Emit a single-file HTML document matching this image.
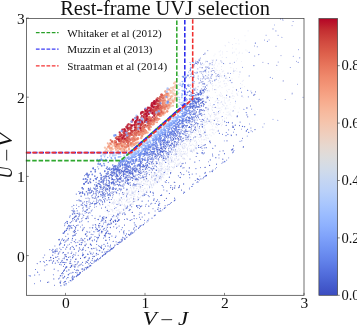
<!DOCTYPE html>
<html><head><meta charset="utf-8"><title>Rest-frame UVJ selection</title>
<style>
html,body{margin:0;padding:0;background:#fff;}
svg{display:block;}
text{font-family:"Liberation Serif","DejaVu Serif",serif;fill:#111;}
.tk{font-size:15.5px;}
.ck{font-size:14.6px;}
.lg{font-size:11.1px;}
.ti{font-size:20.5px;}
.xl{font-size:19.3px;font-style:italic;}
.mn{font-style:normal;}
</style></head><body>
<svg width="357" height="325" viewBox="0 0 357 325">
<rect width="357" height="325" fill="#fff"/>
<defs><linearGradient id="cw" x1="0" y1="0" x2="0" y2="1"><stop offset="0.0000" stop-color="#b40426"/><stop offset="0.0417" stop-color="#c32e31"/><stop offset="0.0833" stop-color="#d1493f"/><stop offset="0.1250" stop-color="#dd5f4b"/><stop offset="0.1667" stop-color="#e7745b"/><stop offset="0.2083" stop-color="#ef886b"/><stop offset="0.2500" stop-color="#f4987a"/><stop offset="0.2917" stop-color="#f7a98b"/><stop offset="0.3333" stop-color="#f7b89c"/><stop offset="0.3750" stop-color="#f5c4ac"/><stop offset="0.4167" stop-color="#efcebd"/><stop offset="0.4583" stop-color="#e7d7ce"/><stop offset="0.5000" stop-color="#dddcdc"/><stop offset="0.5417" stop-color="#d2dbe8"/><stop offset="0.5833" stop-color="#c5d6f2"/><stop offset="0.6250" stop-color="#b9d0f9"/><stop offset="0.6667" stop-color="#aac7fd"/><stop offset="0.7083" stop-color="#9bbcff"/><stop offset="0.7500" stop-color="#8db0fe"/><stop offset="0.7917" stop-color="#7ea1fa"/><stop offset="0.8333" stop-color="#6f92f3"/><stop offset="0.8750" stop-color="#6282ea"/><stop offset="0.9167" stop-color="#5470de"/><stop offset="0.9583" stop-color="#465ecf"/><stop offset="1.0000" stop-color="#3b4cc0"/></linearGradient></defs><rect x="318.9" y="18.5" width="18.7" height="276.8" fill="url(#cw)" stroke="#444" stroke-width="0.7"/><line x1="337.6" y1="295.3" x2="339.8" y2="295.3" stroke="#333" stroke-width="0.6"/><text x="341.4" y="300.0" class="ck">0.0</text><line x1="337.6" y1="237.9" x2="339.8" y2="237.9" stroke="#333" stroke-width="0.6"/><text x="341.4" y="242.6" class="ck">0.2</text><line x1="337.6" y1="180.5" x2="339.8" y2="180.5" stroke="#333" stroke-width="0.6"/><text x="341.4" y="185.2" class="ck">0.4</text><line x1="337.6" y1="123.1" x2="339.8" y2="123.1" stroke="#333" stroke-width="0.6"/><text x="341.4" y="127.8" class="ck">0.6</text><line x1="337.6" y1="65.7" x2="339.8" y2="65.7" stroke="#333" stroke-width="0.6"/><text x="341.4" y="70.4" class="ck">0.8</text><g fill="none" stroke-linecap="round"><path d="M78.2 255.4h0M64.5 276.9h0M54.6 285.3h0M64.9 242.3h0M57.3 251.2h0M81.8 269.1h0M64.8 231.5h0M185.4 163.0h0M165.1 205.7h0M63.1 258.6h0M53.7 260.8h0M92.9 234.6h0M116.1 241.8h0M107.1 200.2h0M59.3 244.9h0M62.9 278.0h0M85.6 263.2h0M64.3 257.2h0M44.7 255.1h0M85.3 211.2h0M43.2 257.7h0M72.9 220.8h0M94.5 204.8h0M89.9 227.8h0M84.6 175.7h0M76.1 221.3h0M58.2 262.3h0M77.9 230.4h0M153.0 208.7h0M82.2 242.7h0M76.7 245.7h0M140.7 186.9h0M174.2 182.3h0M60.8 281.1h0M127.3 219.3h0M54.9 246.0h0M59.8 251.8h0M64.7 225.7h0M70.4 267.2h0M65.3 268.4h0M171.8 160.9h0M77.2 263.8h0M82.5 187.5h0M92.0 248.9h0M228.7 129.9h0M198.5 145.5h0M80.0 272.4h0M72.9 265.1h0M72.8 255.7h0M70.7 247.6h0M182.0 163.8h0M62.8 253.1h0M228.0 73.2h0M86.4 236.2h0M127.2 194.1h0M205.5 144.7h0M106.1 217.9h0M119.0 219.6h0M80.1 249.4h0M71.5 221.7h0M149.3 174.6h0M145.4 206.2h0M250.6 106.0h0M73.3 212.9h0M184.0 167.7h0M120.0 200.1h0M55.9 257.2h0M134.1 215.5h0M126.6 177.1h0M255.5 91.9h0M201.1 136.0h0M148.2 195.5h0M125.1 214.1h0M64.0 233.1h0M45.0 265.8h0" stroke="#3b4cc0" stroke-width="1.0" stroke-opacity="0.9"/><path d="M68.8 225.4h0M87.2 216.9h0M64.6 254.7h0M123.2 194.5h0M234.5 129.3h0M131.7 206.8h0M111.3 199.5h0M133.9 201.6h0M82.8 240.7h0M74.4 230.4h0M196.2 156.5h0M75.5 259.2h0M81.3 264.0h0M113.5 221.3h0M93.0 225.1h0M103.3 193.3h0M81.9 218.6h0M113.7 226.8h0M58.1 270.7h0M73.2 218.3h0M140.6 219.2h0M75.4 228.9h0M74.6 219.3h0M242.5 138.2h0M134.1 218.6h0M79.4 247.9h0M62.1 275.8h0M37.2 263.6h0M138.5 228.2h0M113.7 222.1h0M151.8 177.0h0M67.9 239.9h0M209.9 171.7h0M92.6 258.6h0M87.3 262.5h0M63.5 266.2h0M214.3 120.4h0M69.6 228.3h0M95.0 218.4h0M246.3 131.3h0M53.2 261.2h0M96.9 249.9h0M60.5 282.9h0M101.0 246.8h0M134.3 227.7h0M164.7 208.2h0M102.9 218.4h0M73.1 235.4h0M107.3 227.5h0M174.8 182.2h0M239.5 125.6h0M210.0 141.1h0M160.6 195.5h0M101.6 248.5h0M90.5 192.9h0M202.3 127.1h0M83.2 210.0h0M72.6 257.6h0M92.2 240.3h0M74.8 216.7h0M146.4 192.1h0M74.3 217.5h0M204.5 145.0h0M79.0 265.6h0M106.0 189.1h0M86.8 267.7h0M82.4 230.6h0M88.2 218.1h0M91.2 234.2h0M108.5 197.5h0M82.7 239.2h0M226.6 95.3h0M181.2 165.7h0M99.9 225.5h0M166.0 182.5h0M96.1 203.3h0M150.7 204.0h0M75.3 234.9h0M111.8 173.3h0M232.9 127.4h0M91.4 248.6h0M121.3 239.2h0" stroke="#3b4cc0" stroke-width="1.1" stroke-opacity="0.9"/><path d="M85.0 257.5h0M83.0 229.6h0M232.4 149.7h0M181.5 190.1h0M53.5 258.4h0M72.7 276.2h0M66.4 256.7h0M132.3 212.4h0M74.3 241.6h0M104.4 235.3h0M89.7 238.9h0M98.1 254.3h0M101.8 232.7h0M170.7 172.6h0M55.4 251.2h0M148.8 206.2h0M122.7 192.7h0M111.2 223.7h0M84.4 257.7h0M174.6 188.0h0M65.9 241.1h0M90.7 244.4h0M61.8 273.6h0M246.9 108.0h0M110.4 220.7h0M93.1 256.5h0M130.3 205.1h0M107.3 210.5h0M88.3 247.6h0M236.4 134.8h0M78.1 270.5h0M146.5 178.7h0M205.1 167.4h0M253.8 95.2h0M66.7 247.2h0M105.8 222.1h0M82.1 192.7h0M59.2 239.8h0M143.5 224.6h0M98.2 219.6h0M109.9 233.9h0M85.6 234.6h0M99.0 227.0h0M81.3 204.9h0M76.1 259.1h0M236.5 89.9h0M189.4 167.9h0M77.2 213.4h0M93.8 188.1h0M140.9 206.4h0M71.2 253.3h0M180.5 172.6h0M85.1 245.1h0M82.5 191.8h0M162.5 151.9h0M243.3 147.1h0M106.2 233.1h0M255.0 129.6h0M75.8 264.7h0" stroke="#3b4cc0" stroke-width="1.3" stroke-opacity="0.9"/><path d="M105.9 240.5h0M58.7 278.8h0M103.5 249.6h0M89.5 190.1h0M124.5 225.1h0M74.6 232.6h0M179.3 186.9h0M111.3 219.5h0M88.0 260.6h0M64.5 231.9h0M196.9 153.0h0M227.0 140.8h0M232.9 148.8h0M176.0 154.1h0M119.9 213.1h0M172.5 189.5h0M247.7 116.8h0M47.5 282.3h0M128.7 234.4h0M105.6 220.7h0M118.6 220.1h0M80.5 258.4h0M153.7 200.2h0M71.0 273.0h0M232.9 126.2h0M75.2 255.0h0M85.1 245.7h0M76.7 225.6h0M66.8 266.9h0M44.4 270.0h0M169.4 193.5h0M105.5 253.6h0M237.2 116.7h0M70.2 261.7h0M199.9 134.4h0M81.0 240.1h0M142.2 166.7h0M49.3 260.7h0M71.4 265.4h0M142.2 217.0h0M161.5 148.0h0M68.1 252.9h0M114.9 245.2h0M140.3 206.8h0M136.6 206.2h0M75.3 231.4h0M57.3 260.7h0M64.3 270.1h0M64.0 282.7h0M99.6 223.5h0M197.4 179.1h0M110.1 246.9h0M237.3 115.9h0M223.1 150.8h0M75.8 216.2h0M133.7 198.9h0M110.4 220.3h0M75.1 266.8h0M209.6 165.4h0M58.2 254.1h0M172.7 187.9h0M178.7 187.6h0M103.8 218.9h0M98.5 225.3h0M94.5 256.3h0M86.2 261.6h0M222.8 159.2h0M67.9 234.0h0M157.8 209.4h0M107.8 231.1h0M166.4 198.3h0M72.1 210.5h0M233.5 145.8h0" stroke="#3b4cc0" stroke-width="1.2" stroke-opacity="0.9"/><path d="M113.3 189.3h0M88.4 213.1h0M106.3 189.8h0M153.3 152.8h0M67.1 228.6h0M86.4 212.2h0M97.9 202.6h0M145.4 176.7h0M127.0 189.4h0M180.3 144.0h0M138.7 174.4h0M159.0 150.0h0M150.6 159.3h0M130.5 185.0h0M195.8 115.8h0M112.8 195.7h0M113.3 194.2h0M127.7 179.6h0M113.4 187.7h0M180.9 139.0h0M105.4 190.5h0M94.6 198.2h0M166.3 153.8h0M185.1 132.9h0M88.1 198.1h0M190.1 127.6h0M117.2 181.4h0M105.1 194.1h0M106.1 191.6h0M117.0 184.4h0M108.4 185.3h0M199.8 119.3h0M187.7 131.4h0M188.8 136.8h0M122.4 180.8h0M152.0 169.1h0M92.9 197.7h0M120.6 179.0h0M102.1 187.8h0M201.6 115.6h0M152.2 161.3h0M104.2 176.9h0M96.2 186.3h0M133.2 173.1h0M195.3 127.0h0M188.1 139.2h0M102.7 197.7h0M133.5 176.0h0M113.6 181.3h0M86.0 198.2h0M147.8 158.5h0M101.2 178.4h0M164.3 150.9h0M98.4 201.0h0M156.7 163.6h0M129.5 172.9h0M104.1 254.5h0M184.6 192.3h0M113.6 247.7h0M82.4 271.2h0M171.4 202.5h0M113.5 247.4h0M133.0 232.5h0M95.3 260.8h0M200.9 178.9h0M139.8 226.1h0M117.6 244.5h0M112.5 248.5h0M120.4 242.3h0M94.2 261.8h0M73.8 277.3h0M78.3 274.8h0M98.5 259.7h0M64.0 284.8h0M91.5 263.5h0" stroke="#3b4cc0" stroke-width="1.1" stroke-opacity="0.8"/><path d="M109.6 188.4h0M79.5 215.1h0M108.3 185.6h0M79.2 213.0h0M89.1 208.2h0M107.4 188.9h0M113.1 182.1h0M139.0 170.4h0M109.3 187.0h0M106.6 179.8h0M158.7 159.0h0M96.1 194.9h0M104.1 187.3h0M182.1 125.7h0M99.2 183.2h0M113.8 180.1h0M127.5 175.6h0M88.1 192.8h0M107.0 176.4h0M129.6 177.0h0M165.5 148.7h0M105.9 185.7h0M154.7 156.9h0M143.3 177.4h0M142.7 176.0h0M195.1 129.1h0M111.8 182.4h0M117.8 179.0h0M97.4 190.5h0M104.2 178.6h0M97.0 186.0h0M163.9 147.8h0M172.2 143.5h0M132.5 174.8h0M93.6 193.0h0M119.2 188.9h0M107.2 185.3h0M189.5 126.5h0M174.3 147.1h0M137.9 179.4h0M191.1 129.8h0M120.1 182.2h0M159.5 157.2h0M178.8 140.6h0M201.5 109.9h0M162.8 149.1h0M175.8 138.7h0M193.1 125.9h0M121.6 175.4h0M122.0 181.6h0M169.2 151.3h0M89.5 192.9h0M102.8 192.2h0M151.5 155.0h0M118.0 179.7h0M116.1 188.8h0M178.3 142.1h0M107.6 188.7h0M111.5 183.6h0M117.7 176.5h0M102.8 183.0h0M176.3 144.1h0M186.0 125.5h0M152.8 161.8h0M195.2 127.2h0M113.8 183.2h0M193.1 120.1h0M106.8 180.6h0M178.4 138.4h0M192.0 96.2h0M77.1 275.3h0M129.6 235.1h0M99.8 258.6h0M102.3 256.2h0M206.3 175.4h0M105.1 254.1h0M76.3 276.6h0M191.8 186.5h0M84.1 270.3h0M223.0 162.2h0M79.5 274.0h0M87.9 267.7h0" stroke="#3b4cc0" stroke-width="1.2" stroke-opacity="0.8"/><path d="M125.4 182.2h0M98.3 197.0h0M103.6 196.0h0M151.3 172.4h0M105.4 196.2h0M89.7 198.8h0M113.1 191.8h0M121.7 189.9h0M116.2 192.7h0M102.7 204.6h0M116.1 188.3h0M174.0 146.2h0M166.4 158.9h0M138.4 177.0h0M146.4 175.2h0M203.7 54.5h0M124.9 239.0h0M114.5 246.8h0M140.6 226.4h0M68.8 282.2h0M138.8 227.8h0M87.2 267.0h0M228.7 157.9h0M154.2 215.9h0" stroke="#3b4cc0" stroke-width="0.9" stroke-opacity="0.8"/><path d="M99.1 180.9h0M202.1 102.7h0M162.5 140.9h0" stroke="#3b4cc0" stroke-width="1.6" stroke-opacity="0.8"/><path d="M116.7 177.9h0M67.4 223.1h0M113.8 172.1h0M106.8 184.2h0M91.7 191.0h0M186.2 131.3h0M159.5 149.4h0M103.0 181.0h0M118.8 172.8h0M179.0 136.4h0M100.7 182.2h0M195.7 123.7h0M160.8 154.9h0M163.4 142.7h0M98.1 183.5h0M203.4 106.0h0M124.6 170.3h0M106.5 182.1h0M129.7 172.5h0M146.3 167.5h0M109.2 185.5h0M192.0 118.0h0M111.6 177.9h0M199.9 114.3h0M158.0 153.5h0M207.4 97.0h0M188.2 120.4h0M130.1 172.1h0M194.9 114.2h0M105.3 183.9h0M125.6 169.6h0M101.9 182.2h0M154.2 151.7h0M181.2 136.9h0M172.0 143.0h0M119.0 170.9h0" stroke="#3b4cc0" stroke-width="1.3" stroke-opacity="0.8"/><path d="M100.8 200.0h0M88.0 216.1h0M127.3 178.9h0M121.2 177.6h0M86.7 191.7h0M141.3 173.2h0M174.7 145.2h0M160.1 156.3h0M103.9 186.1h0M183.2 140.7h0M100.4 187.5h0M90.3 203.9h0M183.6 138.2h0M118.4 185.8h0M96.7 199.1h0M82.9 202.3h0M95.3 196.7h0M128.5 177.2h0M103.7 184.0h0M160.0 153.6h0M112.1 189.1h0M96.8 200.3h0M87.8 194.8h0M105.1 198.5h0M97.4 186.7h0M112.0 192.0h0M175.1 146.2h0M177.6 137.5h0M135.0 178.2h0M186.0 139.5h0M195.4 130.5h0M130.5 177.0h0M122.3 185.1h0M152.9 164.0h0M152.6 170.2h0M199.6 60.7h0M204.9 54.0h0M175.1 199.9h0M87.6 267.5h0M205.6 176.2h0M119.4 242.8h0M102.3 256.3h0M71.1 280.9h0M129.2 235.1h0M89.0 266.7h0M80.6 272.5h0M86.5 268.9h0M203.0 178.7h0M121.2 241.4h0M87.9 267.0h0M197.6 181.8h0M124.9 238.9h0M174.5 200.4h0" stroke="#3b4cc0" stroke-width="1.0" stroke-opacity="0.8"/><path d="M88.3 183.1h0" stroke="#3b4cc0" stroke-width="1.8" stroke-opacity="0.8"/><path d="M94.6 188.9h0M102.2 189.4h0M93.5 180.5h0M112.6 179.3h0M108.3 176.6h0M101.0 187.7h0M203.4 103.7h0M103.8 179.1h0M196.8 99.3h0M121.8 171.3h0M199.4 105.0h0M123.1 171.8h0M106.2 176.5h0M140.0 165.5h0M185.8 129.9h0M110.6 174.5h0M119.3 178.8h0M161.3 148.2h0M196.1 107.1h0M194.0 93.4h0" stroke="#3b4cc0" stroke-width="1.4" stroke-opacity="0.8"/><path d="M89.9 181.3h0M79.7 193.6h0M97.3 177.4h0M96.9 185.4h0M88.6 188.4h0M86.7 181.5h0M189.0 117.8h0M207.2 98.0h0M196.4 112.1h0M201.1 99.2h0M202.6 101.4h0M193.8 103.8h0M193.1 105.8h0M200.8 100.3h0M114.2 173.2h0M205.9 107.8h0M121.6 170.5h0" stroke="#3b4cc0" stroke-width="1.5" stroke-opacity="0.8"/><path d="M90.5 182.5h0M201.5 93.5h0M198.8 101.2h0" stroke="#3b4cc0" stroke-width="1.7" stroke-opacity="0.8"/><path d="M100.2 204.9h0M104.5 200.1h0M87.0 207.1h0M89.7 204.6h0M102.6 201.9h0M205.0 53.1h0" stroke="#3b4cc0" stroke-width="0.8" stroke-opacity="0.8"/><path d="M204.7 121.1h0M204.9 125.2h0M121.9 202.2h0M155.0 172.6h0M168.6 164.4h0M139.7 187.4h0M123.8 208.6h0M178.0 163.2h0M201.6 134.6h0M158.1 170.6h0M153.3 184.2h0M110.5 222.7h0M171.4 158.4h0M174.2 155.3h0M219.1 113.1h0M174.5 167.0h0M149.3 172.5h0M134.3 186.5h0M155.5 173.6h0M229.3 99.7h0M187.5 149.6h0M150.2 179.1h0M196.2 136.9h0M175.5 152.0h0M174.9 158.4h0M175.7 152.0h0M183.8 151.4h0M134.8 200.8h0M178.0 151.2h0M134.6 186.1h0M101.8 218.0h0M108.1 216.1h0M179.1 164.6h0M157.1 167.7h0M185.6 147.4h0M224.7 118.3h0M164.0 175.3h0M171.8 170.8h0M138.1 198.2h0M124.5 204.4h0M180.3 162.0h0M171.5 156.4h0M203.0 133.5h0M174.9 162.5h0M172.4 151.6h0M204.3 121.0h0M134.3 191.3h0M137.8 182.1h0M167.8 165.4h0M201.7 139.8h0M170.7 157.0h0M91.7 227.5h0M113.4 204.3h0M168.0 160.0h0M138.4 178.5h0M114.5 200.4h0M143.2 180.4h0M204.7 131.9h0M161.8 168.9h0M191.1 151.5h0M180.2 162.4h0M129.0 202.4h0M228.0 115.2h0M200.2 137.5h0M168.0 171.5h0M132.1 193.4h0M117.9 206.1h0M158.7 172.1h0M140.4 177.0h0M126.8 188.9h0M167.0 169.8h0M153.5 172.8h0M222.9 104.5h0M134.9 196.1h0M210.0 130.0h0M203.8 133.7h0M112.7 221.2h0M203.8 128.9h0M114.2 202.4h0M127.8 197.5h0M190.5 141.8h0M198.9 131.7h0M181.8 151.4h0M200.2 125.4h0M159.1 175.6h0M99.3 227.7h0M179.1 163.5h0M138.9 191.6h0M132.0 191.4h0M154.2 176.5h0M127.5 199.0h0M207.8 82.1h0M205.5 102.9h0M221.7 102.2h0M216.1 107.5h0M214.3 116.4h0M205.5 62.5h0M210.8 97.8h0M245.9 50.0h0M239.0 53.4h0M220.3 112.1h0M219.0 73.0h0M209.8 65.3h0M208.8 90.1h0M212.5 89.9h0M214.0 114.3h0M209.0 78.6h0M210.7 82.3h0M220.6 73.9h0M244.6 86.6h0M224.2 83.8h0M201.9 99.5h0M219.2 94.9h0M238.9 77.0h0M215.3 63.2h0M230.4 102.5h0M202.6 90.3h0M239.0 43.9h0M206.6 96.1h0M202.8 82.0h0M227.8 80.3h0M217.9 105.2h0M235.2 70.5h0M208.5 109.7h0M207.7 107.6h0" stroke="#3b4cc0" stroke-width="0.6" stroke-opacity="0.2"/><path d="M168.2 163.2h0M213.0 132.8h0M237.4 94.4h0M189.2 140.8h0M102.9 221.6h0M223.4 112.6h0M170.5 158.9h0M181.4 156.5h0M186.3 140.0h0M126.4 207.6h0M169.9 162.3h0M107.8 205.1h0M99.2 231.1h0M208.1 138.4h0M131.5 192.8h0M126.8 208.5h0M130.1 194.9h0M144.1 180.2h0M193.6 150.3h0M191.1 150.1h0M122.7 199.6h0M161.3 177.8h0M150.4 184.2h0M181.5 145.7h0M178.1 159.5h0M105.0 216.5h0M181.5 156.5h0M167.9 157.0h0M118.2 211.0h0M96.1 230.1h0M230.7 114.9h0M158.2 180.3h0M106.7 217.6h0M156.1 181.7h0M143.8 183.5h0M113.0 202.8h0M108.8 214.7h0M180.7 144.5h0M118.1 213.6h0M148.5 180.7h0M187.7 149.2h0M122.2 213.4h0M197.7 129.9h0M192.3 144.2h0M183.8 159.2h0M150.9 184.1h0M126.5 200.5h0M153.3 184.2h0M108.5 205.6h0M210.2 122.8h0M125.2 206.6h0M192.7 151.1h0M190.6 141.4h0M187.4 147.9h0M196.7 142.1h0M187.5 140.9h0M195.9 147.6h0M114.6 216.8h0M185.1 143.7h0M147.0 192.4h0M183.8 154.2h0M157.3 182.1h0M113.0 210.3h0M162.1 167.0h0M200.8 131.0h0M151.7 184.4h0M184.0 158.6h0M161.1 174.0h0M158.7 164.6h0M129.2 198.6h0M171.6 149.8h0M158.8 177.1h0M143.5 190.0h0M150.2 183.1h0M135.4 199.0h0M189.1 141.0h0M182.2 147.8h0M134.2 194.5h0M145.0 188.7h0M165.6 168.7h0M94.8 232.7h0M137.6 197.1h0M196.2 149.7h0M175.3 148.9h0M196.1 143.5h0M112.5 211.2h0M215.2 118.1h0M160.3 170.9h0M195.1 146.3h0M221.5 125.7h0M126.8 199.9h0M190.1 139.7h0M99.2 217.6h0M156.4 181.0h0M160.9 168.6h0M168.0 152.5h0M215.7 127.0h0M190.8 145.2h0M139.1 186.5h0M141.7 181.8h0M160.7 177.8h0M205.5 84.1h0M212.6 110.2h0M208.8 105.7h0M224.5 73.7h0M221.4 69.5h0M213.2 59.7h0M214.6 114.1h0M220.0 95.3h0M221.8 101.7h0M225.1 45.4h0M201.5 123.3h0M209.1 114.4h0M206.1 110.5h0M221.9 75.6h0M205.9 122.3h0M210.7 105.2h0M206.4 68.3h0M213.0 85.3h0M239.3 74.7h0M218.7 113.8h0M234.5 38.5h0M210.2 82.8h0M207.1 96.1h0M232.6 44.5h0M219.8 85.8h0M209.0 120.4h0M227.3 91.8h0M224.8 83.6h0M222.2 71.9h0M213.0 107.6h0M212.5 88.4h0M211.1 71.7h0" stroke="#3b4cc0" stroke-width="0.7" stroke-opacity="0.2"/><path d="M161.0 174.1h0M143.8 178.5h0M126.0 208.7h0M148.5 180.4h0M162.8 176.2h0M185.6 151.8h0M124.6 193.0h0M167.1 169.2h0M109.4 206.1h0M130.5 187.4h0M161.0 170.3h0M176.6 154.0h0M200.2 124.0h0M185.9 154.1h0M235.4 103.1h0M113.7 201.3h0M197.9 134.8h0M134.9 192.4h0M153.7 176.4h0M129.1 201.6h0M126.6 206.9h0M128.2 192.9h0M152.5 168.7h0M171.4 166.7h0M238.5 91.5h0M166.1 160.7h0M108.0 226.1h0M127.0 200.9h0M204.7 125.8h0M190.8 134.3h0M142.4 176.2h0M131.8 195.2h0M161.8 169.7h0M99.2 224.0h0M136.4 188.8h0M176.0 151.0h0M119.0 198.9h0M140.6 184.2h0M182.4 154.6h0M119.0 209.8h0M217.7 121.3h0M166.8 174.1h0M116.3 210.7h0M213.5 123.9h0M132.2 204.3h0M205.1 131.1h0M138.8 197.9h0M183.4 143.5h0M91.6 230.6h0M111.4 209.6h0M182.7 145.0h0M162.9 159.0h0M193.8 137.3h0M196.6 142.2h0M201.4 144.6h0M147.0 184.3h0M142.4 177.5h0M173.2 161.5h0M187.5 150.3h0M226.3 83.7h0M222.4 104.1h0M215.1 114.4h0M232.0 93.3h0M209.1 91.0h0M227.0 51.5h0M202.7 75.7h0M216.1 114.0h0M232.7 52.4h0M215.2 101.8h0M228.5 42.3h0M240.4 83.5h0M243.2 80.4h0" stroke="#3b4cc0" stroke-width="0.8" stroke-opacity="0.2"/><path d="M156.0 174.4h0M152.0 173.9h0M217.4 118.9h0M200.3 134.8h0M143.7 178.9h0M175.4 152.2h0M178.8 160.1h0M109.2 210.2h0M188.3 135.2h0M111.4 216.3h0M216.2 118.5h0M140.1 188.6h0M187.0 155.2h0M174.6 166.6h0M161.3 176.0h0M208.5 119.9h0M161.6 178.2h0M106.7 225.7h0M124.9 207.6h0M226.5 118.4h0M191.3 134.9h0M145.5 181.6h0M130.9 194.9h0M131.7 197.3h0M210.9 115.7h0M133.1 193.7h0M159.4 182.0h0M153.4 167.9h0M149.8 174.7h0M196.5 134.0h0M160.1 178.0h0M179.2 151.9h0M132.8 203.0h0M167.9 169.1h0M129.7 190.9h0M201.8 142.4h0M165.6 156.8h0M183.0 158.0h0M112.1 203.2h0M185.0 154.2h0M228.0 101.0h0M197.7 144.2h0M162.5 159.6h0M164.7 155.6h0M211.8 73.7h0M223.4 81.5h0M241.5 61.5h0M220.1 86.1h0M204.5 102.6h0M215.4 71.6h0M227.1 85.3h0M209.5 78.8h0M211.9 60.0h0M209.5 116.0h0M202.8 65.3h0M229.6 89.5h0M219.9 108.2h0M225.2 102.9h0M201.8 125.5h0" stroke="#3b4cc0" stroke-width="0.5" stroke-opacity="0.2"/><path d="M293.1 21.5h0M278.1 35.4h0M208.5 161.8h0M276.0 46.3h0M205.0 132.5h0M278.2 62.1h0M219.0 158.0h0M214.9 89.6h0M202.4 67.7h0M198.3 63.0h0M203.0 84.3h0M212.2 62.7h0M203.5 78.0h0M211.7 75.9h0M212.9 70.5h0M211.5 71.2h0M206.1 66.9h0M207.0 78.4h0" stroke="#3b4cc0" stroke-width="1.0" stroke-opacity="0.7"/><path d="M241.4 129.2h0M199.8 176.2h0M281.0 55.6h0M296.4 61.4h0M262.9 62.4h0M292.2 93.2h0M285.2 99.5h0M254.5 46.0h0M229.4 77.5h0M220.9 60.9h0M195.8 88.2h0M195.8 90.0h0M201.6 88.9h0M206.6 88.6h0M200.4 62.9h0" stroke="#3b4cc0" stroke-width="0.9" stroke-opacity="0.7"/><path d="M276.8 65.3h0M268.2 63.6h0M202.0 148.5h0M283.2 80.9h0M230.0 63.2h0M201.8 146.8h0M217.6 75.0h0M201.9 67.8h0M202.9 81.5h0" stroke="#3b4cc0" stroke-width="1.1" stroke-opacity="0.7"/><path d="M258.8 54.6h0M215.2 107.4h0M195.3 180.5h0M229.7 96.9h0" stroke="#3b4cc0" stroke-width="1.2" stroke-opacity="0.7"/><path d="M203.6 90.0h0M193.1 85.7h0M204.9 78.8h0M197.5 64.2h0M194.1 65.7h0M198.1 86.7h0M213.8 70.5h0" stroke="#3b4cc0" stroke-width="0.7" stroke-opacity="0.7"/><path d="M203.3 83.5h0M201.3 73.2h0M204.6 84.0h0M212.3 81.2h0M215.2 79.9h0M205.5 79.2h0M218.0 76.2h0" stroke="#3b4cc0" stroke-width="0.8" stroke-opacity="0.7"/><path d="M83.0 249.3h0M90.9 253.2h0M66.4 230.4h0M76.0 221.0h0M135.1 224.9h0M90.1 206.3h0M85.8 218.6h0M183.6 184.0h0M97.9 231.2h0M110.4 227.5h0M102.2 252.2h0M105.7 233.5h0M148.9 213.0h0M167.9 156.9h0M65.2 281.5h0M184.0 192.2h0M150.5 192.0h0M52.5 263.0h0M70.1 256.8h0M118.4 220.7h0M233.4 127.2h0M37.6 272.2h0M107.5 243.2h0M204.9 132.1h0M95.7 203.8h0M89.9 238.4h0M255.4 43.1h0M162.2 185.6h0M99.7 250.7h0M85.9 174.5h0M212.3 171.5h0M50.8 257.3h0M105.1 236.8h0M83.7 215.3h0M72.8 218.6h0M109.8 224.4h0M71.0 227.8h0M174.6 198.2h0M75.6 227.5h0M84.2 269.2h0M70.8 263.4h0M158.9 205.3h0M95.7 197.9h0M102.7 220.2h0M106.4 217.4h0M231.2 135.1h0M111.6 248.4h0M118.0 214.7h0M74.3 249.1h0M74.6 235.2h0M226.2 125.3h0M61.0 249.6h0M65.8 254.7h0M190.8 139.7h0M106.5 232.3h0M126.5 171.8h0M58.7 253.1h0M133.1 185.1h0M89.7 232.1h0M210.3 159.9h0M161.5 195.2h0M195.2 136.9h0M92.5 203.2h0M80.1 264.8h0M78.1 218.2h0M103.8 216.9h0M70.2 249.0h0M180.2 177.3h0M159.8 178.1h0M104.0 244.3h0M66.7 271.1h0M87.6 254.2h0M212.8 148.3h0M247.5 129.3h0M119.0 220.0h0M64.6 276.3h0M163.5 158.5h0M96.6 228.8h0M46.9 264.7h0M136.3 226.5h0M101.7 220.2h0M85.4 234.2h0M104.2 228.4h0M115.6 220.4h0M86.6 205.6h0M89.3 257.8h0M133.6 229.1h0M83.5 254.7h0M68.5 257.3h0M105.2 189.1h0M228.4 122.5h0M82.5 269.0h0M63.5 240.5h0M97.7 238.8h0M215.2 145.8h0M71.6 266.5h0M224.5 75.8h0M77.0 272.8h0M52.9 249.5h0M101.2 247.1h0M233.3 151.9h0M169.4 177.2h0M59.9 244.2h0M61.7 261.8h0M70.3 222.7h0M67.3 221.7h0M198.8 147.4h0M56.2 251.2h0M193.9 117.0h0M51.0 260.2h0M70.8 259.8h0M84.8 238.6h0M52.8 252.0h0M117.0 204.3h0M59.7 264.3h0M72.9 272.5h0M226.0 135.6h0M95.3 203.6h0M85.0 211.4h0M97.0 237.4h0M62.1 260.4h0M86.6 218.5h0M111.3 218.8h0M165.7 162.4h0M158.9 204.3h0M93.9 248.4h0M118.6 168.8h0M73.2 211.6h0M66.4 266.8h0M115.0 220.3h0M73.8 205.3h0M202.3 152.8h0M64.9 231.2h0M40.3 261.7h0M99.4 235.7h0M218.9 154.8h0M88.9 263.8h0M68.3 274.7h0M67.1 259.8h0M194.8 162.1h0M155.2 203.3h0M89.1 258.7h0M98.4 237.5h0M204.9 173.2h0M82.5 255.5h0M94.5 239.9h0M68.4 238.5h0M118.6 242.6h0M198.4 179.3h0M60.8 243.4h0M215.8 157.7h0M231.5 149.9h0M108.3 233.5h0M170.6 187.6h0M153.0 192.3h0M117.4 221.4h0M73.3 225.3h0M90.7 265.7h0M63.1 233.2h0M96.5 253.5h0M137.8 207.6h0M77.9 262.1h0M206.2 147.7h0M87.6 239.9h0M124.1 212.9h0M73.4 247.3h0M30.2 276.0h0M242.5 126.4h0M235.3 125.2h0M227.9 134.3h0M78.0 225.1h0M79.8 222.0h0M81.3 242.6h0M99.2 230.4h0M63.5 277.8h0M130.2 220.4h0" stroke="#465ecf" stroke-width="1.3" stroke-opacity="0.9"/><path d="M101.0 177.4h0M60.4 262.6h0M74.6 276.8h0M66.9 259.7h0M83.2 228.1h0M188.8 172.2h0M164.3 172.4h0M63.3 262.3h0M251.7 92.8h0M105.4 246.1h0M134.3 222.8h0M77.0 200.5h0M135.9 184.5h0M74.7 211.8h0M63.6 233.1h0M53.8 278.9h0M76.7 220.0h0M105.5 207.2h0M140.7 162.3h0M112.8 216.7h0M157.5 199.8h0M91.1 237.2h0M156.3 170.2h0M139.1 205.4h0M40.5 280.9h0M122.5 214.1h0M92.7 227.8h0M87.7 232.0h0M119.8 172.8h0M100.1 216.1h0M63.5 271.3h0M107.1 231.1h0M55.9 257.3h0M109.8 202.4h0M71.0 225.7h0M246.2 112.6h0M65.9 262.6h0M62.5 272.5h0M158.6 205.2h0M134.1 184.7h0M121.3 197.8h0M102.5 217.4h0M218.9 124.4h0M54.2 269.2h0M102.6 226.5h0M115.5 221.4h0M113.3 247.7h0M52.7 255.2h0M72.5 238.4h0M76.7 219.8h0M149.1 196.6h0M60.9 285.7h0M157.5 182.0h0M127.6 206.2h0M146.6 173.9h0M203.6 120.2h0M159.7 203.5h0M120.3 205.2h0M175.0 185.8h0M55.3 263.2h0M153.3 193.6h0M130.5 233.1h0M179.5 185.6h0M216.5 164.2h0M138.3 199.7h0M144.3 194.2h0M232.4 122.9h0M178.4 175.8h0M54.7 251.1h0M58.9 258.9h0M88.2 260.1h0M65.7 222.5h0M75.7 216.7h0M98.2 219.3h0M64.5 264.4h0M116.7 192.9h0M202.4 126.6h0M108.0 245.9h0M107.6 224.9h0M182.7 133.6h0M88.3 189.1h0M158.9 211.2h0M78.9 191.5h0M53.4 252.1h0M82.3 225.0h0M35.5 269.5h0M181.6 174.0h0M50.6 257.7h0M77.2 210.8h0M244.6 126.7h0M109.0 189.8h0M142.1 201.2h0M95.7 227.2h0M60.5 275.7h0M81.2 238.3h0M98.6 196.4h0M79.0 199.9h0M90.4 244.0h0M60.1 282.8h0M108.2 171.9h0M76.3 194.1h0M69.6 217.1h0M212.9 170.1h0M73.3 231.8h0M74.9 261.7h0M48.7 282.0h0M248.7 132.4h0M131.1 233.1h0M64.5 269.8h0M112.1 193.3h0M203.2 153.8h0M82.7 253.0h0M78.9 214.1h0M206.4 175.7h0M65.5 256.1h0M254.8 94.3h0M102.3 226.0h0M224.5 153.7h0M105.4 234.9h0M120.8 185.5h0M142.9 195.7h0M80.8 200.6h0M170.9 185.6h0M144.4 195.5h0M189.4 174.7h0M67.7 228.6h0M122.8 237.3h0M92.1 260.3h0M253.9 65.6h0M105.9 240.2h0M136.7 205.8h0M95.3 224.6h0M123.7 232.7h0M183.8 174.6h0M81.2 244.7h0M119.1 226.0h0M73.8 254.3h0M154.1 198.9h0M219.4 133.3h0M210.3 142.7h0M166.5 180.5h0M72.4 214.1h0M131.9 219.6h0M72.1 277.8h0M72.2 277.1h0M63.0 273.7h0M126.4 208.1h0" stroke="#465ecf" stroke-width="1.2" stroke-opacity="0.9"/><path d="M70.3 267.4h0M104.1 248.6h0M127.4 207.7h0M44.4 262.2h0M67.0 221.4h0M74.2 266.3h0M120.0 179.6h0M72.7 257.7h0M142.7 185.5h0M85.3 178.7h0M230.2 80.4h0M111.9 236.1h0M69.6 263.2h0M123.7 209.9h0M101.7 194.9h0M113.7 215.4h0M130.2 209.6h0M82.8 265.3h0M74.9 213.8h0M65.8 267.2h0M243.9 109.2h0M64.4 245.5h0M222.5 134.2h0M139.5 208.5h0M217.5 98.7h0M224.7 121.2h0M156.4 201.4h0M87.5 209.3h0M79.4 244.4h0M65.7 236.2h0M196.5 122.8h0M160.3 208.6h0M91.3 210.9h0M151.7 203.3h0M108.3 223.9h0M85.8 205.7h0M160.2 176.2h0M98.5 245.8h0M180.1 177.6h0M106.1 175.2h0M85.3 267.5h0M82.8 249.9h0M116.3 192.1h0M118.0 213.9h0M73.0 236.1h0M240.1 122.1h0M146.1 204.2h0M183.0 163.4h0M113.2 241.4h0M78.9 216.4h0M136.7 205.6h0M95.8 225.0h0M164.5 200.5h0M95.0 236.5h0M91.3 245.4h0M88.2 254.3h0M159.0 201.8h0M104.5 235.6h0M209.5 141.2h0M144.6 220.2h0M153.2 195.2h0M144.7 214.8h0M122.3 227.6h0M216.3 124.1h0M165.2 181.8h0M86.2 244.1h0M62.9 262.4h0M218.3 130.9h0M109.2 237.4h0M97.6 258.5h0M109.5 239.7h0M137.3 205.8h0M78.3 261.7h0M103.3 229.6h0M104.7 201.9h0M212.7 155.9h0M170.6 173.6h0M154.7 172.8h0M63.0 247.4h0M97.5 229.4h0M49.8 249.6h0M87.0 262.2h0M222.2 116.5h0M95.2 169.9h0M122.2 240.0h0M57.8 256.6h0M82.7 254.9h0M189.7 177.7h0M65.7 249.1h0M104.9 252.1h0M77.8 242.3h0M71.8 252.0h0M119.2 170.4h0M232.6 152.7h0M86.1 233.2h0M34.7 275.1h0M84.9 241.7h0M75.8 242.6h0M175.3 141.5h0M90.5 262.3h0M180.9 166.2h0M117.5 167.5h0M116.4 216.1h0M76.2 270.6h0M81.3 244.2h0M55.0 252.9h0M72.2 246.5h0M53.4 274.7h0M101.5 231.4h0M83.4 247.7h0M153.5 168.6h0M246.9 114.8h0M59.7 244.7h0M71.1 242.6h0M60.4 242.1h0M52.0 250.5h0M124.1 230.7h0M112.6 179.0h0M78.5 251.2h0M141.1 213.1h0M118.9 181.6h0M72.2 246.4h0M166.9 190.9h0M192.6 184.3h0M83.1 240.5h0M46.4 260.5h0M246.9 114.9h0M119.3 193.8h0M77.1 269.7h0M99.1 234.1h0M88.2 190.3h0M226.6 122.5h0M212.5 154.1h0M101.5 208.1h0M96.5 241.6h0M72.8 214.1h0M67.8 277.5h0M119.5 231.8h0M116.0 236.1h0M192.2 174.1h0M87.4 177.0h0M88.3 177.2h0M71.7 227.7h0M74.2 249.3h0M108.1 224.5h0M101.1 247.6h0M99.2 230.5h0M59.4 239.3h0M129.5 209.9h0M204.3 152.9h0M138.5 191.4h0M158.3 207.8h0M124.5 219.5h0M240.0 141.3h0M115.1 179.8h0M125.0 214.6h0M200.7 147.4h0M117.0 227.2h0M76.1 233.5h0M60.1 282.1h0M115.0 166.2h0M92.2 254.3h0M57.0 248.9h0M163.4 187.0h0" stroke="#465ecf" stroke-width="1.1" stroke-opacity="0.9"/><path d="M102.0 191.5h0M74.0 231.6h0M39.2 274.8h0M251.1 130.8h0M92.7 241.0h0M105.1 230.4h0M66.7 229.0h0M76.4 208.5h0M75.4 272.5h0M136.2 168.9h0M123.7 231.6h0M96.2 255.1h0M139.2 214.6h0M66.1 267.6h0M109.5 237.6h0M58.7 239.7h0M248.3 96.9h0M84.6 201.8h0M84.6 227.7h0M83.2 188.8h0M156.3 170.4h0M155.0 180.1h0M63.5 252.5h0M96.7 244.5h0M155.1 211.0h0M241.8 140.8h0M73.3 208.9h0M116.6 228.4h0M85.7 250.6h0M115.7 224.5h0M200.5 167.6h0M59.8 248.2h0M105.7 235.9h0M161.7 195.1h0M109.0 211.5h0M108.1 249.9h0M231.4 135.6h0M226.7 160.2h0M139.4 217.3h0M125.4 235.7h0M69.3 273.7h0M88.1 176.3h0M143.5 166.9h0M69.3 226.7h0M106.5 229.1h0M67.0 259.5h0M116.9 244.2h0M110.2 233.7h0M74.6 213.6h0M90.4 253.8h0M250.9 128.0h0M89.3 239.6h0M72.0 206.7h0M59.7 278.0h0M115.2 220.1h0M129.0 210.6h0M81.9 250.4h0M72.4 219.0h0M202.0 153.2h0M79.8 272.7h0M79.2 240.8h0M66.1 230.4h0M74.7 267.2h0M203.2 145.4h0M91.6 203.6h0M150.3 192.0h0M97.8 166.9h0M129.0 230.7h0M75.9 252.9h0M74.8 226.5h0M96.1 248.2h0M102.7 231.4h0M134.1 216.2h0M100.0 191.7h0M64.8 281.6h0M205.6 172.4h0M176.8 166.4h0M241.5 92.2h0M60.2 275.9h0M96.4 260.4h0M114.1 166.9h0M101.1 221.5h0M63.9 270.5h0M118.0 215.0h0M163.8 190.0h0M114.6 208.6h0M121.0 242.0h0M100.7 247.6h0M99.5 246.4h0M68.9 270.1h0M218.5 111.6h0M78.0 266.9h0M61.6 240.1h0M89.8 251.8h0M131.7 232.2h0M67.9 245.1h0M126.7 196.1h0M34.4 283.7h0M126.9 218.8h0M85.8 256.7h0M66.9 240.1h0M64.2 239.8h0M219.9 151.3h0M100.2 229.3h0M182.9 168.0h0M172.6 140.5h0M73.3 256.6h0M111.1 222.9h0M186.7 171.0h0M101.9 226.9h0M64.6 262.5h0M78.9 250.4h0M83.0 217.2h0M76.5 205.1h0M86.8 231.4h0M99.9 199.6h0M93.3 253.0h0M197.3 178.6h0M92.4 227.8h0M109.4 202.4h0M68.5 274.8h0M95.9 229.4h0M184.1 134.4h0M64.5 258.7h0M155.2 178.8h0M80.6 227.0h0M63.2 252.4h0M149.7 187.0h0M204.3 147.9h0M121.3 229.7h0M196.2 173.9h0M68.9 269.7h0M156.6 166.6h0M101.8 245.4h0M43.8 261.5h0M124.0 233.9h0M64.4 231.9h0M74.8 265.0h0M69.2 229.9h0M108.3 251.5h0M101.7 231.3h0M104.1 222.3h0M87.2 236.0h0M66.7 278.8h0M79.7 244.3h0M190.0 159.1h0M157.0 159.1h0M139.9 212.8h0M117.7 218.1h0M82.2 214.1h0M107.1 193.4h0M251.7 109.2h0M89.8 238.2h0M126.4 196.0h0M69.5 244.3h0M68.0 277.6h0" stroke="#465ecf" stroke-width="1.0" stroke-opacity="0.9"/><path d="M93.2 168.5h0M91.0 171.6h0M83.5 179.2h0M84.1 183.9h0M199.0 99.3h0M198.4 101.4h0M200.5 92.4h0M195.9 94.9h0M203.0 90.4h0M192.6 99.8h0M200.6 90.7h0M194.0 98.9h0" stroke="#465ecf" stroke-width="1.8" stroke-opacity="0.8"/><path d="M81.1 196.2h0M84.0 183.8h0M95.1 169.8h0M82.7 193.3h0M113.5 166.9h0M87.3 179.9h0M82.0 187.9h0M96.2 178.6h0M89.1 174.6h0M83.1 189.0h0M202.8 98.7h0M176.0 127.7h0M150.3 150.7h0M201.3 105.5h0M144.4 155.4h0M198.9 93.8h0M165.8 135.8h0M198.8 106.8h0M200.6 103.3h0M193.8 105.6h0M197.1 106.9h0M196.0 98.8h0M199.6 99.7h0M193.8 109.5h0M192.7 106.7h0M128.1 166.3h0M190.6 107.9h0M194.7 101.0h0M178.4 125.8h0M192.6 107.9h0M192.1 73.3h0M191.2 92.7h0" stroke="#465ecf" stroke-width="1.6" stroke-opacity="0.8"/><path d="M124.0 185.1h0M93.8 201.3h0M86.9 212.6h0M120.2 185.0h0M78.4 219.4h0M165.5 146.1h0M132.2 170.9h0M178.0 132.0h0M161.8 151.7h0M68.1 226.5h0M119.6 189.0h0M163.0 147.4h0M125.1 182.0h0M158.7 148.9h0M175.4 136.2h0M165.2 149.1h0M82.1 220.4h0M128.8 179.7h0M115.0 191.4h0M90.1 212.9h0M153.9 158.8h0M137.0 179.0h0M104.4 201.1h0M83.3 207.2h0M184.6 131.0h0M173.5 139.9h0M173.3 150.0h0M140.7 178.3h0M112.8 188.5h0M162.4 151.4h0M110.2 188.1h0M95.6 188.0h0M151.0 168.7h0M165.2 157.1h0M120.4 190.8h0M88.9 190.6h0M121.3 180.6h0M144.0 171.0h0M86.9 201.5h0M138.1 180.1h0M137.1 178.9h0M96.6 193.2h0M169.1 153.1h0M115.3 185.1h0M99.9 186.3h0M121.1 188.9h0M156.9 163.4h0M188.9 135.1h0M171.3 149.9h0M166.3 147.7h0M108.9 197.7h0M142.9 177.4h0M90.3 202.7h0M146.1 171.8h0M99.4 203.6h0M135.9 179.7h0M135.3 179.7h0M112.6 181.9h0M107.3 185.5h0M153.7 163.5h0M179.0 139.7h0M147.8 166.5h0M99.2 192.2h0M113.2 188.8h0M162.9 155.9h0M144.9 174.5h0M166.3 151.5h0M102.6 193.4h0M103.0 193.5h0M132.7 178.5h0M96.4 203.6h0M164.0 160.5h0M171.2 144.2h0M135.3 175.2h0M128.4 179.6h0M201.0 121.4h0M166.2 152.9h0M127.7 181.8h0M133.3 176.2h0M115.1 184.3h0M86.9 201.6h0M122.3 186.3h0M169.3 146.7h0M94.6 207.2h0M143.0 167.0h0M188.3 136.9h0M113.8 182.6h0M126.2 177.9h0M127.2 183.5h0M139.0 184.2h0M202.0 121.3h0M144.2 176.9h0M168.6 154.6h0M164.1 150.6h0M171.5 154.3h0M156.0 161.7h0M138.5 171.6h0M130.2 185.4h0M128.0 182.9h0M142.0 172.7h0M130.1 179.6h0M109.0 194.9h0M157.3 156.7h0M176.6 145.9h0M99.6 186.6h0M140.2 175.5h0M178.4 139.3h0M161.5 157.4h0M158.5 160.1h0M201.1 124.4h0M144.0 179.6h0M174.0 145.8h0M195.9 63.3h0M197.0 61.7h0M198.1 62.2h0M196.5 63.5h0M193.0 66.8h0M198.0 62.4h0M118.0 242.7h0M96.4 260.1h0M140.6 225.7h0M132.2 233.3h0M183.5 193.5h0M147.7 220.4h0M97.1 259.7h0M66.0 284.8h0M96.0 261.4h0M196.9 182.4h0M109.6 250.7h0M212.0 171.1h0M92.8 263.5h0M70.6 280.6h0M87.4 267.4h0M79.6 274.1h0M105.3 253.5h0M84.7 269.4h0M122.3 240.9h0M121.8 240.7h0M221.9 163.4h0M102.8 255.5h0M107.0 252.4h0M106.2 251.8h0M94.1 262.1h0M146.9 222.0h0M160.5 210.6h0M110.3 249.9h0M198.2 182.1h0M72.4 280.0h0M243.6 146.6h0M126.3 237.5h0M165.7 207.4h0M65.9 283.5h0M94.5 260.3h0M124.9 239.2h0M77.4 274.4h0M144.6 223.1h0M143.0 225.0h0" stroke="#465ecf" stroke-width="1.0" stroke-opacity="0.8"/><path d="M88.2 175.5h0M87.1 174.7h0M104.8 171.3h0M94.8 176.1h0M90.4 179.1h0M85.6 182.2h0M85.8 178.9h0M80.3 192.5h0M95.3 171.7h0M101.2 175.2h0M198.2 94.8h0M195.0 102.0h0M198.0 102.1h0M200.4 92.1h0M198.1 98.1h0M196.2 103.4h0M191.9 106.4h0M196.7 98.8h0M199.0 97.8h0M193.4 101.6h0M190.7 106.8h0" stroke="#465ecf" stroke-width="1.7" stroke-opacity="0.8"/><path d="M96.2 186.0h0M70.2 215.8h0M122.5 171.3h0M107.4 186.1h0M86.3 206.8h0M116.6 176.2h0M95.8 189.3h0M100.7 194.4h0M112.5 173.2h0M120.3 169.4h0M79.3 200.8h0M130.4 166.7h0M82.7 203.6h0M119.9 166.9h0M120.0 171.2h0M123.6 172.0h0M126.8 171.8h0M132.3 173.9h0M181.2 129.9h0M148.4 154.6h0M162.2 152.1h0M167.0 142.0h0M108.0 171.7h0M134.9 171.5h0M143.8 165.7h0M123.9 174.1h0M112.3 176.0h0M127.3 171.7h0M182.8 121.0h0M188.4 120.3h0M119.4 174.8h0M120.0 178.4h0M189.4 106.6h0M166.2 136.6h0M114.1 179.6h0M195.0 110.7h0M174.3 142.2h0M126.6 168.8h0M143.6 165.2h0M126.7 167.7h0M127.8 179.2h0M179.0 133.7h0M116.7 178.7h0M133.7 176.6h0M198.6 103.9h0M135.9 172.0h0M118.7 169.6h0M171.1 134.4h0M109.9 188.8h0M163.5 151.1h0M108.5 173.7h0M99.7 184.4h0M175.4 134.0h0M152.1 159.6h0M189.1 113.5h0M125.1 171.3h0M171.4 145.9h0M144.6 166.6h0M126.4 181.1h0M195.4 116.3h0M120.3 173.7h0M129.0 175.5h0M154.0 152.0h0M192.3 117.8h0M156.8 149.5h0M153.0 148.3h0M191.8 124.4h0M109.7 178.0h0M132.9 169.8h0M160.6 151.5h0M116.9 170.8h0M159.0 154.5h0M179.4 135.8h0M117.6 171.0h0M189.7 120.4h0M129.0 167.2h0M126.3 175.2h0M155.4 145.9h0M164.2 142.7h0M118.7 170.7h0M170.7 145.4h0M191.9 121.9h0M127.7 172.0h0M155.7 156.3h0M135.0 170.9h0M111.6 171.7h0M150.1 161.6h0M195.5 103.0h0M152.7 155.1h0M173.2 138.9h0M147.6 165.4h0M198.3 99.8h0M103.5 188.5h0M199.2 112.8h0M125.7 166.2h0M161.5 155.8h0M118.8 185.3h0M112.7 179.4h0M138.7 172.0h0M160.8 150.5h0M175.8 138.9h0M173.6 138.5h0M165.3 140.1h0M135.4 167.1h0M114.3 169.7h0M204.3 110.7h0M128.5 166.8h0M105.6 176.9h0M119.3 169.5h0M173.5 139.6h0M125.4 174.1h0M100.7 179.1h0M145.3 168.9h0M113.3 175.0h0M163.6 153.1h0M194.6 120.9h0M197.5 109.4h0M133.6 169.5h0M138.2 161.2h0M151.7 158.0h0M112.9 171.1h0M118.5 170.9h0M127.7 169.0h0M200.3 113.4h0M140.6 173.5h0M163.9 143.8h0M172.9 135.1h0M152.5 155.9h0M186.2 127.0h0M114.8 166.0h0M149.9 158.1h0M190.8 124.6h0M111.4 182.7h0M156.2 154.8h0M192.0 119.4h0M160.3 144.5h0M162.1 148.9h0M166.8 137.0h0M123.5 176.5h0M128.7 173.8h0" stroke="#465ecf" stroke-width="1.3" stroke-opacity="0.8"/><path d="M113.4 184.0h0M82.6 205.3h0M130.0 173.2h0M109.4 191.2h0M100.8 196.0h0M76.2 215.9h0M118.5 179.0h0M67.4 223.5h0M78.9 206.6h0M102.3 195.8h0M142.6 160.5h0M139.1 163.9h0M117.1 180.1h0M109.6 183.9h0M93.7 193.8h0M82.7 208.2h0M123.9 170.3h0M127.1 173.0h0M192.6 108.3h0M114.2 174.0h0M158.8 147.5h0M87.1 210.0h0M110.3 187.2h0M116.4 174.2h0M106.1 184.4h0M136.9 169.8h0M149.1 163.3h0M133.0 174.7h0M126.9 177.3h0M156.8 155.7h0M165.7 151.2h0M186.2 131.4h0M117.5 175.5h0M190.5 121.1h0M116.5 175.7h0M204.2 114.3h0M155.0 165.9h0M156.7 162.1h0M184.5 132.0h0M153.1 160.0h0M113.0 187.4h0M189.0 120.3h0M189.5 127.4h0M195.8 113.8h0M172.5 144.0h0M135.0 176.6h0M96.2 190.2h0M99.6 192.3h0M167.8 142.0h0M201.5 106.1h0M189.9 123.1h0M92.2 190.7h0M115.0 172.2h0M161.4 151.4h0M140.8 170.9h0M180.7 136.7h0M133.9 169.1h0M178.7 129.6h0M125.4 182.8h0M168.4 144.7h0M132.4 177.4h0M93.3 191.6h0M125.4 177.5h0M101.4 179.0h0M208.1 109.1h0M100.2 189.1h0M174.7 133.3h0M116.4 174.3h0M126.9 163.8h0M146.4 167.2h0M166.7 142.9h0M127.8 182.8h0M105.0 177.9h0M117.5 169.7h0M118.7 167.3h0M145.0 160.5h0M154.8 153.3h0M114.2 183.7h0M183.3 126.2h0M113.8 169.2h0M181.7 140.1h0M182.2 141.5h0M163.8 146.1h0M105.2 175.5h0M130.7 174.1h0M159.8 152.3h0M197.8 116.4h0M112.3 179.0h0M160.2 154.3h0M101.3 179.8h0M185.7 135.2h0M102.1 191.9h0M202.4 110.5h0M176.6 132.1h0M125.5 167.6h0M107.4 189.7h0M108.7 180.3h0M142.8 159.9h0M177.4 133.2h0M125.6 180.1h0M160.3 151.0h0M116.3 182.1h0M101.3 181.5h0M187.1 136.9h0M96.1 182.3h0M163.8 146.6h0M198.5 117.7h0M164.6 147.9h0M155.8 158.5h0M151.5 163.8h0M189.9 123.0h0M180.8 133.4h0M103.4 182.6h0M146.4 165.9h0M188.5 127.5h0M136.1 178.2h0M170.6 145.1h0M180.9 123.7h0M168.0 140.2h0M119.5 184.7h0M154.7 148.6h0M194.3 124.7h0M138.4 164.9h0M134.3 170.5h0M109.8 175.2h0M170.3 145.4h0M165.4 148.5h0M189.2 121.4h0M148.3 159.8h0M117.7 184.5h0M169.4 141.9h0M123.4 180.9h0M103.9 179.8h0M165.1 146.2h0M117.6 184.3h0M163.2 151.2h0M142.6 169.6h0M107.4 192.8h0M126.9 171.2h0M172.4 137.6h0M197.9 123.6h0M173.0 147.6h0M191.5 126.2h0M168.7 148.4h0M147.3 164.9h0M144.3 166.6h0M103.9 184.3h0M171.5 140.9h0M127.2 180.5h0M119.9 170.9h0M199.5 126.6h0M185.5 120.6h0M194.9 122.4h0M143.3 171.7h0M189.0 131.0h0M187.3 137.6h0M117.8 190.4h0M91.7 195.8h0M123.5 174.9h0M102.6 180.0h0M109.6 193.3h0M145.7 169.4h0M117.7 179.5h0M171.8 139.5h0M139.4 172.6h0M128.6 180.1h0M140.7 172.0h0M125.4 178.5h0M120.5 176.8h0M108.5 186.8h0M155.4 154.2h0M184.1 125.3h0M130.1 182.7h0M126.7 168.9h0M117.8 180.3h0M132.4 173.5h0M174.0 145.7h0M97.6 188.2h0M180.3 139.6h0M150.6 153.9h0M182.7 126.1h0M119.3 184.4h0M176.6 144.3h0M165.3 151.7h0M114.9 175.0h0M177.8 138.9h0M115.4 176.7h0M119.6 182.6h0M100.9 185.7h0M176.2 142.3h0M110.2 174.8h0M123.2 174.4h0M95.4 193.2h0M138.0 166.1h0M193.5 95.6h0M174.6 200.5h0M89.6 265.8h0M159.8 211.3h0M154.7 215.4h0M203.6 177.3h0M131.2 234.0h0M168.9 204.5h0M109.8 250.9h0M164.4 208.0h0M76.5 276.2h0M102.9 255.5h0M112.0 249.0h0M78.1 274.9h0M100.0 258.3h0M119.4 241.9h0M110.4 249.7h0M152.0 218.2h0M100.6 257.3h0" stroke="#465ecf" stroke-width="1.2" stroke-opacity="0.8"/><path d="M193.4 77.2h0" stroke="#465ecf" stroke-width="2.0" stroke-opacity="0.8"/><path d="M102.7 194.9h0M132.1 169.5h0M96.8 202.3h0M132.4 170.2h0M111.7 183.8h0M77.7 218.7h0M121.7 178.8h0M103.2 190.3h0M104.7 196.7h0M106.1 188.6h0M147.7 159.7h0M69.2 225.4h0M72.0 228.1h0M80.0 214.1h0M114.0 184.0h0M127.1 171.7h0M140.2 169.4h0M158.0 155.4h0M173.8 139.6h0M103.4 180.7h0M148.4 167.4h0M192.1 132.4h0M168.0 152.6h0M127.6 183.6h0M183.8 131.8h0M127.8 183.6h0M157.1 163.4h0M168.5 150.1h0M129.9 170.6h0M165.1 158.6h0M162.0 149.7h0M173.5 138.7h0M104.2 192.3h0M106.0 187.6h0M180.0 137.6h0M183.6 125.2h0M104.1 186.2h0M184.4 124.9h0M132.4 180.5h0M131.3 173.4h0M182.7 130.3h0M157.8 151.9h0M136.4 179.8h0M162.3 152.1h0M142.6 164.9h0M143.0 169.2h0M113.7 192.5h0M170.3 147.9h0M126.8 189.9h0M168.4 142.6h0M179.4 132.6h0M202.6 124.4h0M171.8 149.2h0M134.4 170.9h0M135.2 179.5h0M162.8 151.4h0M166.3 144.6h0M202.7 119.5h0M134.3 176.8h0M140.2 164.2h0M175.6 149.8h0M112.7 175.2h0M91.4 192.2h0M130.1 173.8h0M174.8 141.8h0M97.4 197.0h0M109.4 178.2h0M177.1 134.2h0M200.1 114.6h0M103.7 194.4h0M104.3 195.1h0M189.4 126.9h0M191.5 128.1h0M109.3 194.9h0M121.0 186.0h0M136.9 184.0h0M112.8 189.4h0M154.0 168.5h0M187.4 125.4h0M130.8 173.0h0M161.8 155.6h0M203.2 109.9h0M163.7 158.0h0M182.6 138.3h0M179.8 133.8h0M110.5 195.8h0M153.9 153.7h0M112.4 197.8h0M161.1 151.1h0M158.2 154.7h0M132.2 173.3h0M132.6 173.4h0M193.5 130.6h0M185.6 130.9h0M128.6 184.4h0M161.0 146.8h0M174.6 143.9h0M128.9 183.5h0M133.7 183.6h0M115.5 189.4h0M157.8 149.8h0M189.9 127.4h0M128.1 180.4h0M108.7 180.6h0M137.0 168.2h0M160.4 148.1h0M132.6 172.1h0M163.1 157.7h0M202.2 119.3h0M131.3 177.4h0M149.2 170.3h0M99.6 191.0h0M123.9 183.9h0M162.4 152.3h0M158.0 154.3h0M187.1 133.2h0M108.9 194.2h0M185.3 135.8h0M98.2 192.0h0M139.3 174.0h0M101.2 200.5h0M110.7 192.8h0M89.0 201.9h0M96.1 191.4h0M147.3 168.7h0M180.3 138.1h0M151.7 162.4h0M124.4 178.5h0M176.5 135.8h0M108.6 199.0h0M159.2 150.4h0M111.5 174.7h0M170.6 151.2h0M102.8 197.4h0M165.4 158.9h0M186.3 135.2h0M192.7 121.3h0M131.8 177.9h0M123.9 171.8h0M167.0 155.0h0M185.4 125.9h0M107.9 195.6h0M120.3 178.9h0M100.3 186.8h0M92.5 195.0h0M168.3 153.9h0M139.4 172.4h0M155.4 154.2h0M89.0 190.1h0M81.0 201.4h0M112.0 179.6h0M169.0 154.7h0M103.9 187.3h0M136.4 178.7h0M96.8 188.6h0M199.1 111.7h0M152.7 166.3h0M145.0 172.7h0M149.7 167.4h0M139.4 168.4h0M149.8 164.1h0M164.6 145.1h0M158.0 149.5h0M197.8 123.4h0M137.7 169.8h0M109.1 185.9h0M143.4 165.9h0M141.8 177.7h0M86.2 191.7h0M113.8 182.7h0M100.3 184.5h0M194.4 129.4h0M133.9 175.8h0M190.7 131.9h0M174.3 141.3h0M173.3 144.3h0M128.8 170.9h0M177.6 143.8h0M202.0 114.8h0M201.6 113.2h0M119.8 177.9h0M101.1 186.3h0M169.1 146.7h0M149.1 163.5h0M185.6 131.0h0M120.6 176.8h0M103.6 199.5h0M171.6 143.7h0M127.0 176.8h0M123.7 172.3h0M87.1 267.2h0M105.1 254.3h0M72.3 279.5h0M73.4 279.0h0M189.4 188.0h0M136.1 229.8h0M169.2 204.2h0M206.1 175.6h0M77.7 275.6h0M134.5 231.7h0M97.2 259.6h0M155.3 215.1h0M148.7 219.0h0M106.1 253.1h0M86.3 268.8h0M134.9 230.5h0M106.8 251.8h0M80.4 273.2h0M161.0 211.0h0M164.3 208.3h0M90.6 265.4h0M132.8 233.1h0M127.0 237.1h0M77.6 275.7h0M72.4 278.5h0M124.7 239.0h0M64.6 285.1h0M118.0 244.5h0M130.4 234.6h0M103.8 254.9h0M122.5 239.1h0M167.4 205.1h0M111.7 249.3h0M107.5 251.6h0M170.5 203.3h0" stroke="#465ecf" stroke-width="1.1" stroke-opacity="0.8"/><path d="M96.3 206.6h0M143.4 165.0h0M89.3 212.4h0M123.3 186.3h0M139.1 177.5h0M168.4 157.0h0M87.0 203.9h0M92.2 197.6h0M110.1 195.2h0M197.3 125.9h0M93.1 198.1h0M132.6 180.3h0M159.9 162.9h0M86.4 202.9h0M94.3 203.7h0M110.4 194.9h0M85.8 205.3h0M89.1 200.3h0M123.8 188.3h0M136.0 186.0h0M163.6 154.5h0M98.6 193.7h0M102.8 204.1h0M96.3 201.7h0M134.4 185.0h0M109.4 190.3h0M135.4 185.0h0M120.7 189.2h0M105.6 193.7h0M170.2 152.5h0M177.5 142.0h0M146.3 171.6h0M123.8 187.9h0M92.6 203.2h0M207.8 50.6h0M199.9 60.0h0M200.6 58.1h0M190.4 70.0h0M194.4 64.4h0M192.8 65.7h0M195.3 63.5h0M192.0 67.5h0M198.7 60.1h0M197.8 61.8h0M111.3 248.8h0M174.1 201.0h0M70.1 280.5h0M215.5 168.8h0M204.7 176.6h0M139.4 227.5h0M90.0 266.1h0M73.1 278.9h0M216.6 167.5h0M189.5 189.1h0M110.8 249.1h0M72.9 279.5h0" stroke="#465ecf" stroke-width="0.9" stroke-opacity="0.8"/><path d="M109.6 169.5h0M96.7 184.9h0M90.5 188.1h0M115.2 169.1h0M84.6 194.0h0M84.6 194.9h0M74.0 210.7h0M107.3 174.3h0M112.5 179.3h0M177.9 132.1h0M177.1 135.6h0M170.2 135.8h0M120.1 179.0h0M167.4 142.3h0M149.8 149.3h0M203.7 101.2h0M165.1 142.6h0M109.7 182.5h0M203.3 90.6h0M148.1 157.5h0M198.2 100.9h0M108.7 176.1h0M125.0 171.5h0M117.2 175.3h0M191.1 113.9h0M142.0 166.6h0M146.6 152.6h0M109.3 181.4h0M151.9 153.0h0M103.6 181.6h0M196.0 101.2h0M128.7 171.9h0M147.6 161.9h0M106.2 178.1h0M112.5 168.8h0M148.1 159.9h0M167.9 141.6h0M193.9 111.0h0M110.2 170.1h0M112.0 176.0h0M140.4 167.9h0M179.9 127.5h0M130.9 168.3h0M205.9 102.3h0M204.2 91.9h0M112.8 172.4h0M132.9 168.5h0M145.8 163.7h0M107.3 173.0h0M121.2 172.7h0M187.0 125.7h0M132.5 167.9h0M135.4 170.7h0M203.2 90.3h0M124.6 173.9h0M116.2 169.3h0M123.7 174.8h0M163.2 146.4h0M107.2 173.9h0M118.0 176.3h0M125.2 176.9h0M183.3 126.6h0M197.7 99.5h0M194.0 117.9h0M139.7 165.6h0M111.5 175.4h0M186.1 118.1h0M160.8 148.4h0M152.8 154.0h0M117.1 170.3h0M136.7 169.2h0M131.9 171.8h0M139.9 165.4h0M130.2 170.0h0M124.6 169.9h0M204.9 89.4h0M140.4 166.8h0M102.0 177.3h0M113.5 168.4h0M106.2 173.8h0M155.4 156.1h0M122.3 168.8h0M189.7 118.2h0M140.0 166.5h0M175.2 133.5h0M123.3 173.2h0M134.5 168.8h0M157.6 153.1h0M157.5 149.7h0M152.4 151.6h0M123.0 165.0h0M140.8 162.8h0M98.7 183.7h0M199.9 107.1h0" stroke="#465ecf" stroke-width="1.4" stroke-opacity="0.8"/><path d="M87.0 173.4h0M198.3 94.2h0" stroke="#465ecf" stroke-width="1.9" stroke-opacity="0.8"/><path d="M106.4 168.5h0M119.0 164.0h0M107.8 169.4h0M200.0 99.2h0M205.4 86.9h0M173.5 135.9h0M156.8 147.8h0M115.5 168.8h0M138.8 164.8h0M176.7 127.1h0M192.2 111.0h0M117.7 169.0h0M196.2 102.6h0M126.3 164.7h0M200.8 109.7h0M198.7 107.1h0M163.7 144.5h0M195.0 113.1h0M141.2 163.6h0M114.1 172.6h0M182.4 127.8h0M134.4 166.0h0M115.1 165.7h0M125.1 168.5h0M116.2 166.0h0M204.1 104.5h0M116.6 171.7h0M170.5 137.3h0M202.1 102.6h0M139.7 165.0h0M182.7 123.8h0M194.8 107.1h0M163.7 139.2h0M172.2 131.1h0M103.8 176.5h0M115.6 169.7h0M128.6 167.0h0M175.9 128.8h0M128.5 169.7h0M119.7 172.7h0M116.6 168.9h0M144.0 159.2h0M199.6 109.9h0M113.9 169.8h0M172.9 131.4h0M127.0 171.7h0M111.1 172.4h0M160.6 143.3h0M195.4 107.6h0M193.0 62.6h0M189.4 95.4h0" stroke="#465ecf" stroke-width="1.5" stroke-opacity="0.8"/><path d="M102.3 202.4h0M100.9 201.3h0M104.4 200.6h0M105.7 199.1h0M146.7 176.6h0M92.2 209.9h0M102.3 201.6h0" stroke="#465ecf" stroke-width="0.8" stroke-opacity="0.8"/><path d="M189.7 148.6h0M174.5 151.6h0M175.8 160.8h0M122.9 194.9h0M176.5 147.7h0M125.9 205.4h0M160.1 168.3h0M160.5 172.6h0M143.5 191.7h0M158.6 168.6h0M133.4 197.2h0M115.3 203.0h0M167.6 173.2h0M147.5 190.1h0M112.3 220.9h0M198.9 131.5h0M222.1 106.9h0M179.5 148.8h0M227.1 112.3h0M182.1 153.8h0M212.3 126.1h0M147.3 184.5h0M211.2 129.5h0M174.1 149.0h0M169.7 169.6h0M138.6 189.6h0M176.3 158.2h0M206.2 138.1h0M210.5 116.6h0M163.9 167.4h0M126.7 200.0h0M131.8 193.2h0M186.3 153.7h0M121.7 211.6h0M127.1 189.1h0M118.0 204.6h0M183.8 147.8h0M233.4 107.0h0M190.7 145.5h0M204.8 127.9h0M131.6 204.5h0M203.6 130.6h0M234.1 96.4h0M163.7 177.8h0M187.6 137.0h0M193.7 131.9h0M154.4 169.5h0M118.9 201.2h0M186.3 144.5h0M203.6 136.8h0M193.3 139.8h0M156.9 174.4h0M135.0 201.4h0M215.7 115.4h0M109.8 223.4h0M158.2 171.7h0M123.8 196.5h0M213.0 119.5h0M204.2 132.7h0M187.6 156.1h0M119.3 195.6h0M190.4 136.8h0M218.8 118.3h0M200.5 136.9h0M193.5 145.1h0M195.9 128.4h0M165.2 171.8h0M196.5 130.8h0M163.7 172.7h0M196.3 145.5h0M199.8 141.1h0M157.5 174.5h0M182.1 146.5h0M105.9 208.9h0M116.7 200.3h0M172.4 157.5h0M157.2 177.3h0M177.1 151.5h0M130.7 197.7h0M179.7 150.5h0M161.9 168.6h0M176.8 165.5h0M133.2 192.1h0M151.5 184.9h0M162.0 174.1h0M210.7 117.1h0M155.3 165.2h0M188.7 135.0h0M180.3 153.2h0M154.1 164.5h0M134.9 185.0h0M145.2 184.1h0M194.6 141.2h0M218.5 121.2h0M171.7 162.4h0M142.3 187.5h0M135.3 190.6h0M144.0 195.1h0M141.3 195.4h0M118.2 217.2h0M139.7 198.3h0M154.5 182.5h0M158.2 169.0h0M188.2 139.1h0M107.3 211.9h0M169.3 151.5h0M220.7 123.4h0M118.7 200.9h0M200.5 132.4h0M159.6 163.1h0M161.2 165.8h0M117.5 201.8h0M225.6 103.4h0M141.8 181.7h0M178.5 144.9h0M182.1 141.6h0M131.4 189.0h0M161.2 163.0h0M134.1 187.4h0M217.5 119.3h0M217.7 112.6h0M131.4 203.9h0M153.8 167.3h0M167.1 158.9h0M107.6 210.4h0M124.9 193.0h0M153.9 174.9h0M173.1 162.4h0M156.2 164.8h0M181.9 155.8h0M138.1 186.6h0M161.4 160.1h0M199.7 135.1h0M147.3 180.1h0M143.2 175.9h0M154.5 179.7h0M117.2 216.5h0M137.1 188.5h0M147.0 179.9h0M196.2 144.6h0M143.4 194.1h0M190.9 137.2h0M131.7 190.9h0M140.0 176.9h0M195.0 133.0h0M142.8 194.0h0M134.9 181.3h0M106.8 206.8h0M184.1 153.4h0M162.2 176.9h0M156.6 167.3h0M125.8 209.1h0M108.4 212.9h0M126.3 197.4h0M151.3 185.7h0M218.4 112.9h0M192.4 131.1h0M127.5 193.2h0M149.4 188.5h0M161.9 177.6h0M161.2 168.5h0M105.7 227.8h0M159.1 170.9h0M183.4 148.8h0M234.9 108.3h0M145.9 175.6h0M232.7 96.1h0M184.9 140.5h0M126.7 192.8h0M140.0 182.6h0M175.7 163.3h0M170.1 170.6h0M121.4 201.6h0M114.2 199.6h0M155.8 175.9h0M137.6 200.1h0M174.6 155.0h0M169.7 166.5h0M119.5 211.5h0M167.9 174.4h0M152.6 180.4h0M133.5 204.3h0M232.9 95.7h0M157.1 182.4h0M124.4 206.2h0M123.9 205.6h0M155.7 163.7h0M198.5 132.3h0M159.1 181.3h0M151.2 171.2h0M130.8 188.1h0M149.2 184.9h0M156.6 181.7h0M191.9 149.0h0M159.7 179.1h0M206.1 120.9h0M176.9 145.3h0M180.4 149.5h0M177.3 150.1h0M178.1 159.6h0M161.1 179.7h0M212.3 132.6h0M114.5 206.6h0M237.0 93.3h0M112.7 221.3h0M116.1 216.4h0M199.4 128.3h0M171.3 159.5h0M181.5 151.7h0M225.6 108.6h0M155.2 183.0h0M107.5 210.3h0M158.2 178.2h0M158.6 160.8h0M143.6 174.8h0M176.5 156.3h0M165.2 173.2h0M134.3 184.3h0M180.2 146.0h0M189.2 134.5h0M211.3 121.8h0M122.1 209.1h0M186.6 139.0h0M152.9 175.2h0M147.2 192.2h0M234.7 106.3h0M209.2 96.4h0M226.7 105.8h0M201.4 85.2h0M220.3 55.1h0M225.5 107.6h0M201.2 81.9h0M211.9 83.5h0M236.6 68.6h0M207.7 86.6h0M236.0 43.5h0M212.8 105.6h0M218.2 100.7h0M215.9 85.3h0M216.0 69.2h0M224.1 97.4h0M209.8 120.6h0M216.6 78.3h0M209.2 65.1h0M204.4 86.6h0M206.4 98.9h0M232.6 63.8h0M220.3 102.6h0M210.2 103.4h0M208.6 99.7h0M232.6 53.5h0M229.1 100.3h0M215.1 79.5h0M222.2 57.4h0M210.6 115.5h0M201.7 96.9h0M220.5 50.9h0M220.4 81.8h0M236.6 55.0h0M204.4 91.1h0M206.9 99.2h0M217.1 70.5h0M204.5 70.2h0M202.9 73.0h0M242.3 53.2h0M242.3 81.4h0M230.9 67.6h0M215.3 92.5h0M225.0 98.1h0M213.9 65.9h0M219.4 78.1h0M227.0 78.3h0M221.9 96.3h0M205.9 97.1h0M203.4 91.9h0M238.5 40.0h0M223.7 105.3h0M248.1 30.9h0M210.0 64.0h0M222.0 87.6h0M219.4 78.1h0M226.4 57.5h0M242.1 84.9h0M226.5 97.5h0M223.7 71.0h0M201.4 89.5h0M242.0 87.7h0M219.0 82.6h0M220.4 76.1h0M210.6 71.2h0M239.3 52.3h0M233.3 73.2h0M224.8 63.8h0M214.1 67.8h0M216.0 76.8h0M202.8 116.2h0M222.3 95.6h0" stroke="#465ecf" stroke-width="0.7" stroke-opacity="0.2"/><path d="M207.5 135.6h0M150.9 168.3h0M147.3 192.2h0M204.6 139.3h0M112.9 216.1h0M231.7 116.1h0M116.1 216.0h0M149.4 187.5h0M230.1 104.3h0M205.3 130.1h0M124.6 194.8h0M172.8 167.3h0M166.9 166.9h0M190.2 141.0h0M194.0 150.6h0M189.4 143.3h0M129.9 205.0h0M140.9 196.7h0M134.1 194.7h0M181.4 155.0h0M159.4 177.9h0M204.9 133.8h0M178.9 158.5h0M182.2 158.1h0M153.6 185.7h0M121.9 197.5h0M168.6 163.5h0M117.7 212.9h0M143.5 177.4h0M163.0 163.4h0M118.2 204.4h0M100.7 233.2h0M193.9 132.0h0M158.4 172.5h0M183.9 148.5h0M181.0 151.0h0M178.8 153.5h0M180.1 152.0h0M144.8 183.8h0M167.1 156.8h0M153.8 168.3h0M152.0 168.7h0M130.8 185.2h0M152.0 178.4h0M206.7 121.4h0M206.6 120.9h0M178.5 164.8h0M192.4 152.1h0M194.8 147.9h0M179.0 146.2h0M195.4 140.8h0M228.1 108.3h0M238.3 112.1h0M182.4 147.2h0M205.1 139.6h0M176.6 156.8h0M127.8 202.5h0M145.9 181.2h0M131.2 198.2h0M128.6 191.2h0M106.1 226.2h0M152.1 185.9h0M138.5 197.5h0M129.3 194.9h0M184.3 146.5h0M183.9 145.7h0M201.4 126.4h0M120.1 211.8h0M189.5 143.9h0M165.0 166.6h0M199.5 145.4h0M165.8 169.1h0M139.6 178.5h0M184.3 146.3h0M182.3 144.6h0M169.2 164.0h0M121.4 205.2h0M152.9 181.0h0M105.2 218.6h0M167.8 161.4h0M168.4 169.1h0M239.5 108.1h0M179.4 163.4h0M168.8 161.8h0M138.3 193.2h0M143.7 183.3h0M198.0 146.6h0M161.3 175.2h0M168.6 152.5h0M162.4 164.4h0M132.6 191.3h0M192.9 151.1h0M146.1 182.1h0M157.4 176.2h0M153.8 175.7h0M147.5 181.8h0M197.6 127.4h0M150.9 167.6h0M134.0 196.6h0M173.2 167.1h0M173.2 168.9h0M143.1 178.5h0M160.1 166.4h0M161.4 170.1h0M131.0 203.3h0M194.7 141.0h0M200.3 129.9h0M158.6 175.9h0M153.9 167.0h0M165.2 161.8h0M162.7 168.7h0M207.0 121.7h0M163.7 173.0h0M113.6 203.8h0M161.8 173.4h0M179.1 159.7h0M203.1 126.1h0M107.3 226.6h0M174.3 150.1h0M118.5 203.1h0M184.1 158.5h0M151.8 167.8h0M151.6 168.6h0M158.7 171.0h0M156.7 179.6h0M230.3 113.0h0M222.3 120.2h0M128.2 193.9h0M189.0 145.4h0M153.3 179.9h0M195.2 129.8h0M105.1 211.3h0M170.4 158.0h0M162.9 159.5h0M216.9 127.7h0M136.5 181.2h0M158.2 182.0h0M162.5 161.8h0M217.7 121.1h0M177.6 160.5h0M153.0 183.6h0M151.7 175.5h0M164.5 161.0h0M185.7 139.1h0M97.1 231.7h0M176.3 158.5h0M226.1 114.6h0M167.3 169.2h0M182.5 140.0h0M188.4 139.3h0M196.3 131.0h0M238.1 112.3h0M118.9 204.1h0M159.0 170.2h0M125.8 190.8h0M159.7 170.9h0M181.9 141.3h0M154.9 183.9h0M115.1 212.5h0M113.8 202.6h0M175.1 151.1h0M217.4 125.6h0M184.0 153.1h0M115.2 201.5h0M157.9 161.7h0M164.5 164.8h0M211.5 124.3h0M126.1 193.9h0M140.2 184.8h0M149.0 185.5h0M137.2 200.9h0M95.8 216.0h0M161.5 163.6h0M141.6 191.8h0M198.6 147.5h0M168.3 163.3h0M188.1 138.1h0M132.1 195.1h0M145.3 194.1h0M191.6 145.4h0M203.9 127.9h0M221.3 117.7h0M155.1 175.1h0M198.3 137.5h0M133.9 192.2h0M110.2 209.2h0M107.1 227.3h0M106.0 225.6h0M176.5 166.4h0M202.4 123.8h0M174.9 159.4h0M182.8 148.8h0M190.5 137.0h0M129.0 192.2h0M161.7 166.2h0M169.3 166.6h0M137.9 192.5h0M114.5 203.4h0M176.8 156.6h0M210.3 121.6h0M151.7 174.9h0M138.2 180.8h0M182.4 147.8h0M159.3 172.1h0M209.1 119.8h0M202.5 122.8h0M177.1 145.0h0M242.6 96.1h0M150.5 182.1h0M119.2 202.2h0M137.4 181.4h0M186.9 138.0h0M222.1 122.2h0M225.1 108.9h0M141.0 177.8h0M197.0 129.1h0M206.9 134.6h0M139.8 191.8h0M185.2 143.4h0M226.8 108.3h0M176.4 154.5h0M138.6 194.4h0M108.7 220.1h0M174.4 160.3h0M203.8 125.6h0M138.3 194.2h0M160.6 170.7h0M122.4 212.8h0M195.9 140.2h0M146.9 178.3h0M190.5 150.3h0M215.7 132.5h0M180.0 154.7h0M209.8 134.7h0M174.6 167.3h0M117.3 210.2h0M190.8 133.5h0M127.5 199.6h0M140.3 190.8h0M119.4 198.9h0M203.9 134.0h0M148.9 169.9h0M184.7 147.7h0M171.1 153.3h0M120.0 215.0h0M233.1 87.3h0M219.4 70.7h0M218.1 106.9h0M220.4 92.6h0M216.2 100.4h0M205.2 76.1h0M211.9 106.9h0M206.3 73.1h0M217.3 75.6h0M207.2 117.1h0M211.5 114.2h0M207.1 92.2h0M226.8 98.4h0M204.2 84.3h0M207.3 74.9h0M230.7 81.9h0M208.8 83.8h0M214.0 55.8h0M209.8 69.2h0M212.5 86.0h0M226.9 94.8h0M209.3 91.1h0M226.7 76.8h0M204.2 90.7h0M218.1 100.4h0M245.0 35.7h0M214.6 68.1h0M237.3 58.8h0M222.4 54.0h0M203.8 64.9h0M224.5 99.8h0M205.6 71.4h0M217.1 95.8h0M215.8 79.2h0M205.8 114.9h0M220.3 96.3h0M217.1 108.7h0M222.8 71.2h0M219.7 110.7h0M209.9 62.8h0M212.1 64.9h0M202.1 88.6h0M226.6 90.4h0M204.6 118.7h0M204.2 123.0h0M224.0 80.5h0M207.8 111.7h0M232.4 48.1h0M223.1 77.2h0M204.7 122.5h0M212.5 107.3h0M206.8 109.1h0M228.3 89.5h0M205.1 76.7h0M215.0 54.1h0M232.0 78.9h0M212.6 81.3h0M203.3 112.3h0M207.5 109.9h0M211.6 84.5h0" stroke="#465ecf" stroke-width="0.6" stroke-opacity="0.2"/><path d="M195.8 148.0h0M142.0 189.8h0M162.7 168.8h0M173.6 154.7h0M133.1 200.3h0M228.9 112.0h0M194.2 149.4h0M199.7 137.3h0M156.4 178.1h0M177.0 164.6h0M155.9 169.7h0M159.9 169.5h0M159.1 161.4h0M146.0 190.4h0M130.3 195.2h0M133.9 196.2h0M243.1 97.3h0M133.6 187.5h0M140.2 197.4h0M163.8 173.3h0M94.3 237.8h0M130.5 201.4h0M141.5 184.8h0M168.2 170.9h0M104.1 229.0h0M167.7 166.8h0M191.9 132.5h0M118.0 217.0h0M112.4 222.8h0M130.0 206.3h0M106.1 224.1h0M174.9 153.9h0M180.9 154.0h0M147.5 181.6h0M161.2 179.9h0M161.9 171.2h0M180.7 155.9h0M125.3 208.5h0M166.5 158.1h0M213.0 130.1h0M186.4 145.2h0M214.0 134.0h0M184.6 145.2h0M190.8 141.4h0M135.6 191.7h0M124.6 199.1h0M174.9 165.2h0M136.1 186.0h0M177.6 154.2h0M211.0 122.7h0M172.6 159.1h0M171.4 159.8h0M132.4 202.1h0M174.8 153.9h0M152.5 187.6h0M153.0 175.8h0M106.1 217.8h0M217.5 123.4h0M99.5 232.2h0M126.9 207.6h0M163.1 174.5h0M224.6 122.5h0M155.1 172.9h0M219.9 110.5h0M229.4 113.9h0M137.8 183.5h0M178.0 147.1h0M214.1 129.9h0M169.6 167.8h0M151.3 173.0h0M139.3 185.1h0M164.1 174.3h0M99.4 216.3h0M168.2 158.4h0M191.4 150.2h0M222.2 124.4h0M95.5 220.4h0M119.2 203.3h0M178.7 148.9h0M153.3 167.5h0M198.6 130.6h0M233.2 98.5h0M113.5 222.1h0M217.3 125.3h0M170.3 157.8h0M186.8 141.6h0M112.6 202.4h0M184.9 159.3h0M99.1 231.3h0M153.8 185.2h0M159.7 164.3h0M127.0 191.0h0M168.9 159.1h0M232.4 111.5h0M212.6 129.2h0M154.3 179.0h0M184.3 153.8h0M100.4 223.1h0M174.0 168.0h0M120.8 212.3h0M132.9 186.8h0M193.4 149.3h0M178.0 165.4h0M154.8 165.3h0M110.9 222.4h0M187.0 148.4h0M160.3 164.8h0M172.7 167.5h0M168.3 168.1h0M204.0 140.0h0M184.4 143.3h0M205.9 122.3h0M217.1 131.1h0M169.8 167.4h0M168.5 160.0h0M136.1 190.5h0M154.6 174.1h0M111.6 218.3h0M129.0 208.5h0M191.2 133.8h0M150.6 181.9h0M176.5 153.5h0M162.4 160.7h0M185.8 146.0h0M154.4 175.0h0M133.4 188.7h0M124.6 205.0h0M219.0 63.8h0M208.7 113.4h0M222.6 52.0h0M205.3 117.3h0M218.3 80.6h0M234.1 52.2h0M206.0 102.1h0M202.0 126.1h0M207.3 123.3h0M202.6 95.7h0M216.5 76.6h0M221.4 102.0h0M204.0 64.1h0M216.2 89.8h0M217.1 98.3h0M203.2 95.9h0M221.4 66.5h0M237.7 95.5h0M221.2 94.0h0M209.5 67.9h0M221.4 76.8h0M207.4 61.3h0M233.5 69.0h0M219.2 51.8h0M208.9 79.3h0M214.3 64.8h0M236.1 49.0h0" stroke="#465ecf" stroke-width="0.8" stroke-opacity="0.2"/><path d="M112.0 214.5h0M192.7 131.3h0M175.1 150.8h0M149.2 190.3h0M162.2 162.8h0M140.1 180.1h0M148.6 172.3h0M165.7 171.1h0M135.5 194.0h0M201.3 138.9h0M222.6 120.1h0M221.3 109.7h0M203.2 122.9h0M194.8 145.7h0M164.8 158.4h0M178.4 148.1h0M164.7 155.9h0M144.7 188.4h0M156.2 175.6h0M227.2 105.8h0M110.4 221.6h0M175.8 155.9h0M179.4 155.2h0M218.5 129.6h0M129.6 199.7h0M138.1 198.7h0M98.5 223.7h0M187.3 135.4h0M200.9 137.1h0M101.3 225.3h0M161.8 176.9h0M177.4 152.0h0M187.1 140.9h0M125.5 208.0h0M148.9 181.0h0M160.2 166.6h0M174.4 147.6h0M184.6 137.8h0M185.1 138.0h0M157.4 172.8h0M161.3 166.8h0M167.0 169.8h0M187.6 151.9h0M222.6 119.7h0M184.3 158.5h0M169.1 169.6h0M145.2 181.0h0M206.0 137.4h0M194.7 136.0h0M155.1 177.3h0M147.5 188.3h0M228.8 114.3h0M140.2 188.4h0M190.0 142.8h0M125.3 211.4h0M107.3 208.5h0M140.3 188.0h0M155.3 178.5h0M157.0 183.9h0M182.8 158.7h0M101.4 219.1h0M167.6 166.1h0M139.9 194.1h0M115.3 207.8h0M178.0 160.3h0M205.0 120.8h0M99.9 232.5h0M142.2 191.7h0M189.9 150.2h0M163.8 157.3h0M124.6 193.1h0M152.8 169.3h0M159.6 164.9h0M157.9 170.0h0M147.2 172.1h0M199.0 126.2h0M110.3 214.4h0M146.8 185.2h0M133.1 186.0h0M200.0 145.0h0M126.6 197.7h0M231.0 97.1h0M174.7 159.1h0M133.6 189.0h0M173.6 154.8h0M197.1 136.4h0M156.3 182.3h0M111.9 210.1h0M224.6 120.4h0M100.9 230.3h0M169.7 164.4h0M176.6 154.9h0M145.4 180.0h0M123.5 193.9h0M125.4 206.2h0M162.3 175.0h0M192.7 152.5h0M112.6 209.4h0M144.5 174.4h0M149.0 181.6h0M144.9 178.9h0M164.6 160.9h0M140.8 184.4h0M126.7 208.6h0M216.4 114.9h0M95.9 231.0h0M123.2 198.8h0M111.3 203.8h0M161.7 164.1h0M205.0 133.7h0M165.1 171.6h0M195.1 132.4h0M190.2 151.5h0M146.7 177.8h0M113.1 212.2h0M151.4 187.7h0M162.2 159.2h0M143.9 184.3h0M174.6 164.4h0M188.4 146.6h0M170.3 155.3h0M205.1 135.9h0M143.7 177.2h0M214.9 114.8h0M139.8 186.2h0M133.0 185.0h0M208.5 110.7h0M214.4 104.5h0M205.0 87.6h0M204.4 76.9h0M207.0 121.5h0M224.7 81.0h0M205.6 71.4h0M214.3 70.6h0M219.8 104.0h0M212.7 97.5h0M204.8 116.6h0M237.0 71.4h0M236.6 93.9h0M220.0 108.1h0M234.9 71.2h0M229.7 42.7h0M228.3 81.3h0M222.7 98.0h0M224.6 102.8h0M217.6 66.1h0M225.6 46.1h0M216.9 113.8h0M221.9 62.8h0M216.8 59.6h0" stroke="#465ecf" stroke-width="0.5" stroke-opacity="0.2"/><path d="M272.6 78.4h0M190.3 112.5h0M264.2 123.8h0M266.1 35.3h0M202.8 150.5h0M298.4 49.7h0M249.4 124.0h0M252.4 131.7h0M191.1 151.2h0M193.4 137.9h0M283.0 20.3h0M242.6 67.4h0M264.4 40.1h0M230.5 73.5h0M194.6 90.4h0M192.9 79.7h0M194.2 81.5h0M197.8 68.9h0M218.7 74.5h0M200.8 78.9h0M214.5 72.1h0M190.0 62.5h0M197.2 94.0h0M218.7 76.5h0M223.6 63.5h0M192.6 89.9h0M193.2 88.7h0M205.6 70.6h0M190.5 94.8h0M202.8 83.3h0M216.3 60.2h0M200.9 63.9h0M204.3 71.3h0M191.7 94.7h0M208.7 75.0h0M201.0 82.2h0M215.9 73.6h0M205.7 75.5h0M214.6 80.2h0M203.4 71.7h0M203.2 90.4h0M212.2 68.5h0M192.5 98.8h0" stroke="#465ecf" stroke-width="1.0" stroke-opacity="0.7"/><path d="M262.8 127.0h0M299.7 57.8h0M207.3 118.9h0M280.5 18.9h0M197.2 120.0h0M209.1 121.4h0M233.2 110.8h0M240.5 88.3h0M231.9 82.6h0" stroke="#465ecf" stroke-width="1.2" stroke-opacity="0.7"/><path d="M277.8 120.2h0M212.5 74.6h0M249.2 52.4h0M207.1 85.0h0M257.3 46.7h0M293.3 56.3h0M186.4 117.2h0M185.8 137.8h0M281.9 37.2h0M303.0 97.2h0M298.2 62.4h0M290.3 67.5h0M233.8 71.0h0M273.0 28.9h0M199.2 128.1h0M214.0 112.5h0M241.9 96.1h0M217.9 102.7h0M275.9 30.9h0M254.7 56.0h0M267.4 41.4h0M234.4 62.2h0M282.6 18.9h0M209.9 80.2h0M208.1 67.0h0M195.0 102.2h0M196.4 92.3h0M190.7 96.1h0M208.2 77.9h0M205.7 71.7h0M198.2 76.0h0M207.2 67.2h0M207.2 61.6h0M208.5 68.3h0M194.4 95.6h0M193.0 82.9h0M199.0 83.0h0M203.2 76.3h0" stroke="#465ecf" stroke-width="1.1" stroke-opacity="0.7"/><path d="M189.4 116.9h0M292.1 25.6h0M292.1 94.0h0M209.6 100.4h0M297.4 84.3h0M225.8 78.3h0M240.0 72.0h0M269.1 39.9h0M195.7 61.1h0M199.8 71.8h0M202.7 74.7h0M202.1 92.6h0M212.9 60.8h0M190.7 76.5h0M194.8 98.5h0M209.0 81.4h0M210.3 63.7h0M199.8 94.5h0M204.4 88.6h0M194.0 83.2h0M214.8 80.8h0M208.7 72.0h0M197.6 72.4h0M188.7 72.2h0M190.8 85.2h0M196.1 97.3h0M200.4 80.5h0M211.3 74.7h0M209.3 63.8h0M195.6 98.2h0M196.8 73.1h0M190.4 88.1h0M197.6 92.9h0M209.5 68.2h0M203.2 86.7h0M201.1 64.7h0" stroke="#465ecf" stroke-width="0.9" stroke-opacity="0.7"/><path d="M202.6 63.3h0M219.5 76.0h0M194.2 75.8h0M189.2 86.0h0M216.2 76.1h0M198.4 79.1h0M211.5 78.4h0M216.4 79.4h0M221.9 62.2h0M210.8 76.9h0M201.7 82.0h0M201.1 94.5h0M206.0 61.3h0M203.3 93.2h0M210.7 78.1h0M199.7 82.8h0M204.8 70.5h0M192.4 100.6h0M193.2 81.1h0M205.6 70.3h0M197.5 89.7h0M203.8 77.2h0M200.0 67.3h0M194.7 72.6h0M204.2 84.2h0M200.7 71.7h0M190.7 91.4h0" stroke="#465ecf" stroke-width="0.8" stroke-opacity="0.7"/><path d="M189.7 77.8h0M194.3 97.1h0M192.0 101.4h0M207.1 76.8h0M205.5 67.2h0M223.5 63.6h0M206.6 85.5h0M205.9 69.9h0" stroke="#465ecf" stroke-width="0.7" stroke-opacity="0.7"/><path d="M82.5 262.4h0M110.5 245.2h0M254.9 114.7h0M197.7 153.3h0M196.1 148.1h0M88.2 221.7h0M67.8 227.1h0M91.5 192.2h0M224.8 161.8h0M103.5 238.1h0M246.4 130.5h0M178.0 129.4h0M64.6 244.6h0M102.8 218.8h0M61.2 264.8h0M82.7 249.1h0M148.4 200.9h0M115.4 237.4h0M82.7 193.1h0M96.8 240.9h0M104.9 170.7h0M141.1 161.7h0" stroke="#5470de" stroke-width="1.2" stroke-opacity="0.9"/><path d="M226.3 132.5h0M224.7 161.4h0M92.1 215.6h0M145.9 194.6h0M116.0 223.7h0M202.1 152.5h0M55.5 249.7h0M86.6 209.9h0M65.6 281.5h0M99.2 250.3h0" stroke="#5470de" stroke-width="1.1" stroke-opacity="0.9"/><path d="M123.9 237.9h0M141.8 205.8h0M233.5 132.2h0M168.7 182.6h0M74.5 269.5h0M29.1 275.6h0M157.4 150.0h0M116.0 207.7h0M180.4 166.6h0M99.6 203.9h0M84.5 204.7h0M125.6 235.7h0M98.6 231.1h0M103.5 223.9h0M132.9 193.0h0M136.7 218.6h0M234.0 150.5h0M76.1 245.9h0" stroke="#5470de" stroke-width="1.0" stroke-opacity="0.9"/><path d="M98.6 168.8h0M84.1 183.8h0M72.1 240.1h0M156.3 175.7h0M195.9 168.6h0M161.2 140.4h0M126.5 233.9h0M75.6 239.8h0M82.6 255.5h0M62.5 238.9h0M247.7 90.3h0M188.9 122.4h0M93.9 231.7h0M214.0 104.6h0M64.8 223.8h0M70.2 226.3h0" stroke="#5470de" stroke-width="1.3" stroke-opacity="0.9"/><path d="M171.6 136.1h0M187.6 116.4h0M186.8 120.1h0M115.6 181.9h0M177.6 130.2h0M127.2 168.8h0M183.5 126.2h0M182.3 121.9h0M152.0 151.7h0M131.3 163.0h0M141.7 159.0h0M156.2 147.7h0M165.6 143.5h0M178.2 144.7h0M166.8 144.6h0M108.4 194.8h0M183.1 125.7h0M132.2 168.9h0M197.0 115.6h0M155.4 156.7h0M174.7 134.9h0M151.9 162.3h0M135.6 168.9h0M183.2 134.3h0M133.5 178.8h0M163.1 156.2h0M187.8 123.0h0M166.4 142.1h0M123.3 175.7h0M165.5 140.9h0M94.5 188.7h0M153.7 159.2h0M171.6 148.2h0M174.3 135.7h0M167.9 140.7h0M161.4 147.3h0M150.9 154.8h0M104.8 180.5h0M156.9 151.9h0M145.9 160.0h0M178.6 131.2h0M187.1 99.4h0M192.2 72.6h0M188.1 84.2h0M79.5 274.1h0M141.6 225.2h0M162.7 209.7h0M78.4 274.4h0M193.6 184.0h0M199.5 180.0h0" stroke="#5470de" stroke-width="1.1" stroke-opacity="0.8"/><path d="M98.2 163.9h0M187.6 92.3h0M192.3 100.1h0M200.6 94.6h0M191.1 98.9h0M185.6 109.5h0" stroke="#5470de" stroke-width="1.8" stroke-opacity="0.8"/><path d="M124.8 164.9h0M188.1 106.7h0M121.9 161.3h0M166.9 144.4h0M175.7 138.5h0M190.0 110.8h0M135.5 160.9h0M186.7 119.4h0M130.2 170.8h0M151.4 159.0h0M145.4 165.5h0M173.7 128.5h0M118.0 165.1h0M190.5 105.9h0M192.7 101.5h0M155.2 145.9h0M186.5 120.6h0M157.0 144.3h0M125.6 169.6h0M186.4 122.6h0M176.7 124.7h0M191.9 117.0h0M186.7 110.4h0M137.2 166.3h0M187.1 109.9h0M137.2 165.1h0M136.3 159.5h0M145.1 154.5h0M176.0 127.4h0M139.2 160.9h0M148.4 149.9h0M144.4 153.5h0M193.6 105.9h0M127.8 167.0h0M120.3 166.3h0M153.9 147.6h0M122.1 164.8h0M198.1 114.9h0M156.3 142.9h0M190.1 105.1h0M122.2 163.4h0M128.6 162.8h0M170.9 138.3h0M144.9 159.8h0M136.2 170.1h0M165.4 135.1h0M193.7 113.1h0M182.3 120.3h0M192.2 103.2h0M197.4 106.7h0M130.2 167.4h0M171.3 132.6h0M174.2 132.5h0M117.7 166.6h0M151.1 151.5h0M174.7 129.3h0M173.2 134.7h0M143.2 156.4h0M179.0 124.9h0M182.9 122.7h0M115.8 173.5h0M157.8 145.6h0M147.6 153.6h0M131.1 172.1h0M159.9 138.8h0M153.4 153.6h0M186.1 121.7h0M139.6 165.5h0M116.6 172.9h0M101.8 181.6h0M192.6 102.0h0M154.6 151.0h0M147.6 162.0h0M175.3 130.4h0M190.4 64.5h0" stroke="#5470de" stroke-width="1.4" stroke-opacity="0.8"/><path d="M90.4 189.8h0M115.5 167.3h0M95.4 178.8h0M96.3 179.4h0M111.5 169.1h0M139.2 159.6h0M145.1 158.1h0M182.9 120.2h0M126.6 166.5h0M168.8 135.4h0M189.9 107.2h0M134.6 163.7h0M162.9 140.0h0M182.6 126.8h0M114.9 169.0h0M188.7 110.5h0M154.0 149.0h0M156.0 148.4h0M153.2 149.6h0M179.9 123.8h0M125.3 163.0h0M162.6 135.0h0M164.0 140.4h0M188.3 102.5h0M190.4 107.5h0M193.0 114.5h0M189.6 118.4h0M186.3 108.0h0M192.5 119.2h0M194.2 114.3h0M188.7 109.0h0M140.6 161.1h0M160.3 141.6h0M140.2 164.0h0M186.3 107.0h0M156.1 146.7h0M170.1 133.6h0M133.9 166.9h0M117.0 168.2h0M190.6 101.0h0M170.9 132.9h0M147.7 153.9h0M113.7 170.7h0M156.6 143.0h0M159.9 142.3h0M127.7 165.9h0M171.7 131.9h0M133.8 162.1h0M111.4 169.5h0M149.6 154.6h0M153.0 147.1h0M199.8 111.2h0M178.5 122.5h0M169.4 134.5h0M129.1 171.1h0M165.5 134.6h0M182.2 126.8h0M122.8 164.7h0M143.7 154.3h0M188.8 120.6h0M154.9 144.4h0M124.6 164.7h0M172.9 134.0h0M161.2 144.4h0M188.6 118.1h0M125.6 164.5h0M122.8 167.3h0M167.6 135.0h0M194.5 105.3h0M151.9 151.8h0M153.7 151.5h0M120.0 166.1h0M146.2 153.0h0M193.9 106.1h0M145.7 153.2h0M124.4 167.2h0M164.7 134.4h0M120.6 162.5h0M187.4 104.2h0M189.5 98.9h0M192.8 95.4h0" stroke="#5470de" stroke-width="1.5" stroke-opacity="0.8"/><path d="M108.7 183.2h0M152.2 147.9h0M104.4 195.0h0M132.8 160.8h0M131.6 164.0h0M168.1 136.2h0M129.6 165.4h0M137.8 165.2h0M181.9 120.7h0M142.4 162.1h0M135.3 165.6h0M142.2 158.4h0M171.9 133.3h0M147.7 152.8h0M87.7 193.3h0M187.6 121.0h0M167.8 138.6h0M190.4 115.1h0M160.0 143.6h0M196.3 117.6h0M125.7 172.2h0M189.7 119.0h0M173.5 133.9h0M183.4 119.0h0M142.9 159.5h0M171.9 134.2h0M117.0 174.6h0M157.1 148.0h0M167.5 152.9h0M154.3 149.2h0M181.8 122.8h0M153.2 152.1h0M170.2 140.5h0M179.0 129.8h0M195.1 108.6h0M136.2 168.0h0M140.0 159.4h0M146.0 154.4h0M148.9 155.6h0M167.8 143.3h0M171.5 134.0h0M161.2 145.9h0M132.9 163.5h0M151.5 151.9h0M144.8 160.2h0M176.4 129.9h0M137.0 171.2h0M183.0 133.5h0M127.2 179.7h0M175.2 135.7h0M114.1 188.7h0M114.2 170.4h0M177.4 126.7h0M122.3 165.4h0M139.4 161.2h0M193.4 114.0h0M169.6 142.0h0M149.9 159.1h0M147.3 155.7h0M188.9 86.5h0M186.4 88.8h0M191.4 95.9h0M192.6 82.0h0M148.1 220.8h0" stroke="#5470de" stroke-width="1.2" stroke-opacity="0.8"/><path d="M165.8 146.1h0M87.7 194.8h0M181.1 142.2h0M107.7 194.7h0M168.0 154.6h0M121.0 189.5h0M85.1 213.2h0M172.1 152.2h0M97.0 192.0h0M199.3 59.1h0M190.3 71.0h0" stroke="#5470de" stroke-width="0.9" stroke-opacity="0.8"/><path d="M94.7 184.8h0M103.9 163.6h0M108.5 168.9h0M108.3 162.2h0M191.9 111.9h0M163.4 140.6h0M189.4 104.6h0M115.0 166.7h0M194.1 101.2h0M173.3 131.4h0M190.8 103.5h0M185.5 119.6h0M120.4 165.5h0M196.4 105.0h0M177.6 124.4h0M191.5 99.8h0M168.2 135.8h0M194.0 99.1h0M174.5 131.2h0M127.7 163.2h0M133.5 161.0h0M189.1 108.7h0M175.5 126.4h0M159.9 140.8h0M187.2 103.3h0M153.9 144.7h0M131.8 164.2h0M190.5 104.2h0M170.0 133.9h0M190.2 114.6h0M140.8 161.2h0M196.1 105.9h0M184.2 120.8h0M189.9 112.4h0M129.5 163.8h0M164.2 140.1h0M132.1 164.4h0M170.0 132.1h0M125.0 165.4h0M194.2 89.3h0M189.5 91.2h0" stroke="#5470de" stroke-width="1.6" stroke-opacity="0.8"/><path d="M112.8 165.1h0M100.3 173.3h0M107.2 167.1h0M109.6 168.0h0M93.2 168.2h0M92.3 174.4h0M139.7 157.4h0M187.5 103.2h0M190.9 103.8h0M185.4 114.8h0M145.1 151.9h0M194.1 100.7h0M187.8 106.7h0" stroke="#5470de" stroke-width="1.7" stroke-opacity="0.8"/><path d="M187.9 75.5h0" stroke="#5470de" stroke-width="2.1" stroke-opacity="0.8"/><path d="M100.0 164.3h0M101.7 165.7h0" stroke="#5470de" stroke-width="1.9" stroke-opacity="0.8"/><path d="M122.5 164.1h0M152.3 149.3h0M149.5 147.1h0M144.7 151.1h0M112.1 183.3h0M124.5 163.9h0M146.6 153.1h0M111.9 179.6h0M174.3 132.7h0M151.1 153.8h0M170.7 139.1h0M147.3 160.3h0M180.0 134.7h0M166.5 137.3h0M112.5 182.5h0M181.5 131.9h0M150.1 156.6h0M130.2 172.1h0M164.9 136.5h0M142.6 159.7h0M127.8 164.8h0M188.4 117.4h0M186.3 122.5h0M146.8 162.4h0M176.4 131.2h0M137.1 175.0h0M190.6 118.2h0M164.6 134.3h0M157.1 145.1h0M149.9 152.4h0M124.5 164.0h0M152.7 157.8h0M143.9 153.7h0M157.5 146.8h0M150.6 147.1h0M164.9 135.2h0M128.7 161.6h0M127.5 169.8h0M164.8 138.9h0M182.8 121.4h0M152.6 158.0h0M167.4 145.9h0M182.1 126.9h0M169.3 145.5h0M181.0 123.8h0M148.5 149.1h0M184.4 115.6h0M147.2 164.7h0M160.5 151.9h0M116.6 174.5h0M126.6 165.6h0M178.8 126.5h0M161.6 142.1h0M177.8 131.6h0M154.8 154.7h0M164.6 137.4h0M160.6 144.5h0M178.5 127.4h0M164.6 141.7h0M174.7 137.5h0M182.0 121.8h0M176.3 128.7h0M170.1 131.8h0M183.1 123.6h0M168.2 137.0h0M133.5 160.4h0M149.1 152.5h0M165.8 146.7h0M160.4 145.5h0M164.9 140.5h0M161.0 138.2h0M181.4 122.0h0M183.9 121.3h0M179.7 129.3h0M111.5 169.5h0M156.4 149.9h0M144.6 153.4h0M180.7 131.9h0M175.8 129.8h0M149.8 154.3h0M156.1 146.0h0M184.2 127.9h0M109.1 178.0h0M164.5 138.9h0M169.0 137.7h0M208.2 97.5h0M194.9 119.8h0M193.4 106.9h0M130.4 178.8h0M157.5 151.4h0M142.2 158.5h0M165.4 138.1h0M191.6 116.5h0M176.5 136.1h0M128.8 166.5h0" stroke="#5470de" stroke-width="1.3" stroke-opacity="0.8"/><path d="M162.8 143.9h0M160.6 152.5h0M81.7 221.6h0M161.9 144.2h0M149.2 156.4h0M158.6 158.8h0M89.7 191.0h0M183.7 140.6h0M147.4 173.2h0M99.2 200.3h0M151.2 168.4h0M114.1 185.6h0M185.9 129.1h0M146.0 168.3h0M164.1 155.8h0M156.6 157.7h0M123.3 179.9h0M174.8 141.5h0M96.4 195.1h0M190.2 68.6h0M190.6 70.1h0M191.2 68.0h0M66.6 283.7h0M95.5 260.9h0M70.7 280.6h0M192.2 186.4h0" stroke="#5470de" stroke-width="1.0" stroke-opacity="0.8"/><path d="M82.7 211.3h0M109.4 199.7h0M94.7 203.5h0M190.5 69.6h0M190.5 69.1h0M196.7 63.3h0M189.8 70.3h0M193.9 66.8h0" stroke="#5470de" stroke-width="0.8" stroke-opacity="0.8"/><path d="M188.7 136.6h0M134.5 188.6h0M164.1 170.6h0M129.0 199.5h0M202.5 122.6h0M136.2 200.6h0M225.0 86.5h0M219.3 100.5h0" stroke="#5470de" stroke-width="0.5" stroke-opacity="0.2"/><path d="M194.6 151.0h0M121.9 193.9h0M167.5 166.6h0M125.9 201.7h0M203.1 139.6h0M226.4 117.7h0M122.2 204.2h0M142.2 175.7h0M119.2 215.3h0M196.5 129.4h0M206.6 140.1h0M206.1 124.2h0M154.7 181.2h0M163.9 169.7h0M225.9 109.0h0M165.1 170.1h0M132.2 186.3h0M128.0 193.2h0M171.0 162.3h0M163.0 160.7h0M211.2 135.8h0M156.5 173.9h0M116.1 217.8h0M173.5 161.0h0M218.8 108.4h0M150.8 170.4h0M134.5 182.6h0M216.3 112.0h0M158.4 179.5h0M137.6 196.7h0M176.6 151.7h0M126.9 188.5h0M162.0 165.0h0M183.7 151.5h0M247.2 51.1h0M236.5 60.9h0M224.3 101.1h0M225.7 85.9h0M232.7 91.0h0M212.4 110.3h0M203.5 95.6h0M208.3 108.1h0M202.3 71.8h0M210.5 81.3h0" stroke="#5470de" stroke-width="0.7" stroke-opacity="0.2"/><path d="M219.5 121.1h0M172.4 150.3h0M145.0 192.1h0M148.1 172.1h0M119.0 203.8h0M179.6 142.6h0M205.7 129.8h0M126.1 197.2h0M122.1 204.6h0M198.5 139.5h0M153.7 175.8h0M169.3 160.9h0M184.7 148.7h0M229.9 115.0h0M108.3 222.0h0M213.2 123.2h0M141.4 183.0h0M157.2 167.8h0M216.9 117.5h0M192.7 140.0h0M230.8 109.9h0M143.7 190.1h0M160.6 174.1h0M183.9 157.4h0M162.2 171.8h0M152.0 187.7h0M129.0 202.9h0M182.9 142.9h0M112.4 203.5h0M212.5 83.6h0M208.2 95.6h0M245.9 40.8h0M211.4 109.0h0M215.5 61.8h0M225.6 76.0h0" stroke="#5470de" stroke-width="0.6" stroke-opacity="0.2"/><path d="M215.8 119.1h0M163.2 157.7h0M208.2 138.0h0M175.4 155.1h0M162.4 160.1h0M182.8 147.1h0M151.5 186.0h0M168.2 160.5h0M187.4 153.1h0M178.4 156.1h0M151.5 179.1h0M186.7 138.9h0M210.9 119.7h0M226.2 57.6h0M204.1 70.4h0M204.3 118.6h0M218.2 87.2h0M224.1 105.9h0" stroke="#5470de" stroke-width="0.8" stroke-opacity="0.2"/><path d="M189.0 113.5h0M235.5 101.3h0M273.0 119.4h0M224.3 140.9h0M207.2 90.7h0M196.8 117.9h0M197.8 124.4h0M190.0 106.0h0M198.0 78.2h0M205.3 90.0h0M212.2 64.7h0M201.9 71.6h0M188.9 91.6h0M202.4 78.9h0M204.6 83.4h0M195.7 62.5h0M189.5 90.8h0" stroke="#5470de" stroke-width="1.0" stroke-opacity="0.7"/><path d="M250.9 91.1h0M274.6 25.0h0M191.1 74.6h0M195.4 73.0h0M192.2 104.5h0M193.6 75.0h0M193.5 65.4h0M190.4 67.4h0M210.6 82.9h0" stroke="#5470de" stroke-width="0.9" stroke-opacity="0.7"/><path d="M270.3 77.4h0M205.7 135.3h0M259.2 99.2h0M247.3 136.1h0M189.0 84.7h0M191.1 76.3h0M192.5 82.2h0M190.2 74.0h0M192.7 93.7h0" stroke="#5470de" stroke-width="1.1" stroke-opacity="0.7"/><path d="M249.2 75.9h0M199.4 160.6h0" stroke="#5470de" stroke-width="1.2" stroke-opacity="0.7"/><path d="M197.0 71.9h0M206.2 69.2h0" stroke="#5470de" stroke-width="0.7" stroke-opacity="0.7"/><path d="M193.3 64.6h0M190.0 99.4h0M195.8 97.0h0M193.6 74.7h0M189.2 103.2h0M197.0 73.0h0" stroke="#5470de" stroke-width="0.8" stroke-opacity="0.7"/><path d="M154.2 145.1h0M100.5 163.5h0" stroke="#6180e9" stroke-width="1.0" stroke-opacity="0.9"/><path d="M123.6 161.7h0M141.2 152.4h0M140.6 152.7h0M125.6 161.9h0M126.2 161.3h0M157.9 139.9h0M124.2 159.3h0M152.8 143.9h0M175.7 134.4h0M124.8 159.8h0M119.6 161.4h0M136.0 161.1h0M147.8 148.9h0M120.2 161.1h0M149.0 149.4h0M186.9 117.6h0M179.8 120.7h0M184.0 116.8h0M170.6 127.9h0M158.6 141.9h0M169.4 127.3h0M121.1 160.3h0M160.3 135.4h0M179.7 120.6h0M175.8 124.8h0M120.9 164.1h0M133.5 160.3h0M168.5 130.3h0M151.0 146.0h0M118.4 165.7h0M132.3 160.0h0M174.0 125.1h0M139.0 155.0h0M187.7 111.6h0M165.3 133.2h0M140.2 154.5h0M133.5 163.2h0M153.9 144.8h0M145.0 151.8h0M139.9 158.6h0M123.3 161.8h0M140.5 155.7h0M138.9 157.4h0M182.9 116.7h0M156.0 138.8h0M179.6 120.4h0M160.7 139.6h0M171.6 128.5h0M138.2 155.5h0M164.7 133.6h0M156.1 143.7h0M147.4 149.8h0M135.7 160.0h0M188.2 85.8h0M185.1 96.1h0" stroke="#6180e9" stroke-width="1.4" stroke-opacity="0.8"/><path d="M99.9 160.2h0M102.8 160.3h0" stroke="#6180e9" stroke-width="2.0" stroke-opacity="0.8"/><path d="M183.5 76.9h0" stroke="#6180e9" stroke-width="2.1" stroke-opacity="0.8"/><path d="M142.3 153.6h0M173.8 126.4h0M159.7 137.9h0M179.2 124.8h0M157.3 147.7h0M186.5 98.7h0" stroke="#6180e9" stroke-width="1.2" stroke-opacity="0.8"/><path d="M105.6 160.2h0M98.6 161.6h0M185.1 104.8h0M185.8 107.4h0M184.2 107.4h0" stroke="#6180e9" stroke-width="1.9" stroke-opacity="0.8"/><path d="M153.1 143.2h0M154.2 142.6h0M146.8 148.3h0M168.5 132.6h0M138.1 155.0h0M139.7 155.4h0M146.9 151.8h0M118.8 163.2h0M160.5 139.7h0M130.0 162.2h0M182.9 119.5h0M146.5 155.0h0M139.3 158.9h0M179.6 123.7h0M148.1 148.9h0M168.3 129.9h0M150.2 146.9h0M172.8 133.0h0M136.3 158.7h0M148.5 147.7h0M135.7 159.4h0M136.6 160.6h0M184.0 118.5h0M170.0 132.3h0M126.8 160.8h0M160.0 138.8h0M151.2 146.2h0M160.1 136.3h0M165.7 133.0h0M178.8 121.5h0M162.6 134.4h0M131.2 159.5h0M146.1 149.1h0M155.4 141.5h0M139.8 159.0h0M159.7 137.8h0M179.3 119.3h0M145.3 150.4h0M156.6 139.9h0M184.8 114.5h0M184.4 99.3h0M186.1 76.8h0M185.2 97.3h0" stroke="#6180e9" stroke-width="1.3" stroke-opacity="0.8"/><path d="M119.1 162.5h0M132.2 161.4h0M165.6 131.9h0M161.3 137.8h0M124.5 161.0h0M188.7 102.4h0M122.0 162.6h0M179.3 121.8h0M163.7 140.6h0M187.8 113.8h0M163.1 136.5h0M156.2 139.4h0M139.7 157.0h0M184.4 112.9h0M133.6 159.7h0M135.3 161.9h0M169.5 129.4h0M157.6 139.0h0M186.4 104.9h0M158.6 141.1h0M136.8 159.0h0M177.6 123.0h0M145.4 151.3h0M148.3 145.3h0M126.3 165.1h0M171.6 129.2h0M167.1 131.0h0M152.8 145.4h0M127.9 162.4h0M143.5 153.6h0M175.5 124.1h0M167.5 132.8h0M140.0 154.7h0M128.4 162.3h0M187.2 111.1h0M140.0 154.8h0M150.3 147.8h0M182.8 119.5h0M140.0 156.5h0M159.9 139.3h0M126.5 160.0h0M168.8 131.7h0M127.6 162.0h0M187.0 94.7h0M184.8 103.6h0M186.8 100.8h0M186.5 95.1h0M187.8 85.6h0" stroke="#6180e9" stroke-width="1.5" stroke-opacity="0.8"/><path d="M104.4 165.4h0M130.2 161.9h0M139.1 154.2h0M179.9 120.6h0M153.0 144.6h0M149.0 147.2h0M185.7 114.8h0M184.1 116.0h0M186.4 112.9h0M144.0 149.9h0M186.1 114.0h0M159.9 136.4h0M184.8 108.7h0M150.5 147.0h0M183.0 115.5h0" stroke="#6180e9" stroke-width="1.7" stroke-opacity="0.8"/><path d="M120.1 163.7h0M144.8 154.7h0M160.0 136.2h0M142.1 154.4h0M145.6 149.2h0M122.5 161.1h0M147.2 152.5h0M136.7 160.0h0M192.6 103.9h0M163.3 134.5h0M174.4 128.7h0M127.2 161.2h0M174.1 125.7h0M159.8 136.6h0M149.8 145.0h0M139.1 154.7h0M172.7 127.4h0M136.0 160.5h0M175.0 125.7h0M156.2 140.5h0M119.5 164.4h0M161.0 138.2h0M151.7 145.0h0M185.3 112.8h0M168.8 129.0h0M127.8 161.8h0M155.4 143.2h0M120.5 160.7h0M189.4 111.1h0M130.1 162.2h0M167.5 134.0h0M177.0 123.1h0M144.2 148.6h0M158.5 140.1h0M182.6 118.7h0M148.8 146.4h0M186.1 111.1h0M146.7 148.3h0M180.9 120.4h0M136.0 156.5h0M148.4 146.3h0M172.3 130.6h0M131.1 160.8h0M153.6 140.6h0M167.4 135.0h0M147.1 151.0h0M155.9 141.8h0M151.9 144.9h0M179.3 119.7h0M186.4 88.8h0" stroke="#6180e9" stroke-width="1.6" stroke-opacity="0.8"/><path d="M185.7 77.5h0" stroke="#6180e9" stroke-width="2.2" stroke-opacity="0.8"/><path d="M129.5 165.8h0" stroke="#6180e9" stroke-width="1.1" stroke-opacity="0.8"/><path d="M185.9 107.3h0" stroke="#6180e9" stroke-width="1.8" stroke-opacity="0.8"/><path d="M190.2 84.8h0" stroke="#6180e9" stroke-width="0.8" stroke-opacity="0.7"/><path d="M183.1 116.4h0M180.0 116.4h0" stroke="#6f92f3" stroke-width="1.2" stroke-opacity="0.9"/><path d="M115.5 160.1h0M169.4 125.5h0M169.6 125.8h0M171.9 125.0h0M126.2 160.8h0M177.2 123.0h0M139.7 153.8h0M154.4 139.8h0M128.6 159.1h0M184.6 109.7h0M171.4 125.4h0M153.6 140.2h0M140.3 153.9h0M135.5 156.9h0M174.8 123.1h0M142.0 150.1h0M123.7 161.2h0M160.7 136.1h0M123.0 160.0h0M166.2 128.1h0M173.1 123.4h0M185.2 110.0h0M138.3 155.3h0M184.6 105.9h0M145.5 146.9h0M147.0 148.0h0M183.5 90.8h0" stroke="#6f92f3" stroke-width="1.6" stroke-opacity="0.8"/><path d="M156.2 138.9h0M107.1 160.4h0M154.9 139.9h0M132.0 158.6h0M122.8 160.3h0M164.6 129.7h0M185.3 107.2h0M133.8 157.3h0M169.1 128.4h0M182.6 113.7h0M138.9 154.5h0M186.3 112.6h0M165.1 129.8h0M172.0 127.2h0M125.6 158.2h0M124.1 160.3h0M133.5 160.4h0M149.2 144.5h0M144.6 148.4h0M174.2 123.4h0M123.2 160.2h0M185.3 94.1h0" stroke="#6f92f3" stroke-width="1.4" stroke-opacity="0.8"/><path d="M184.8 105.9h0M143.9 154.3h0M154.3 140.1h0M157.9 138.8h0M123.8 160.7h0M140.3 153.1h0M184.2 115.1h0M168.1 131.4h0M132.6 159.7h0M138.7 152.4h0M182.3 115.7h0M149.2 146.9h0M165.6 132.3h0M145.7 148.5h0M141.4 153.5h0M141.1 154.8h0M143.8 148.3h0M182.4 76.5h0M185.7 99.5h0" stroke="#6f92f3" stroke-width="1.3" stroke-opacity="0.8"/><path d="M140.7 153.1h0M161.4 135.4h0M184.3 94.8h0M184.2 98.6h0M184.5 89.7h0" stroke="#6f92f3" stroke-width="1.2" stroke-opacity="0.8"/><path d="M184.8 80.4h0M101.2 160.1h0" stroke="#6f92f3" stroke-width="2.0" stroke-opacity="0.8"/><path d="M182.6 84.5h0M97.3 159.9h0" stroke="#6f92f3" stroke-width="2.1" stroke-opacity="0.8"/><path d="M101.4 159.8h0M156.7 137.3h0M129.0 159.4h0M177.2 120.5h0M176.5 121.0h0M176.5 120.3h0M175.5 120.7h0M162.8 132.9h0M170.2 125.8h0M121.2 161.4h0M159.7 134.7h0M168.6 126.6h0M181.8 118.0h0M134.4 157.3h0M143.7 148.9h0M158.5 134.7h0M174.4 122.4h0M164.3 130.3h0M165.4 130.5h0M156.0 139.1h0M158.9 138.7h0M176.9 119.8h0M183.1 113.2h0M153.4 139.2h0M164.2 132.2h0M156.2 137.9h0M153.6 142.2h0" stroke="#6f92f3" stroke-width="1.7" stroke-opacity="0.8"/><path d="M105.9 159.6h0M99.5 160.0h0M185.2 104.5h0M182.5 109.3h0" stroke="#6f92f3" stroke-width="1.9" stroke-opacity="0.8"/><path d="M115.2 158.6h0M141.3 151.8h0M145.7 150.4h0M180.1 117.1h0M186.1 105.0h0M160.8 134.0h0M182.7 114.5h0M130.3 158.2h0M161.4 133.0h0M175.4 121.4h0M181.3 116.0h0M184.8 112.1h0M147.1 145.5h0M159.3 135.4h0M156.0 137.8h0M145.8 149.2h0M147.1 146.7h0M181.0 117.2h0M182.8 115.1h0M142.5 151.8h0M158.4 137.7h0M152.3 140.5h0M143.4 149.9h0M181.8 113.7h0M167.2 128.5h0M158.4 138.0h0M152.5 140.7h0M184.0 112.1h0M151.0 143.9h0M165.5 130.4h0M185.0 104.1h0M182.2 94.8h0M183.3 83.7h0M182.6 104.6h0M183.5 103.8h0" stroke="#6f92f3" stroke-width="1.5" stroke-opacity="0.8"/><path d="M173.6 122.7h0M171.8 123.8h0M172.5 121.3h0" stroke="#6f92f3" stroke-width="1.8" stroke-opacity="0.8"/><path d="M164.2 128.1h0" stroke="#7ea1fa" stroke-width="1.3" stroke-opacity="0.9"/><path d="M155.5 136.2h0M142.8 148.8h0M169.2 124.6h0M162.9 133.1h0M157.1 135.8h0M182.1 81.4h0M183.1 102.0h0" stroke="#7ea1fa" stroke-width="1.3" stroke-opacity="0.8"/><path d="M150.5 142.7h0M156.7 137.3h0M183.6 100.6h0" stroke="#7ea1fa" stroke-width="1.2" stroke-opacity="0.8"/><path d="M182.1 86.2h0" stroke="#7ea1fa" stroke-width="2.1" stroke-opacity="0.8"/><path d="M107.7 157.6h0M177.4 118.9h0M156.1 137.4h0M134.5 155.6h0M127.1 158.1h0M149.0 142.2h0M148.5 145.0h0M132.6 157.0h0M128.2 157.6h0M142.2 150.2h0M176.5 120.7h0M176.9 117.9h0M135.9 154.9h0M129.4 159.0h0M165.2 129.9h0M148.7 145.1h0M136.9 152.9h0M182.2 90.5h0" stroke="#7ea1fa" stroke-width="1.5" stroke-opacity="0.8"/><path d="M111.6 158.4h0M125.1 157.1h0M150.7 143.0h0M147.4 143.7h0M167.5 126.9h0M171.0 122.7h0M162.4 131.2h0M162.5 132.8h0M164.1 129.8h0M160.8 131.3h0M127.5 158.1h0M123.6 158.6h0M176.2 117.7h0M131.7 156.8h0M180.2 117.3h0M157.7 136.2h0M130.5 158.0h0M139.8 150.7h0M169.3 124.6h0M181.9 97.6h0" stroke="#7ea1fa" stroke-width="1.6" stroke-opacity="0.8"/><path d="M120.8 156.8h0M115.4 157.9h0M129.3 158.2h0M135.7 154.3h0M175.4 120.1h0M160.5 133.1h0M146.0 146.4h0M163.4 130.3h0M156.4 135.9h0M171.5 122.7h0M175.7 117.8h0M182.3 111.3h0M138.5 153.1h0M130.8 158.3h0M155.7 137.9h0M181.8 102.7h0M182.0 93.6h0M183.0 91.1h0" stroke="#7ea1fa" stroke-width="1.4" stroke-opacity="0.8"/><path d="M101.3 158.9h0M154.2 137.9h0M161.2 130.7h0M152.6 138.9h0M182.5 107.5h0M138.6 151.5h0M145.5 145.6h0M168.9 125.0h0" stroke="#7ea1fa" stroke-width="1.8" stroke-opacity="0.8"/><path d="M111.2 157.6h0M145.2 147.1h0M162.0 133.3h0M136.3 153.7h0M132.3 157.1h0M170.1 123.7h0M166.8 126.2h0M182.1 110.4h0M181.9 109.6h0M172.1 124.7h0M173.9 121.8h0M177.6 118.6h0M178.7 116.9h0M171.2 123.3h0M127.4 158.0h0M155.7 136.5h0M131.4 157.8h0M167.9 128.8h0M161.6 132.9h0" stroke="#7ea1fa" stroke-width="1.7" stroke-opacity="0.8"/><path d="M130.0 156.7h0" stroke="#8caffe" stroke-width="1.0" stroke-opacity="0.9"/><path d="M167.1 125.4h0" stroke="#8caffe" stroke-width="1.3" stroke-opacity="0.9"/><path d="M164.0 128.0h0" stroke="#8caffe" stroke-width="1.2" stroke-opacity="0.9"/><path d="M119.7 156.8h0M101.2 156.6h0M160.6 133.5h0M161.7 129.1h0M128.4 156.8h0M163.9 128.7h0M177.8 115.6h0M174.1 120.3h0M155.9 135.1h0M173.1 118.1h0M146.6 143.4h0M134.2 153.8h0M180.3 108.8h0M169.2 123.3h0M168.3 124.0h0M161.5 129.7h0M133.3 156.8h0M130.2 158.2h0M166.4 126.4h0M161.1 131.8h0" stroke="#8caffe" stroke-width="1.7" stroke-opacity="0.8"/><path d="M134.2 153.2h0M137.4 151.4h0M176.8 118.1h0M133.6 156.7h0M176.4 118.6h0M182.7 81.7h0" stroke="#8caffe" stroke-width="1.3" stroke-opacity="0.8"/><path d="M180.1 85.1h0M115.0 157.4h0M142.0 147.9h0M135.4 152.5h0M154.0 136.2h0M137.6 151.8h0M180.9 111.0h0M177.4 117.5h0M171.4 122.6h0" stroke="#8caffe" stroke-width="1.8" stroke-opacity="0.8"/><path d="M134.0 154.7h0M138.1 151.7h0M178.3 115.3h0M169.9 124.0h0M162.2 129.5h0M165.6 126.4h0M170.2 122.8h0M149.3 141.5h0M129.1 157.1h0M147.9 142.3h0M166.9 125.0h0M145.1 145.9h0M176.7 116.7h0M164.1 129.4h0M180.8 104.4h0" stroke="#8caffe" stroke-width="1.4" stroke-opacity="0.8"/><path d="M118.5 157.0h0" stroke="#8caffe" stroke-width="1.9" stroke-opacity="0.8"/><path d="M104.6 156.7h0M181.3 110.8h0M178.1 117.2h0M143.4 145.3h0M150.5 141.2h0M170.7 124.6h0M157.6 134.4h0M135.8 153.7h0M148.0 143.7h0M164.6 127.3h0M147.5 143.2h0M142.9 145.8h0M134.2 154.6h0M138.3 150.1h0M173.8 121.0h0M158.6 132.9h0M134.8 152.3h0M133.0 155.2h0M181.9 95.9h0M181.9 105.4h0" stroke="#8caffe" stroke-width="1.6" stroke-opacity="0.8"/><path d="M159.0 133.1h0M145.3 145.6h0M147.6 142.3h0M179.5 112.9h0M143.8 145.8h0M138.4 151.4h0M144.3 144.7h0M158.3 133.5h0M172.7 120.7h0M132.0 155.3h0M137.3 153.4h0" stroke="#8caffe" stroke-width="1.5" stroke-opacity="0.8"/><path d="M181.5 105.0h0M160.4 129.9h0M155.6 135.0h0M180.4 109.6h0M156.7 134.2h0M132.7 153.9h0M132.8 155.3h0M146.0 143.3h0M134.8 153.3h0M167.3 124.2h0M141.1 147.4h0M180.2 112.1h0M157.0 132.4h0M154.6 135.5h0M180.1 83.2h0" stroke="#9bbcff" stroke-width="1.4" stroke-opacity="0.8"/><path d="M141.7 146.4h0M180.5 111.8h0M132.2 154.1h0M164.1 127.2h0M149.1 141.7h0M164.9 125.3h0M131.4 155.5h0M131.0 155.6h0M157.9 132.4h0M179.1 89.4h0" stroke="#9bbcff" stroke-width="1.5" stroke-opacity="0.8"/><path d="M112.9 155.8h0M166.0 124.7h0M164.3 126.5h0M151.6 135.8h0" stroke="#9bbcff" stroke-width="1.9" stroke-opacity="0.8"/><path d="M124.1 155.4h0M109.8 156.0h0M134.9 152.6h0M154.8 135.4h0M139.0 148.6h0M159.1 132.8h0M154.7 135.3h0M159.0 131.2h0M179.6 99.5h0" stroke="#9bbcff" stroke-width="1.6" stroke-opacity="0.8"/><path d="M180.1 112.8h0M160.3 130.1h0M180.1 102.7h0" stroke="#9bbcff" stroke-width="1.3" stroke-opacity="0.8"/><path d="M175.3 117.3h0M158.6 131.9h0M151.5 137.3h0M169.4 121.7h0M149.5 140.1h0M180.1 110.9h0M138.5 148.4h0" stroke="#9bbcff" stroke-width="1.8" stroke-opacity="0.8"/><path d="M133.4 154.6h0M175.0 116.6h0M154.5 135.0h0M173.8 118.6h0M142.6 145.2h0M167.7 123.5h0M172.2 120.7h0M146.6 141.2h0M180.4 109.4h0M146.1 143.0h0" stroke="#9bbcff" stroke-width="1.7" stroke-opacity="0.8"/><path d="M156.6 132.5h0" stroke="#a9c6fd" stroke-width="1.3" stroke-opacity="0.9"/><path d="M101.3 155.7h0" stroke="#a9c6fd" stroke-width="2.1" stroke-opacity="0.8"/><path d="M162.7 125.4h0M140.8 146.8h0M170.3 120.6h0M163.9 126.1h0M144.3 142.4h0M156.8 132.2h0M177.3 114.0h0M157.4 131.3h0M131.7 154.3h0" stroke="#a9c6fd" stroke-width="1.5" stroke-opacity="0.8"/><path d="M116.2 155.0h0M101.1 155.7h0M143.5 144.0h0M135.8 151.4h0M132.0 154.4h0M144.8 142.7h0M138.9 148.5h0M141.5 146.8h0M179.4 97.5h0" stroke="#a9c6fd" stroke-width="1.6" stroke-opacity="0.8"/><path d="M152.1 136.3h0M178.7 93.0h0" stroke="#a9c6fd" stroke-width="1.3" stroke-opacity="0.8"/><path d="M104.1 154.8h0M161.6 127.3h0M159.0 129.7h0M147.3 139.8h0M168.6 121.6h0M135.9 150.6h0M168.9 122.6h0M144.4 142.7h0M133.8 152.0h0M173.9 117.4h0M139.0 146.8h0" stroke="#a9c6fd" stroke-width="1.8" stroke-opacity="0.8"/><path d="M158.0 130.9h0M159.8 129.2h0M128.5 156.3h0M136.6 150.0h0M164.5 124.9h0M163.7 125.5h0M140.5 147.2h0" stroke="#a9c6fd" stroke-width="1.4" stroke-opacity="0.8"/><path d="M179.3 102.3h0M140.2 146.7h0M142.8 143.7h0M138.9 147.8h0" stroke="#a9c6fd" stroke-width="1.7" stroke-opacity="0.8"/><path d="M114.9 155.3h0M168.7 121.3h0" stroke="#a9c6fd" stroke-width="1.9" stroke-opacity="0.8"/><path d="M178.2 97.2h0M179.5 99.8h0" stroke="#a9c6fd" stroke-width="1.2" stroke-opacity="0.8"/><path d="M157.5 130.5h0" stroke="#b7cff9" stroke-width="1.0" stroke-opacity="0.9"/><path d="M175.2 114.9h0" stroke="#b7cff9" stroke-width="1.2" stroke-opacity="0.9"/><path d="M138.5 147.2h0" stroke="#b7cff9" stroke-width="1.3" stroke-opacity="0.9"/><path d="M178.6 106.1h0M118.3 154.1h0M128.6 154.8h0M177.4 112.6h0M130.1 154.2h0M153.9 134.4h0M141.8 144.4h0M164.1 124.0h0M155.7 131.7h0M175.7 113.7h0" stroke="#b7cff9" stroke-width="1.7" stroke-opacity="0.8"/><path d="M141.9 143.9h0M178.5 84.6h0" stroke="#b7cff9" stroke-width="1.3" stroke-opacity="0.8"/><path d="M157.6 130.1h0M151.8 135.9h0M148.9 138.2h0M147.6 140.5h0M130.8 154.5h0M138.6 147.5h0M174.4 116.1h0M139.8 146.0h0M174.5 115.3h0M148.4 138.8h0" stroke="#b7cff9" stroke-width="1.6" stroke-opacity="0.8"/><path d="M131.0 153.8h0M127.3 155.0h0M146.4 141.3h0M149.8 136.9h0M137.1 148.6h0M155.8 131.2h0M150.7 136.0h0M163.1 126.0h0M150.3 137.5h0M161.3 128.0h0M135.5 149.7h0M178.1 89.8h0" stroke="#b7cff9" stroke-width="1.5" stroke-opacity="0.8"/><path d="M105.3 154.7h0M113.2 154.9h0M170.4 119.6h0M164.3 124.7h0" stroke="#b7cff9" stroke-width="1.9" stroke-opacity="0.8"/><path d="M103.1 154.5h0M129.4 154.2h0M155.8 132.1h0M165.0 123.6h0M169.5 120.7h0" stroke="#b7cff9" stroke-width="1.8" stroke-opacity="0.8"/><path d="M133.3 152.2h0M130.7 154.0h0M131.0 154.2h0M128.8 154.2h0M141.8 144.3h0" stroke="#b7cff9" stroke-width="1.4" stroke-opacity="0.8"/><path d="M178.0 99.5h0" stroke="#b7cff9" stroke-width="1.2" stroke-opacity="0.8"/><path d="M143.6 141.7h0" stroke="#c5d6f2" stroke-width="1.1" stroke-opacity="0.9"/><path d="M127.5 154.3h0M113.9 153.6h0M143.1 142.4h0M133.9 150.1h0M137.3 148.0h0M131.4 152.2h0M144.6 140.9h0M165.9 122.4h0M178.1 93.6h0" stroke="#c5d6f2" stroke-width="1.6" stroke-opacity="0.8"/><path d="M138.3 145.9h0M133.2 150.7h0M155.5 131.4h0M131.9 151.7h0M177.7 103.9h0M178.5 76.0h0" stroke="#c5d6f2" stroke-width="1.4" stroke-opacity="0.8"/><path d="M119.0 153.7h0M175.5 113.8h0M171.3 117.4h0M159.0 128.9h0M160.5 127.3h0M164.3 123.4h0M175.9 113.9h0" stroke="#c5d6f2" stroke-width="1.8" stroke-opacity="0.8"/><path d="M105.3 153.6h0M103.5 154.2h0" stroke="#c5d6f2" stroke-width="2.1" stroke-opacity="0.8"/><path d="M112.4 154.4h0M110.2 154.4h0M174.1 114.7h0M160.5 127.1h0M155.2 131.4h0M169.8 118.7h0" stroke="#c5d6f2" stroke-width="1.7" stroke-opacity="0.8"/><path d="M120.2 154.3h0M167.8 120.1h0M136.0 148.9h0M146.8 139.6h0" stroke="#c5d6f2" stroke-width="1.9" stroke-opacity="0.8"/><path d="M142.8 142.8h0M151.7 134.7h0M177.6 110.1h0M178.0 106.5h0" stroke="#c5d6f2" stroke-width="1.5" stroke-opacity="0.8"/><path d="M112.2 153.0h0M135.3 149.2h0M155.3 131.2h0M129.3 153.0h0M169.6 118.5h0M148.3 137.1h0" stroke="#d1dae9" stroke-width="1.7" stroke-opacity="0.8"/><path d="M156.9 129.8h0M145.6 138.9h0M150.0 135.0h0M132.3 150.3h0M177.0 112.0h0M141.2 144.3h0M155.7 130.2h0M170.7 117.1h0M146.1 138.9h0M159.5 126.6h0" stroke="#d1dae9" stroke-width="1.6" stroke-opacity="0.8"/><path d="M140.1 144.4h0M174.8 113.9h0M140.7 144.1h0M161.6 125.9h0M156.9 129.6h0M166.6 120.9h0M164.0 122.9h0" stroke="#d1dae9" stroke-width="1.5" stroke-opacity="0.8"/><path d="M144.1 140.3h0" stroke="#d1dae9" stroke-width="1.9" stroke-opacity="0.8"/><path d="M140.4 143.7h0M171.2 116.8h0M173.7 114.7h0" stroke="#d1dae9" stroke-width="1.8" stroke-opacity="0.8"/><path d="M177.4 94.1h0" stroke="#d1dae9" stroke-width="1.4" stroke-opacity="0.8"/><path d="M176.8 110.9h0" stroke="#d1dae9" stroke-width="1.3" stroke-opacity="0.8"/><path d="M140.1 143.6h0" stroke="#dcdddd" stroke-width="1.2" stroke-opacity="0.9"/><path d="M167.8 119.5h0" stroke="#dcdddd" stroke-width="1.1" stroke-opacity="0.9"/><path d="M148.7 136.1h0M167.5 120.2h0M176.4 112.1h0M158.6 127.5h0" stroke="#dcdddd" stroke-width="1.5" stroke-opacity="0.8"/><path d="M150.5 134.6h0" stroke="#dcdddd" stroke-width="1.8" stroke-opacity="0.8"/><path d="M137.8 146.1h0M163.0 124.2h0M161.6 124.8h0M150.1 134.9h0" stroke="#dcdddd" stroke-width="1.6" stroke-opacity="0.8"/><path d="M165.5 121.8h0" stroke="#dcdddd" stroke-width="1.4" stroke-opacity="0.8"/><path d="M162.4 124.3h0M173.6 114.4h0M152.1 133.2h0" stroke="#dcdddd" stroke-width="1.9" stroke-opacity="0.8"/><path d="M167.1 120.0h0M145.8 138.6h0" stroke="#dcdddd" stroke-width="1.7" stroke-opacity="0.8"/><path d="M177.0 97.5h0M177.2 96.7h0" stroke="#dcdddd" stroke-width="1.3" stroke-opacity="0.8"/></g><circle cx="121.4" cy="141.7" r="0.98" fill="#de614d" fill-opacity="0.86" stroke="#fff" stroke-opacity="0.25" stroke-width="0.25"/><circle cx="158.2" cy="113.3" r="1.23" fill="#e9785d" fill-opacity="0.86" stroke="#fff" stroke-opacity="0.25" stroke-width="0.25"/><circle cx="161.4" cy="115.8" r="1.07" fill="#f7a688" fill-opacity="0.86" stroke="#fff" stroke-opacity="0.25" stroke-width="0.25"/><circle cx="119.1" cy="140.8" r="1.18" fill="#d85646" fill-opacity="0.86" stroke="#fff" stroke-opacity="0.25" stroke-width="0.25"/><circle cx="161.8" cy="94.8" r="1.09" fill="#e26952" fill-opacity="0.86" stroke="#fff" stroke-opacity="0.25" stroke-width="0.25"/><circle cx="133.5" cy="141.1" r="1.02" fill="#f39778" fill-opacity="0.86" stroke="#fff" stroke-opacity="0.25" stroke-width="0.25"/><circle cx="129.6" cy="136.6" r="1.02" fill="#e16751" fill-opacity="0.86" stroke="#fff" stroke-opacity="0.25" stroke-width="0.25"/><circle cx="154.5" cy="115.6" r="1.02" fill="#d24b40" fill-opacity="0.86" stroke="#fff" stroke-opacity="0.25" stroke-width="0.25"/><circle cx="144.7" cy="120.6" r="1.25" fill="#cd423b" fill-opacity="0.86" stroke="#fff" stroke-opacity="0.25" stroke-width="0.25"/><circle cx="115.6" cy="140.8" r="1.02" fill="#e36b54" fill-opacity="0.86" stroke="#fff" stroke-opacity="0.25" stroke-width="0.25"/><circle cx="146.9" cy="118.8" r="1.10" fill="#cb3e38" fill-opacity="0.86" stroke="#fff" stroke-opacity="0.25" stroke-width="0.25"/><circle cx="141.6" cy="112.8" r="1.22" fill="#cf453c" fill-opacity="0.86" stroke="#fff" stroke-opacity="0.25" stroke-width="0.25"/><circle cx="125.3" cy="139.7" r="1.22" fill="#d1493f" fill-opacity="0.86" stroke="#fff" stroke-opacity="0.25" stroke-width="0.25"/><circle cx="147.0" cy="116.3" r="1.23" fill="#b40426" fill-opacity="0.86" stroke="#fff" stroke-opacity="0.25" stroke-width="0.25"/><circle cx="113.5" cy="143.5" r="1.09" fill="#f6a385" fill-opacity="0.86" stroke="#fff" stroke-opacity="0.25" stroke-width="0.25"/><circle cx="148.6" cy="121.2" r="1.16" fill="#d85646" fill-opacity="0.86" stroke="#fff" stroke-opacity="0.25" stroke-width="0.25"/><circle cx="164.8" cy="108.6" r="1.12" fill="#f18f71" fill-opacity="0.86" stroke="#fff" stroke-opacity="0.25" stroke-width="0.25"/><circle cx="137.1" cy="133.0" r="1.15" fill="#e8765c" fill-opacity="0.86" stroke="#fff" stroke-opacity="0.25" stroke-width="0.25"/><circle cx="122.5" cy="129.7" r="1.30" fill="#b40426" fill-opacity="0.86" stroke="#fff" stroke-opacity="0.25" stroke-width="0.25"/><circle cx="125.2" cy="148.5" r="1.16" fill="#f4c5ad" fill-opacity="0.86" stroke="#fff" stroke-opacity="0.25" stroke-width="0.25"/><circle cx="123.2" cy="132.0" r="1.16" fill="#c73635" fill-opacity="0.86" stroke="#fff" stroke-opacity="0.25" stroke-width="0.25"/><circle cx="135.0" cy="130.3" r="1.22" fill="#cd423b" fill-opacity="0.86" stroke="#fff" stroke-opacity="0.25" stroke-width="0.25"/><circle cx="149.9" cy="110.8" r="1.30" fill="#b50927" fill-opacity="0.86" stroke="#fff" stroke-opacity="0.25" stroke-width="0.25"/><circle cx="149.4" cy="120.9" r="1.18" fill="#d1493f" fill-opacity="0.86" stroke="#fff" stroke-opacity="0.25" stroke-width="0.25"/><circle cx="161.6" cy="113.7" r="1.14" fill="#eb7d62" fill-opacity="0.86" stroke="#fff" stroke-opacity="0.25" stroke-width="0.25"/><circle cx="137.4" cy="128.8" r="1.24" fill="#dc5d4a" fill-opacity="0.86" stroke="#fff" stroke-opacity="0.25" stroke-width="0.25"/><circle cx="120.1" cy="137.9" r="1.27" fill="#df634e" fill-opacity="0.86" stroke="#fff" stroke-opacity="0.25" stroke-width="0.25"/><circle cx="141.5" cy="120.0" r="1.08" fill="#d1493f" fill-opacity="0.86" stroke="#fff" stroke-opacity="0.25" stroke-width="0.25"/><circle cx="175.5" cy="94.4" r="1.25" fill="#f7af91" fill-opacity="0.86" stroke="#fff" stroke-opacity="0.25" stroke-width="0.25"/><circle cx="158.3" cy="108.5" r="1.06" fill="#c0282f" fill-opacity="0.86" stroke="#fff" stroke-opacity="0.25" stroke-width="0.25"/><circle cx="150.2" cy="112.6" r="0.96" fill="#c43032" fill-opacity="0.86" stroke="#fff" stroke-opacity="0.25" stroke-width="0.25"/><circle cx="117.6" cy="144.6" r="1.26" fill="#ef886b" fill-opacity="0.86" stroke="#fff" stroke-opacity="0.25" stroke-width="0.25"/><circle cx="108.1" cy="147.0" r="1.27" fill="#f59f80" fill-opacity="0.86" stroke="#fff" stroke-opacity="0.25" stroke-width="0.25"/><circle cx="151.3" cy="110.9" r="1.21" fill="#ba162b" fill-opacity="0.86" stroke="#fff" stroke-opacity="0.25" stroke-width="0.25"/><circle cx="121.3" cy="142.4" r="1.21" fill="#c73635" fill-opacity="0.86" stroke="#fff" stroke-opacity="0.25" stroke-width="0.25"/><circle cx="148.5" cy="127.9" r="1.09" fill="#ed8366" fill-opacity="0.86" stroke="#fff" stroke-opacity="0.25" stroke-width="0.25"/><circle cx="167.4" cy="95.4" r="0.98" fill="#ec7f63" fill-opacity="0.86" stroke="#fff" stroke-opacity="0.25" stroke-width="0.25"/><circle cx="147.7" cy="117.9" r="0.98" fill="#b50927" fill-opacity="0.86" stroke="#fff" stroke-opacity="0.25" stroke-width="0.25"/><circle cx="124.8" cy="144.1" r="1.18" fill="#e46e56" fill-opacity="0.86" stroke="#fff" stroke-opacity="0.25" stroke-width="0.25"/><circle cx="174.9" cy="94.2" r="1.25" fill="#f1cdba" fill-opacity="0.86" stroke="#fff" stroke-opacity="0.25" stroke-width="0.25"/><circle cx="142.7" cy="127.2" r="1.01" fill="#c12b30" fill-opacity="0.86" stroke="#fff" stroke-opacity="0.25" stroke-width="0.25"/><circle cx="174.5" cy="94.4" r="1.16" fill="#f6bda2" fill-opacity="0.86" stroke="#fff" stroke-opacity="0.25" stroke-width="0.25"/><circle cx="167.9" cy="94.9" r="1.04" fill="#f49a7b" fill-opacity="0.86" stroke="#fff" stroke-opacity="0.25" stroke-width="0.25"/><circle cx="170.3" cy="98.7" r="1.08" fill="#eb7d62" fill-opacity="0.86" stroke="#fff" stroke-opacity="0.25" stroke-width="0.25"/><circle cx="166.3" cy="92.7" r="1.28" fill="#f29274" fill-opacity="0.86" stroke="#fff" stroke-opacity="0.25" stroke-width="0.25"/><circle cx="167.5" cy="106.0" r="1.11" fill="#f4987a" fill-opacity="0.86" stroke="#fff" stroke-opacity="0.25" stroke-width="0.25"/><circle cx="173.0" cy="105.8" r="1.05" fill="#f7b093" fill-opacity="0.86" stroke="#fff" stroke-opacity="0.25" stroke-width="0.25"/><circle cx="120.5" cy="133.9" r="1.24" fill="#cd423b" fill-opacity="0.86" stroke="#fff" stroke-opacity="0.25" stroke-width="0.25"/><circle cx="149.6" cy="113.0" r="0.96" fill="#c73635" fill-opacity="0.86" stroke="#fff" stroke-opacity="0.25" stroke-width="0.25"/><circle cx="157.9" cy="106.1" r="0.97" fill="#c43032" fill-opacity="0.86" stroke="#fff" stroke-opacity="0.25" stroke-width="0.25"/><circle cx="157.5" cy="98.0" r="0.96" fill="#cc403a" fill-opacity="0.86" stroke="#fff" stroke-opacity="0.25" stroke-width="0.25"/><circle cx="164.3" cy="96.3" r="1.28" fill="#f29274" fill-opacity="0.86" stroke="#fff" stroke-opacity="0.25" stroke-width="0.25"/><circle cx="170.4" cy="106.1" r="1.07" fill="#f7b396" fill-opacity="0.86" stroke="#fff" stroke-opacity="0.25" stroke-width="0.25"/><circle cx="134.7" cy="140.2" r="1.29" fill="#f6a586" fill-opacity="0.86" stroke="#fff" stroke-opacity="0.25" stroke-width="0.25"/><circle cx="128.0" cy="141.4" r="1.26" fill="#ea7b60" fill-opacity="0.86" stroke="#fff" stroke-opacity="0.25" stroke-width="0.25"/><circle cx="156.2" cy="113.1" r="1.08" fill="#c32e31" fill-opacity="0.86" stroke="#fff" stroke-opacity="0.25" stroke-width="0.25"/><circle cx="144.7" cy="116.5" r="1.00" fill="#be242e" fill-opacity="0.86" stroke="#fff" stroke-opacity="0.25" stroke-width="0.25"/><circle cx="152.7" cy="111.7" r="1.05" fill="#da5a49" fill-opacity="0.86" stroke="#fff" stroke-opacity="0.25" stroke-width="0.25"/><circle cx="154.4" cy="111.6" r="1.11" fill="#cf453c" fill-opacity="0.86" stroke="#fff" stroke-opacity="0.25" stroke-width="0.25"/><circle cx="168.0" cy="107.8" r="1.04" fill="#f4987a" fill-opacity="0.86" stroke="#fff" stroke-opacity="0.25" stroke-width="0.25"/><circle cx="160.0" cy="116.0" r="1.12" fill="#e9785d" fill-opacity="0.86" stroke="#fff" stroke-opacity="0.25" stroke-width="0.25"/><circle cx="125.5" cy="140.0" r="1.08" fill="#be242e" fill-opacity="0.86" stroke="#fff" stroke-opacity="0.25" stroke-width="0.25"/><circle cx="124.0" cy="140.7" r="1.20" fill="#df634e" fill-opacity="0.86" stroke="#fff" stroke-opacity="0.25" stroke-width="0.25"/><circle cx="133.0" cy="130.8" r="1.14" fill="#d1493f" fill-opacity="0.86" stroke="#fff" stroke-opacity="0.25" stroke-width="0.25"/><circle cx="156.0" cy="109.9" r="1.18" fill="#c83836" fill-opacity="0.86" stroke="#fff" stroke-opacity="0.25" stroke-width="0.25"/><circle cx="166.9" cy="105.3" r="0.96" fill="#e67259" fill-opacity="0.86" stroke="#fff" stroke-opacity="0.25" stroke-width="0.25"/><circle cx="109.9" cy="148.7" r="1.06" fill="#f7aa8c" fill-opacity="0.86" stroke="#fff" stroke-opacity="0.25" stroke-width="0.25"/><circle cx="158.2" cy="105.5" r="1.08" fill="#b40426" fill-opacity="0.86" stroke="#fff" stroke-opacity="0.25" stroke-width="0.25"/><circle cx="146.7" cy="117.6" r="1.00" fill="#c83836" fill-opacity="0.86" stroke="#fff" stroke-opacity="0.25" stroke-width="0.25"/><circle cx="129.0" cy="148.3" r="1.06" fill="#ef886b" fill-opacity="0.86" stroke="#fff" stroke-opacity="0.25" stroke-width="0.25"/><circle cx="127.2" cy="138.0" r="0.95" fill="#c53334" fill-opacity="0.86" stroke="#fff" stroke-opacity="0.25" stroke-width="0.25"/><circle cx="145.0" cy="121.7" r="1.05" fill="#d44e41" fill-opacity="0.86" stroke="#fff" stroke-opacity="0.25" stroke-width="0.25"/><circle cx="122.7" cy="150.6" r="1.24" fill="#f2cbb7" fill-opacity="0.86" stroke="#fff" stroke-opacity="0.25" stroke-width="0.25"/><circle cx="128.1" cy="130.0" r="1.04" fill="#b40426" fill-opacity="0.86" stroke="#fff" stroke-opacity="0.25" stroke-width="0.25"/><circle cx="106.5" cy="148.9" r="1.20" fill="#f7b194" fill-opacity="0.86" stroke="#fff" stroke-opacity="0.25" stroke-width="0.25"/><circle cx="145.3" cy="111.7" r="0.97" fill="#dd5f4b" fill-opacity="0.86" stroke="#fff" stroke-opacity="0.25" stroke-width="0.25"/><circle cx="159.7" cy="104.1" r="1.27" fill="#d95847" fill-opacity="0.86" stroke="#fff" stroke-opacity="0.25" stroke-width="0.25"/><circle cx="124.6" cy="132.9" r="1.11" fill="#b50927" fill-opacity="0.86" stroke="#fff" stroke-opacity="0.25" stroke-width="0.25"/><circle cx="116.9" cy="136.7" r="0.96" fill="#e0654f" fill-opacity="0.86" stroke="#fff" stroke-opacity="0.25" stroke-width="0.25"/><circle cx="163.5" cy="102.5" r="1.02" fill="#e36b54" fill-opacity="0.86" stroke="#fff" stroke-opacity="0.25" stroke-width="0.25"/><circle cx="118.9" cy="137.4" r="1.29" fill="#dd5f4b" fill-opacity="0.86" stroke="#fff" stroke-opacity="0.25" stroke-width="0.25"/><circle cx="121.5" cy="139.4" r="1.15" fill="#d65244" fill-opacity="0.86" stroke="#fff" stroke-opacity="0.25" stroke-width="0.25"/><circle cx="154.5" cy="114.2" r="1.19" fill="#ba162b" fill-opacity="0.86" stroke="#fff" stroke-opacity="0.25" stroke-width="0.25"/><circle cx="150.8" cy="118.7" r="1.12" fill="#b40426" fill-opacity="0.86" stroke="#fff" stroke-opacity="0.25" stroke-width="0.25"/><circle cx="152.8" cy="113.5" r="1.19" fill="#b50927" fill-opacity="0.86" stroke="#fff" stroke-opacity="0.25" stroke-width="0.25"/><circle cx="149.8" cy="111.9" r="1.04" fill="#b40426" fill-opacity="0.86" stroke="#fff" stroke-opacity="0.25" stroke-width="0.25"/><circle cx="170.7" cy="103.7" r="1.13" fill="#eb7d62" fill-opacity="0.86" stroke="#fff" stroke-opacity="0.25" stroke-width="0.25"/><circle cx="161.9" cy="94.6" r="0.99" fill="#e36c55" fill-opacity="0.86" stroke="#fff" stroke-opacity="0.25" stroke-width="0.25"/><circle cx="119.1" cy="143.2" r="0.97" fill="#e9785d" fill-opacity="0.86" stroke="#fff" stroke-opacity="0.25" stroke-width="0.25"/><circle cx="134.3" cy="125.0" r="1.17" fill="#b40426" fill-opacity="0.86" stroke="#fff" stroke-opacity="0.25" stroke-width="0.25"/><circle cx="141.5" cy="112.4" r="1.23" fill="#c0282f" fill-opacity="0.86" stroke="#fff" stroke-opacity="0.25" stroke-width="0.25"/><circle cx="124.9" cy="147.2" r="1.00" fill="#f29274" fill-opacity="0.86" stroke="#fff" stroke-opacity="0.25" stroke-width="0.25"/><circle cx="158.2" cy="111.8" r="1.05" fill="#de614d" fill-opacity="0.86" stroke="#fff" stroke-opacity="0.25" stroke-width="0.25"/><circle cx="129.4" cy="128.9" r="1.06" fill="#c83836" fill-opacity="0.86" stroke="#fff" stroke-opacity="0.25" stroke-width="0.25"/><circle cx="141.4" cy="128.3" r="1.25" fill="#c53334" fill-opacity="0.86" stroke="#fff" stroke-opacity="0.25" stroke-width="0.25"/><circle cx="129.6" cy="141.5" r="1.00" fill="#e46e56" fill-opacity="0.86" stroke="#fff" stroke-opacity="0.25" stroke-width="0.25"/><circle cx="120.5" cy="136.8" r="0.96" fill="#c53334" fill-opacity="0.86" stroke="#fff" stroke-opacity="0.25" stroke-width="0.25"/><circle cx="159.4" cy="115.4" r="1.05" fill="#ee8669" fill-opacity="0.86" stroke="#fff" stroke-opacity="0.25" stroke-width="0.25"/><circle cx="139.5" cy="122.7" r="0.99" fill="#b8122a" fill-opacity="0.86" stroke="#fff" stroke-opacity="0.25" stroke-width="0.25"/><circle cx="135.1" cy="127.2" r="1.16" fill="#c32e31" fill-opacity="0.86" stroke="#fff" stroke-opacity="0.25" stroke-width="0.25"/><circle cx="117.8" cy="139.1" r="1.08" fill="#df634e" fill-opacity="0.86" stroke="#fff" stroke-opacity="0.25" stroke-width="0.25"/><circle cx="140.9" cy="131.9" r="1.15" fill="#d44e41" fill-opacity="0.86" stroke="#fff" stroke-opacity="0.25" stroke-width="0.25"/><circle cx="135.0" cy="139.6" r="1.06" fill="#e0654f" fill-opacity="0.86" stroke="#fff" stroke-opacity="0.25" stroke-width="0.25"/><circle cx="112.9" cy="145.9" r="1.01" fill="#f6bda2" fill-opacity="0.86" stroke="#fff" stroke-opacity="0.25" stroke-width="0.25"/><circle cx="129.8" cy="135.5" r="1.06" fill="#cf453c" fill-opacity="0.86" stroke="#fff" stroke-opacity="0.25" stroke-width="0.25"/><circle cx="129.4" cy="137.9" r="1.15" fill="#eb7d62" fill-opacity="0.86" stroke="#fff" stroke-opacity="0.25" stroke-width="0.25"/><circle cx="167.6" cy="104.7" r="1.05" fill="#f6a385" fill-opacity="0.86" stroke="#fff" stroke-opacity="0.25" stroke-width="0.25"/><circle cx="173.6" cy="100.9" r="1.19" fill="#f3c8b2" fill-opacity="0.86" stroke="#fff" stroke-opacity="0.25" stroke-width="0.25"/><circle cx="118.3" cy="136.7" r="0.95" fill="#cf453c" fill-opacity="0.86" stroke="#fff" stroke-opacity="0.25" stroke-width="0.25"/><circle cx="157.1" cy="100.7" r="1.00" fill="#c12b30" fill-opacity="0.86" stroke="#fff" stroke-opacity="0.25" stroke-width="0.25"/><circle cx="131.1" cy="133.1" r="1.22" fill="#be242e" fill-opacity="0.86" stroke="#fff" stroke-opacity="0.25" stroke-width="0.25"/><circle cx="147.9" cy="107.8" r="1.18" fill="#b40426" fill-opacity="0.86" stroke="#fff" stroke-opacity="0.25" stroke-width="0.25"/><circle cx="156.8" cy="101.3" r="1.22" fill="#cc403a" fill-opacity="0.86" stroke="#fff" stroke-opacity="0.25" stroke-width="0.25"/><circle cx="142.0" cy="132.2" r="1.21" fill="#da5a49" fill-opacity="0.86" stroke="#fff" stroke-opacity="0.25" stroke-width="0.25"/><circle cx="150.0" cy="123.4" r="0.96" fill="#e57058" fill-opacity="0.86" stroke="#fff" stroke-opacity="0.25" stroke-width="0.25"/><circle cx="110.9" cy="144.3" r="1.29" fill="#f29072" fill-opacity="0.86" stroke="#fff" stroke-opacity="0.25" stroke-width="0.25"/><circle cx="140.4" cy="127.5" r="1.05" fill="#e9785d" fill-opacity="0.86" stroke="#fff" stroke-opacity="0.25" stroke-width="0.25"/><circle cx="150.1" cy="126.5" r="1.12" fill="#e36c55" fill-opacity="0.86" stroke="#fff" stroke-opacity="0.25" stroke-width="0.25"/><circle cx="118.5" cy="138.4" r="1.16" fill="#e46e56" fill-opacity="0.86" stroke="#fff" stroke-opacity="0.25" stroke-width="0.25"/><circle cx="155.9" cy="101.4" r="1.01" fill="#c12b30" fill-opacity="0.86" stroke="#fff" stroke-opacity="0.25" stroke-width="0.25"/><circle cx="142.5" cy="127.4" r="1.01" fill="#cf453c" fill-opacity="0.86" stroke="#fff" stroke-opacity="0.25" stroke-width="0.25"/><circle cx="160.2" cy="96.9" r="1.12" fill="#c32e31" fill-opacity="0.86" stroke="#fff" stroke-opacity="0.25" stroke-width="0.25"/><circle cx="143.0" cy="126.6" r="1.24" fill="#da5a49" fill-opacity="0.86" stroke="#fff" stroke-opacity="0.25" stroke-width="0.25"/><circle cx="155.1" cy="113.2" r="1.13" fill="#c83836" fill-opacity="0.86" stroke="#fff" stroke-opacity="0.25" stroke-width="0.25"/><circle cx="121.3" cy="138.3" r="1.28" fill="#e67259" fill-opacity="0.86" stroke="#fff" stroke-opacity="0.25" stroke-width="0.25"/><circle cx="175.1" cy="98.1" r="1.19" fill="#f7aa8c" fill-opacity="0.86" stroke="#fff" stroke-opacity="0.25" stroke-width="0.25"/><circle cx="156.4" cy="111.9" r="1.30" fill="#ba162b" fill-opacity="0.86" stroke="#fff" stroke-opacity="0.25" stroke-width="0.25"/><circle cx="160.9" cy="114.5" r="1.13" fill="#da5a49" fill-opacity="0.86" stroke="#fff" stroke-opacity="0.25" stroke-width="0.25"/><circle cx="134.6" cy="144.4" r="1.00" fill="#f39475" fill-opacity="0.86" stroke="#fff" stroke-opacity="0.25" stroke-width="0.25"/><circle cx="135.6" cy="133.4" r="1.12" fill="#e9785d" fill-opacity="0.86" stroke="#fff" stroke-opacity="0.25" stroke-width="0.25"/><circle cx="131.8" cy="143.3" r="1.09" fill="#f39577" fill-opacity="0.86" stroke="#fff" stroke-opacity="0.25" stroke-width="0.25"/><circle cx="118.7" cy="148.2" r="1.27" fill="#f18d6f" fill-opacity="0.86" stroke="#fff" stroke-opacity="0.25" stroke-width="0.25"/><circle cx="136.2" cy="121.4" r="1.29" fill="#c43032" fill-opacity="0.86" stroke="#fff" stroke-opacity="0.25" stroke-width="0.25"/><circle cx="153.8" cy="110.2" r="1.21" fill="#b40426" fill-opacity="0.86" stroke="#fff" stroke-opacity="0.25" stroke-width="0.25"/><circle cx="146.0" cy="113.4" r="1.17" fill="#b40426" fill-opacity="0.86" stroke="#fff" stroke-opacity="0.25" stroke-width="0.25"/><circle cx="148.4" cy="119.4" r="1.27" fill="#ca3b37" fill-opacity="0.86" stroke="#fff" stroke-opacity="0.25" stroke-width="0.25"/><circle cx="110.6" cy="147.8" r="1.23" fill="#f59d7e" fill-opacity="0.86" stroke="#fff" stroke-opacity="0.25" stroke-width="0.25"/><circle cx="156.7" cy="108.5" r="1.20" fill="#d55042" fill-opacity="0.86" stroke="#fff" stroke-opacity="0.25" stroke-width="0.25"/><circle cx="136.4" cy="121.2" r="1.03" fill="#b40426" fill-opacity="0.86" stroke="#fff" stroke-opacity="0.25" stroke-width="0.25"/><circle cx="141.7" cy="135.7" r="1.29" fill="#e57058" fill-opacity="0.86" stroke="#fff" stroke-opacity="0.25" stroke-width="0.25"/><circle cx="123.8" cy="140.4" r="1.14" fill="#df634e" fill-opacity="0.86" stroke="#fff" stroke-opacity="0.25" stroke-width="0.25"/><circle cx="116.7" cy="143.9" r="1.11" fill="#e7745b" fill-opacity="0.86" stroke="#fff" stroke-opacity="0.25" stroke-width="0.25"/><circle cx="153.8" cy="111.5" r="1.18" fill="#de614d" fill-opacity="0.86" stroke="#fff" stroke-opacity="0.25" stroke-width="0.25"/><circle cx="135.7" cy="121.9" r="1.27" fill="#b40426" fill-opacity="0.86" stroke="#fff" stroke-opacity="0.25" stroke-width="0.25"/><circle cx="122.9" cy="138.7" r="1.26" fill="#d75445" fill-opacity="0.86" stroke="#fff" stroke-opacity="0.25" stroke-width="0.25"/><circle cx="139.2" cy="133.3" r="1.26" fill="#e67259" fill-opacity="0.86" stroke="#fff" stroke-opacity="0.25" stroke-width="0.25"/><circle cx="163.0" cy="104.1" r="0.98" fill="#e36c55" fill-opacity="0.86" stroke="#fff" stroke-opacity="0.25" stroke-width="0.25"/><circle cx="175.7" cy="85.1" r="1.16" fill="#f7af91" fill-opacity="0.86" stroke="#fff" stroke-opacity="0.25" stroke-width="0.25"/><circle cx="145.2" cy="109.5" r="1.19" fill="#b40426" fill-opacity="0.86" stroke="#fff" stroke-opacity="0.25" stroke-width="0.25"/><circle cx="143.9" cy="125.2" r="1.03" fill="#d44e41" fill-opacity="0.86" stroke="#fff" stroke-opacity="0.25" stroke-width="0.25"/><circle cx="130.9" cy="130.8" r="1.06" fill="#cd423b" fill-opacity="0.86" stroke="#fff" stroke-opacity="0.25" stroke-width="0.25"/><circle cx="130.9" cy="143.0" r="1.15" fill="#eb7d62" fill-opacity="0.86" stroke="#fff" stroke-opacity="0.25" stroke-width="0.25"/><circle cx="150.5" cy="120.5" r="1.14" fill="#c32e31" fill-opacity="0.86" stroke="#fff" stroke-opacity="0.25" stroke-width="0.25"/><circle cx="161.9" cy="97.0" r="1.23" fill="#d75445" fill-opacity="0.86" stroke="#fff" stroke-opacity="0.25" stroke-width="0.25"/><circle cx="126.7" cy="138.3" r="0.96" fill="#c32e31" fill-opacity="0.86" stroke="#fff" stroke-opacity="0.25" stroke-width="0.25"/><circle cx="156.9" cy="100.5" r="1.30" fill="#bb1b2c" fill-opacity="0.86" stroke="#fff" stroke-opacity="0.25" stroke-width="0.25"/><circle cx="163.8" cy="112.6" r="1.24" fill="#f39577" fill-opacity="0.86" stroke="#fff" stroke-opacity="0.25" stroke-width="0.25"/><circle cx="169.8" cy="106.5" r="0.98" fill="#f7a889" fill-opacity="0.86" stroke="#fff" stroke-opacity="0.25" stroke-width="0.25"/><circle cx="137.9" cy="139.1" r="0.99" fill="#f29072" fill-opacity="0.86" stroke="#fff" stroke-opacity="0.25" stroke-width="0.25"/><circle cx="145.5" cy="131.6" r="1.28" fill="#f18f71" fill-opacity="0.86" stroke="#fff" stroke-opacity="0.25" stroke-width="0.25"/><circle cx="124.7" cy="148.5" r="1.22" fill="#f6a586" fill-opacity="0.86" stroke="#fff" stroke-opacity="0.25" stroke-width="0.25"/><circle cx="169.6" cy="105.6" r="1.22" fill="#f5c2aa" fill-opacity="0.86" stroke="#fff" stroke-opacity="0.25" stroke-width="0.25"/><circle cx="116.9" cy="138.8" r="1.17" fill="#b40426" fill-opacity="0.86" stroke="#fff" stroke-opacity="0.25" stroke-width="0.25"/><circle cx="173.5" cy="102.7" r="1.12" fill="#ecd3c5" fill-opacity="0.86" stroke="#fff" stroke-opacity="0.25" stroke-width="0.25"/><circle cx="128.0" cy="137.1" r="1.26" fill="#e16751" fill-opacity="0.86" stroke="#fff" stroke-opacity="0.25" stroke-width="0.25"/><circle cx="154.9" cy="103.7" r="1.18" fill="#b40426" fill-opacity="0.86" stroke="#fff" stroke-opacity="0.25" stroke-width="0.25"/><circle cx="148.0" cy="121.9" r="1.11" fill="#c73635" fill-opacity="0.86" stroke="#fff" stroke-opacity="0.25" stroke-width="0.25"/><circle cx="125.2" cy="143.2" r="0.96" fill="#ea7b60" fill-opacity="0.86" stroke="#fff" stroke-opacity="0.25" stroke-width="0.25"/><circle cx="146.6" cy="109.7" r="0.98" fill="#b40426" fill-opacity="0.86" stroke="#fff" stroke-opacity="0.25" stroke-width="0.25"/><circle cx="128.2" cy="139.0" r="1.07" fill="#cf453c" fill-opacity="0.86" stroke="#fff" stroke-opacity="0.25" stroke-width="0.25"/><circle cx="128.2" cy="133.6" r="1.26" fill="#b8122a" fill-opacity="0.86" stroke="#fff" stroke-opacity="0.25" stroke-width="0.25"/><circle cx="139.4" cy="119.9" r="1.23" fill="#b40426" fill-opacity="0.86" stroke="#fff" stroke-opacity="0.25" stroke-width="0.25"/><circle cx="124.6" cy="131.0" r="1.03" fill="#b40426" fill-opacity="0.86" stroke="#fff" stroke-opacity="0.25" stroke-width="0.25"/><circle cx="123.7" cy="142.3" r="1.10" fill="#bb1b2c" fill-opacity="0.86" stroke="#fff" stroke-opacity="0.25" stroke-width="0.25"/><circle cx="138.6" cy="142.3" r="1.09" fill="#f7b093" fill-opacity="0.86" stroke="#fff" stroke-opacity="0.25" stroke-width="0.25"/><circle cx="162.2" cy="103.6" r="1.05" fill="#e36c55" fill-opacity="0.86" stroke="#fff" stroke-opacity="0.25" stroke-width="0.25"/><circle cx="162.4" cy="100.7" r="1.25" fill="#d95847" fill-opacity="0.86" stroke="#fff" stroke-opacity="0.25" stroke-width="0.25"/><circle cx="146.2" cy="126.7" r="1.11" fill="#d95847" fill-opacity="0.86" stroke="#fff" stroke-opacity="0.25" stroke-width="0.25"/><circle cx="161.2" cy="100.3" r="1.12" fill="#ea7b60" fill-opacity="0.86" stroke="#fff" stroke-opacity="0.25" stroke-width="0.25"/><circle cx="155.2" cy="107.5" r="1.26" fill="#b70d28" fill-opacity="0.86" stroke="#fff" stroke-opacity="0.25" stroke-width="0.25"/><circle cx="150.4" cy="119.1" r="1.09" fill="#e8765c" fill-opacity="0.86" stroke="#fff" stroke-opacity="0.25" stroke-width="0.25"/><circle cx="151.8" cy="110.0" r="1.15" fill="#ca3b37" fill-opacity="0.86" stroke="#fff" stroke-opacity="0.25" stroke-width="0.25"/><circle cx="142.1" cy="133.9" r="1.12" fill="#eb7d62" fill-opacity="0.86" stroke="#fff" stroke-opacity="0.25" stroke-width="0.25"/><circle cx="142.3" cy="123.8" r="0.98" fill="#d0473d" fill-opacity="0.86" stroke="#fff" stroke-opacity="0.25" stroke-width="0.25"/><circle cx="122.7" cy="137.4" r="1.19" fill="#c53334" fill-opacity="0.86" stroke="#fff" stroke-opacity="0.25" stroke-width="0.25"/><circle cx="159.7" cy="105.6" r="0.98" fill="#b40426" fill-opacity="0.86" stroke="#fff" stroke-opacity="0.25" stroke-width="0.25"/><circle cx="175.7" cy="86.5" r="1.21" fill="#f7b093" fill-opacity="0.86" stroke="#fff" stroke-opacity="0.25" stroke-width="0.25"/><circle cx="163.6" cy="98.1" r="1.28" fill="#d95847" fill-opacity="0.86" stroke="#fff" stroke-opacity="0.25" stroke-width="0.25"/><circle cx="149.1" cy="122.8" r="1.12" fill="#d85646" fill-opacity="0.86" stroke="#fff" stroke-opacity="0.25" stroke-width="0.25"/><circle cx="149.6" cy="118.0" r="1.17" fill="#d55042" fill-opacity="0.86" stroke="#fff" stroke-opacity="0.25" stroke-width="0.25"/><circle cx="116.4" cy="146.6" r="1.22" fill="#d85646" fill-opacity="0.86" stroke="#fff" stroke-opacity="0.25" stroke-width="0.25"/><circle cx="154.4" cy="101.2" r="1.21" fill="#b40426" fill-opacity="0.86" stroke="#fff" stroke-opacity="0.25" stroke-width="0.25"/><circle cx="153.9" cy="118.4" r="1.09" fill="#d1493f" fill-opacity="0.86" stroke="#fff" stroke-opacity="0.25" stroke-width="0.25"/><circle cx="135.3" cy="123.6" r="1.17" fill="#b40426" fill-opacity="0.86" stroke="#fff" stroke-opacity="0.25" stroke-width="0.25"/><circle cx="159.1" cy="100.5" r="1.09" fill="#de614d" fill-opacity="0.86" stroke="#fff" stroke-opacity="0.25" stroke-width="0.25"/><circle cx="122.5" cy="146.8" r="1.02" fill="#cf453c" fill-opacity="0.86" stroke="#fff" stroke-opacity="0.25" stroke-width="0.25"/><circle cx="158.8" cy="104.9" r="1.04" fill="#dc5d4a" fill-opacity="0.86" stroke="#fff" stroke-opacity="0.25" stroke-width="0.25"/><circle cx="126.8" cy="133.4" r="1.25" fill="#c12b30" fill-opacity="0.86" stroke="#fff" stroke-opacity="0.25" stroke-width="0.25"/><circle cx="112.8" cy="149.2" r="1.08" fill="#f7b79b" fill-opacity="0.86" stroke="#fff" stroke-opacity="0.25" stroke-width="0.25"/><circle cx="165.5" cy="91.4" r="1.01" fill="#f39577" fill-opacity="0.86" stroke="#fff" stroke-opacity="0.25" stroke-width="0.25"/><circle cx="156.1" cy="102.3" r="1.00" fill="#c32e31" fill-opacity="0.86" stroke="#fff" stroke-opacity="0.25" stroke-width="0.25"/><circle cx="118.9" cy="138.5" r="1.22" fill="#cf453c" fill-opacity="0.86" stroke="#fff" stroke-opacity="0.25" stroke-width="0.25"/><circle cx="153.7" cy="124.0" r="1.21" fill="#f08b6e" fill-opacity="0.86" stroke="#fff" stroke-opacity="0.25" stroke-width="0.25"/><circle cx="153.2" cy="122.4" r="1.28" fill="#eb7d62" fill-opacity="0.86" stroke="#fff" stroke-opacity="0.25" stroke-width="0.25"/><circle cx="147.4" cy="112.3" r="0.97" fill="#b40426" fill-opacity="0.86" stroke="#fff" stroke-opacity="0.25" stroke-width="0.25"/><circle cx="136.1" cy="126.9" r="1.20" fill="#cf453c" fill-opacity="0.86" stroke="#fff" stroke-opacity="0.25" stroke-width="0.25"/><circle cx="161.3" cy="94.8" r="1.21" fill="#cc403a" fill-opacity="0.86" stroke="#fff" stroke-opacity="0.25" stroke-width="0.25"/><circle cx="160.4" cy="99.8" r="1.02" fill="#d1493f" fill-opacity="0.86" stroke="#fff" stroke-opacity="0.25" stroke-width="0.25"/><circle cx="137.9" cy="138.2" r="1.28" fill="#e67259" fill-opacity="0.86" stroke="#fff" stroke-opacity="0.25" stroke-width="0.25"/><circle cx="144.5" cy="114.8" r="1.18" fill="#b40426" fill-opacity="0.86" stroke="#fff" stroke-opacity="0.25" stroke-width="0.25"/><circle cx="147.4" cy="111.0" r="1.18" fill="#b40426" fill-opacity="0.86" stroke="#fff" stroke-opacity="0.25" stroke-width="0.25"/><circle cx="141.2" cy="123.5" r="1.04" fill="#c0282f" fill-opacity="0.86" stroke="#fff" stroke-opacity="0.25" stroke-width="0.25"/><circle cx="160.5" cy="113.2" r="1.18" fill="#e9785d" fill-opacity="0.86" stroke="#fff" stroke-opacity="0.25" stroke-width="0.25"/><circle cx="161.5" cy="109.6" r="1.30" fill="#ee8669" fill-opacity="0.86" stroke="#fff" stroke-opacity="0.25" stroke-width="0.25"/><circle cx="150.8" cy="124.5" r="1.06" fill="#e67259" fill-opacity="0.86" stroke="#fff" stroke-opacity="0.25" stroke-width="0.25"/><circle cx="129.2" cy="148.9" r="1.09" fill="#f7b194" fill-opacity="0.86" stroke="#fff" stroke-opacity="0.25" stroke-width="0.25"/><circle cx="136.2" cy="128.1" r="1.11" fill="#ca3b37" fill-opacity="0.86" stroke="#fff" stroke-opacity="0.25" stroke-width="0.25"/><circle cx="145.6" cy="119.5" r="1.23" fill="#b40426" fill-opacity="0.86" stroke="#fff" stroke-opacity="0.25" stroke-width="0.25"/><circle cx="139.0" cy="135.0" r="1.09" fill="#cf453c" fill-opacity="0.86" stroke="#fff" stroke-opacity="0.25" stroke-width="0.25"/><circle cx="137.7" cy="128.8" r="1.25" fill="#ca3b37" fill-opacity="0.86" stroke="#fff" stroke-opacity="0.25" stroke-width="0.25"/><circle cx="118.6" cy="148.2" r="0.97" fill="#f7b194" fill-opacity="0.86" stroke="#fff" stroke-opacity="0.25" stroke-width="0.25"/><circle cx="142.5" cy="133.0" r="1.09" fill="#e97a5f" fill-opacity="0.86" stroke="#fff" stroke-opacity="0.25" stroke-width="0.25"/><circle cx="174.0" cy="83.2" r="1.04" fill="#f7b194" fill-opacity="0.86" stroke="#fff" stroke-opacity="0.25" stroke-width="0.25"/><circle cx="136.5" cy="134.8" r="0.97" fill="#c53334" fill-opacity="0.86" stroke="#fff" stroke-opacity="0.25" stroke-width="0.25"/><circle cx="160.8" cy="115.4" r="1.07" fill="#f08a6c" fill-opacity="0.86" stroke="#fff" stroke-opacity="0.25" stroke-width="0.25"/><circle cx="126.6" cy="131.7" r="1.02" fill="#b40426" fill-opacity="0.86" stroke="#fff" stroke-opacity="0.25" stroke-width="0.25"/><circle cx="135.6" cy="124.7" r="1.05" fill="#b40426" fill-opacity="0.86" stroke="#fff" stroke-opacity="0.25" stroke-width="0.25"/><circle cx="151.1" cy="108.0" r="1.08" fill="#c43032" fill-opacity="0.86" stroke="#fff" stroke-opacity="0.25" stroke-width="0.25"/><circle cx="126.5" cy="133.5" r="1.01" fill="#ba162b" fill-opacity="0.86" stroke="#fff" stroke-opacity="0.25" stroke-width="0.25"/><circle cx="150.3" cy="124.4" r="0.98" fill="#ee8468" fill-opacity="0.86" stroke="#fff" stroke-opacity="0.25" stroke-width="0.25"/><circle cx="141.9" cy="130.9" r="1.29" fill="#d95847" fill-opacity="0.86" stroke="#fff" stroke-opacity="0.25" stroke-width="0.25"/><circle cx="124.2" cy="139.3" r="1.09" fill="#d55042" fill-opacity="0.86" stroke="#fff" stroke-opacity="0.25" stroke-width="0.25"/><circle cx="133.3" cy="141.0" r="0.96" fill="#d65244" fill-opacity="0.86" stroke="#fff" stroke-opacity="0.25" stroke-width="0.25"/><circle cx="128.0" cy="141.7" r="1.27" fill="#be242e" fill-opacity="0.86" stroke="#fff" stroke-opacity="0.25" stroke-width="0.25"/><circle cx="159.5" cy="119.0" r="0.98" fill="#f4987a" fill-opacity="0.86" stroke="#fff" stroke-opacity="0.25" stroke-width="0.25"/><circle cx="165.0" cy="100.5" r="1.15" fill="#e57058" fill-opacity="0.86" stroke="#fff" stroke-opacity="0.25" stroke-width="0.25"/><circle cx="121.1" cy="135.1" r="0.99" fill="#b40426" fill-opacity="0.86" stroke="#fff" stroke-opacity="0.25" stroke-width="0.25"/><circle cx="149.6" cy="125.1" r="1.11" fill="#e36c55" fill-opacity="0.86" stroke="#fff" stroke-opacity="0.25" stroke-width="0.25"/><circle cx="143.3" cy="112.4" r="1.18" fill="#b40426" fill-opacity="0.86" stroke="#fff" stroke-opacity="0.25" stroke-width="0.25"/><circle cx="158.5" cy="109.5" r="1.22" fill="#b40426" fill-opacity="0.86" stroke="#fff" stroke-opacity="0.25" stroke-width="0.25"/><circle cx="166.4" cy="94.6" r="1.24" fill="#f6a385" fill-opacity="0.86" stroke="#fff" stroke-opacity="0.25" stroke-width="0.25"/><circle cx="169.7" cy="100.4" r="1.15" fill="#f7bca1" fill-opacity="0.86" stroke="#fff" stroke-opacity="0.25" stroke-width="0.25"/><circle cx="137.2" cy="118.4" r="1.17" fill="#bd1f2d" fill-opacity="0.86" stroke="#fff" stroke-opacity="0.25" stroke-width="0.25"/><circle cx="120.6" cy="140.7" r="1.06" fill="#d55042" fill-opacity="0.86" stroke="#fff" stroke-opacity="0.25" stroke-width="0.25"/><circle cx="142.1" cy="122.0" r="1.10" fill="#bd1f2d" fill-opacity="0.86" stroke="#fff" stroke-opacity="0.25" stroke-width="0.25"/><circle cx="134.7" cy="127.4" r="1.08" fill="#c32e31" fill-opacity="0.86" stroke="#fff" stroke-opacity="0.25" stroke-width="0.25"/><circle cx="144.9" cy="117.2" r="0.95" fill="#b40426" fill-opacity="0.86" stroke="#fff" stroke-opacity="0.25" stroke-width="0.25"/><circle cx="137.1" cy="142.6" r="1.19" fill="#f39577" fill-opacity="0.86" stroke="#fff" stroke-opacity="0.25" stroke-width="0.25"/><circle cx="157.2" cy="111.9" r="0.97" fill="#c73635" fill-opacity="0.86" stroke="#fff" stroke-opacity="0.25" stroke-width="0.25"/><circle cx="151.6" cy="118.6" r="1.03" fill="#e0654f" fill-opacity="0.86" stroke="#fff" stroke-opacity="0.25" stroke-width="0.25"/><circle cx="141.3" cy="112.8" r="1.01" fill="#b40426" fill-opacity="0.86" stroke="#fff" stroke-opacity="0.25" stroke-width="0.25"/><circle cx="140.6" cy="128.8" r="1.01" fill="#cf453c" fill-opacity="0.86" stroke="#fff" stroke-opacity="0.25" stroke-width="0.25"/><circle cx="143.3" cy="130.5" r="1.13" fill="#e16751" fill-opacity="0.86" stroke="#fff" stroke-opacity="0.25" stroke-width="0.25"/><circle cx="167.2" cy="111.2" r="1.18" fill="#f18f71" fill-opacity="0.86" stroke="#fff" stroke-opacity="0.25" stroke-width="0.25"/><circle cx="157.4" cy="113.8" r="1.18" fill="#e9785d" fill-opacity="0.86" stroke="#fff" stroke-opacity="0.25" stroke-width="0.25"/><circle cx="140.4" cy="125.6" r="1.27" fill="#b50927" fill-opacity="0.86" stroke="#fff" stroke-opacity="0.25" stroke-width="0.25"/><circle cx="149.6" cy="116.8" r="1.01" fill="#d75445" fill-opacity="0.86" stroke="#fff" stroke-opacity="0.25" stroke-width="0.25"/><circle cx="132.2" cy="132.1" r="1.09" fill="#ba162b" fill-opacity="0.86" stroke="#fff" stroke-opacity="0.25" stroke-width="0.25"/><circle cx="160.5" cy="105.9" r="1.29" fill="#e67259" fill-opacity="0.86" stroke="#fff" stroke-opacity="0.25" stroke-width="0.25"/><circle cx="118.7" cy="144.2" r="1.22" fill="#e9785d" fill-opacity="0.86" stroke="#fff" stroke-opacity="0.25" stroke-width="0.25"/><circle cx="130.4" cy="133.6" r="1.26" fill="#cb3e38" fill-opacity="0.86" stroke="#fff" stroke-opacity="0.25" stroke-width="0.25"/><circle cx="120.1" cy="139.3" r="1.26" fill="#ca3b37" fill-opacity="0.86" stroke="#fff" stroke-opacity="0.25" stroke-width="0.25"/><circle cx="157.3" cy="108.8" r="0.98" fill="#c43032" fill-opacity="0.86" stroke="#fff" stroke-opacity="0.25" stroke-width="0.25"/><circle cx="131.4" cy="126.1" r="1.16" fill="#bd1f2d" fill-opacity="0.86" stroke="#fff" stroke-opacity="0.25" stroke-width="0.25"/><circle cx="135.3" cy="131.0" r="1.10" fill="#d95847" fill-opacity="0.86" stroke="#fff" stroke-opacity="0.25" stroke-width="0.25"/><circle cx="173.9" cy="87.2" r="1.21" fill="#f2c9b4" fill-opacity="0.86" stroke="#fff" stroke-opacity="0.25" stroke-width="0.25"/><circle cx="144.8" cy="114.4" r="1.15" fill="#c0282f" fill-opacity="0.86" stroke="#fff" stroke-opacity="0.25" stroke-width="0.25"/><circle cx="150.3" cy="107.7" r="1.18" fill="#c73635" fill-opacity="0.86" stroke="#fff" stroke-opacity="0.25" stroke-width="0.25"/><circle cx="158.4" cy="101.1" r="1.03" fill="#b50927" fill-opacity="0.86" stroke="#fff" stroke-opacity="0.25" stroke-width="0.25"/><circle cx="148.3" cy="122.3" r="1.29" fill="#f18f71" fill-opacity="0.86" stroke="#fff" stroke-opacity="0.25" stroke-width="0.25"/><circle cx="157.2" cy="115.2" r="1.25" fill="#ea7b60" fill-opacity="0.86" stroke="#fff" stroke-opacity="0.25" stroke-width="0.25"/><circle cx="159.9" cy="108.9" r="0.96" fill="#e0654f" fill-opacity="0.86" stroke="#fff" stroke-opacity="0.25" stroke-width="0.25"/><circle cx="159.1" cy="110.0" r="1.29" fill="#df634e" fill-opacity="0.86" stroke="#fff" stroke-opacity="0.25" stroke-width="0.25"/><circle cx="111.3" cy="149.0" r="1.09" fill="#f18f71" fill-opacity="0.86" stroke="#fff" stroke-opacity="0.25" stroke-width="0.25"/><circle cx="116.9" cy="147.3" r="1.14" fill="#f49a7b" fill-opacity="0.86" stroke="#fff" stroke-opacity="0.25" stroke-width="0.25"/><circle cx="154.9" cy="112.4" r="1.05" fill="#c43032" fill-opacity="0.86" stroke="#fff" stroke-opacity="0.25" stroke-width="0.25"/><circle cx="146.5" cy="119.8" r="1.08" fill="#b70d28" fill-opacity="0.86" stroke="#fff" stroke-opacity="0.25" stroke-width="0.25"/><circle cx="163.8" cy="105.6" r="1.26" fill="#e36b54" fill-opacity="0.86" stroke="#fff" stroke-opacity="0.25" stroke-width="0.25"/><circle cx="115.0" cy="143.5" r="1.07" fill="#ee8468" fill-opacity="0.86" stroke="#fff" stroke-opacity="0.25" stroke-width="0.25"/><circle cx="134.9" cy="135.6" r="1.09" fill="#f7a688" fill-opacity="0.86" stroke="#fff" stroke-opacity="0.25" stroke-width="0.25"/><circle cx="175.4" cy="82.2" r="1.25" fill="#f5c2aa" fill-opacity="0.86" stroke="#fff" stroke-opacity="0.25" stroke-width="0.25"/><circle cx="173.6" cy="89.8" r="1.01" fill="#f6bfa6" fill-opacity="0.86" stroke="#fff" stroke-opacity="0.25" stroke-width="0.25"/><circle cx="147.0" cy="111.7" r="0.99" fill="#b40426" fill-opacity="0.86" stroke="#fff" stroke-opacity="0.25" stroke-width="0.25"/><circle cx="166.5" cy="96.8" r="1.01" fill="#ec7f63" fill-opacity="0.86" stroke="#fff" stroke-opacity="0.25" stroke-width="0.25"/><circle cx="140.5" cy="123.7" r="1.05" fill="#b40426" fill-opacity="0.86" stroke="#fff" stroke-opacity="0.25" stroke-width="0.25"/><circle cx="132.3" cy="142.8" r="1.06" fill="#f18d6f" fill-opacity="0.86" stroke="#fff" stroke-opacity="0.25" stroke-width="0.25"/><circle cx="169.2" cy="89.6" r="1.07" fill="#ec8165" fill-opacity="0.86" stroke="#fff" stroke-opacity="0.25" stroke-width="0.25"/><circle cx="121.0" cy="136.1" r="1.10" fill="#c32e31" fill-opacity="0.86" stroke="#fff" stroke-opacity="0.25" stroke-width="0.25"/><circle cx="155.0" cy="118.4" r="1.24" fill="#d1493f" fill-opacity="0.86" stroke="#fff" stroke-opacity="0.25" stroke-width="0.25"/><circle cx="155.6" cy="117.9" r="1.04" fill="#d1493f" fill-opacity="0.86" stroke="#fff" stroke-opacity="0.25" stroke-width="0.25"/><circle cx="152.1" cy="103.4" r="1.27" fill="#c0282f" fill-opacity="0.86" stroke="#fff" stroke-opacity="0.25" stroke-width="0.25"/><circle cx="151.9" cy="103.3" r="1.12" fill="#b40426" fill-opacity="0.86" stroke="#fff" stroke-opacity="0.25" stroke-width="0.25"/><circle cx="171.4" cy="106.3" r="1.05" fill="#f3c8b2" fill-opacity="0.86" stroke="#fff" stroke-opacity="0.25" stroke-width="0.25"/><circle cx="160.3" cy="102.0" r="1.03" fill="#d55042" fill-opacity="0.86" stroke="#fff" stroke-opacity="0.25" stroke-width="0.25"/><circle cx="117.2" cy="146.1" r="1.13" fill="#f4987a" fill-opacity="0.86" stroke="#fff" stroke-opacity="0.25" stroke-width="0.25"/><circle cx="152.0" cy="120.2" r="0.98" fill="#df634e" fill-opacity="0.86" stroke="#fff" stroke-opacity="0.25" stroke-width="0.25"/><circle cx="164.7" cy="100.3" r="0.96" fill="#ee8468" fill-opacity="0.86" stroke="#fff" stroke-opacity="0.25" stroke-width="0.25"/><circle cx="139.2" cy="121.4" r="1.10" fill="#b40426" fill-opacity="0.86" stroke="#fff" stroke-opacity="0.25" stroke-width="0.25"/><circle cx="160.0" cy="105.2" r="1.03" fill="#cf453c" fill-opacity="0.86" stroke="#fff" stroke-opacity="0.25" stroke-width="0.25"/><circle cx="154.8" cy="104.1" r="1.27" fill="#b40426" fill-opacity="0.86" stroke="#fff" stroke-opacity="0.25" stroke-width="0.25"/><circle cx="142.5" cy="127.3" r="1.09" fill="#cf453c" fill-opacity="0.86" stroke="#fff" stroke-opacity="0.25" stroke-width="0.25"/><circle cx="125.2" cy="135.0" r="1.17" fill="#ba162b" fill-opacity="0.86" stroke="#fff" stroke-opacity="0.25" stroke-width="0.25"/><circle cx="162.6" cy="106.8" r="1.05" fill="#e57058" fill-opacity="0.86" stroke="#fff" stroke-opacity="0.25" stroke-width="0.25"/><circle cx="152.1" cy="120.0" r="0.98" fill="#cd423b" fill-opacity="0.86" stroke="#fff" stroke-opacity="0.25" stroke-width="0.25"/><circle cx="127.7" cy="133.6" r="0.96" fill="#bd1f2d" fill-opacity="0.86" stroke="#fff" stroke-opacity="0.25" stroke-width="0.25"/><circle cx="146.2" cy="131.2" r="1.10" fill="#ea7b60" fill-opacity="0.86" stroke="#fff" stroke-opacity="0.25" stroke-width="0.25"/><circle cx="122.7" cy="137.5" r="1.26" fill="#d1493f" fill-opacity="0.86" stroke="#fff" stroke-opacity="0.25" stroke-width="0.25"/><circle cx="173.3" cy="101.7" r="1.17" fill="#f5a081" fill-opacity="0.86" stroke="#fff" stroke-opacity="0.25" stroke-width="0.25"/><circle cx="149.1" cy="129.5" r="1.11" fill="#f29274" fill-opacity="0.86" stroke="#fff" stroke-opacity="0.25" stroke-width="0.25"/><circle cx="122.9" cy="145.3" r="1.11" fill="#f08a6c" fill-opacity="0.86" stroke="#fff" stroke-opacity="0.25" stroke-width="0.25"/><circle cx="134.1" cy="144.5" r="1.29" fill="#f59d7e" fill-opacity="0.86" stroke="#fff" stroke-opacity="0.25" stroke-width="0.25"/><circle cx="142.5" cy="123.4" r="1.27" fill="#d44e41" fill-opacity="0.86" stroke="#fff" stroke-opacity="0.25" stroke-width="0.25"/><circle cx="146.6" cy="121.9" r="1.11" fill="#de614d" fill-opacity="0.86" stroke="#fff" stroke-opacity="0.25" stroke-width="0.25"/><circle cx="171.7" cy="92.4" r="1.08" fill="#f7bca1" fill-opacity="0.86" stroke="#fff" stroke-opacity="0.25" stroke-width="0.25"/><circle cx="143.5" cy="123.5" r="0.98" fill="#dd5f4b" fill-opacity="0.86" stroke="#fff" stroke-opacity="0.25" stroke-width="0.25"/><circle cx="171.1" cy="96.8" r="1.30" fill="#f7a688" fill-opacity="0.86" stroke="#fff" stroke-opacity="0.25" stroke-width="0.25"/><circle cx="164.8" cy="113.2" r="0.97" fill="#f59d7e" fill-opacity="0.86" stroke="#fff" stroke-opacity="0.25" stroke-width="0.25"/><circle cx="122.9" cy="135.3" r="1.28" fill="#c83836" fill-opacity="0.86" stroke="#fff" stroke-opacity="0.25" stroke-width="0.25"/><circle cx="162.3" cy="113.9" r="1.30" fill="#ea7b60" fill-opacity="0.86" stroke="#fff" stroke-opacity="0.25" stroke-width="0.25"/><circle cx="122.3" cy="145.0" r="0.98" fill="#e0654f" fill-opacity="0.86" stroke="#fff" stroke-opacity="0.25" stroke-width="0.25"/><circle cx="154.8" cy="122.6" r="1.01" fill="#f59c7d" fill-opacity="0.86" stroke="#fff" stroke-opacity="0.25" stroke-width="0.25"/><circle cx="134.6" cy="134.1" r="1.11" fill="#e0654f" fill-opacity="0.86" stroke="#fff" stroke-opacity="0.25" stroke-width="0.25"/><circle cx="155.6" cy="101.7" r="1.04" fill="#b40426" fill-opacity="0.86" stroke="#fff" stroke-opacity="0.25" stroke-width="0.25"/><circle cx="140.4" cy="134.2" r="1.00" fill="#e97a5f" fill-opacity="0.86" stroke="#fff" stroke-opacity="0.25" stroke-width="0.25"/><circle cx="117.4" cy="148.6" r="0.99" fill="#f39577" fill-opacity="0.86" stroke="#fff" stroke-opacity="0.25" stroke-width="0.25"/><circle cx="162.1" cy="106.6" r="1.24" fill="#cd423b" fill-opacity="0.86" stroke="#fff" stroke-opacity="0.25" stroke-width="0.25"/><circle cx="134.8" cy="138.2" r="1.03" fill="#d85646" fill-opacity="0.86" stroke="#fff" stroke-opacity="0.25" stroke-width="0.25"/><circle cx="121.2" cy="148.3" r="1.14" fill="#f39778" fill-opacity="0.86" stroke="#fff" stroke-opacity="0.25" stroke-width="0.25"/><circle cx="163.8" cy="111.9" r="1.00" fill="#f5a081" fill-opacity="0.86" stroke="#fff" stroke-opacity="0.25" stroke-width="0.25"/><circle cx="159.0" cy="113.8" r="1.10" fill="#f6a385" fill-opacity="0.86" stroke="#fff" stroke-opacity="0.25" stroke-width="0.25"/><circle cx="109.0" cy="146.1" r="1.26" fill="#f18d6f" fill-opacity="0.86" stroke="#fff" stroke-opacity="0.25" stroke-width="0.25"/><circle cx="143.7" cy="112.0" r="1.05" fill="#cd423b" fill-opacity="0.86" stroke="#fff" stroke-opacity="0.25" stroke-width="0.25"/><circle cx="119.7" cy="132.4" r="1.15" fill="#b40426" fill-opacity="0.86" stroke="#fff" stroke-opacity="0.25" stroke-width="0.25"/><circle cx="141.2" cy="129.9" r="1.29" fill="#e0654f" fill-opacity="0.86" stroke="#fff" stroke-opacity="0.25" stroke-width="0.25"/><circle cx="155.0" cy="102.9" r="1.08" fill="#b40426" fill-opacity="0.86" stroke="#fff" stroke-opacity="0.25" stroke-width="0.25"/><circle cx="166.1" cy="104.5" r="1.04" fill="#f7b599" fill-opacity="0.86" stroke="#fff" stroke-opacity="0.25" stroke-width="0.25"/><circle cx="144.0" cy="129.5" r="1.15" fill="#d65244" fill-opacity="0.86" stroke="#fff" stroke-opacity="0.25" stroke-width="0.25"/><circle cx="128.5" cy="135.9" r="0.98" fill="#d0473d" fill-opacity="0.86" stroke="#fff" stroke-opacity="0.25" stroke-width="0.25"/><circle cx="121.7" cy="151.0" r="1.27" fill="#f6a283" fill-opacity="0.86" stroke="#fff" stroke-opacity="0.25" stroke-width="0.25"/><circle cx="139.3" cy="134.3" r="1.00" fill="#ef886b" fill-opacity="0.86" stroke="#fff" stroke-opacity="0.25" stroke-width="0.25"/><circle cx="153.0" cy="110.3" r="1.11" fill="#b8122a" fill-opacity="0.86" stroke="#fff" stroke-opacity="0.25" stroke-width="0.25"/><circle cx="121.0" cy="144.8" r="1.22" fill="#f18d6f" fill-opacity="0.86" stroke="#fff" stroke-opacity="0.25" stroke-width="0.25"/><circle cx="139.3" cy="121.4" r="1.14" fill="#b40426" fill-opacity="0.86" stroke="#fff" stroke-opacity="0.25" stroke-width="0.25"/><circle cx="164.3" cy="107.6" r="1.23" fill="#df634e" fill-opacity="0.86" stroke="#fff" stroke-opacity="0.25" stroke-width="0.25"/><circle cx="151.7" cy="121.4" r="1.06" fill="#d75445" fill-opacity="0.86" stroke="#fff" stroke-opacity="0.25" stroke-width="0.25"/><circle cx="154.4" cy="116.2" r="1.05" fill="#e57058" fill-opacity="0.86" stroke="#fff" stroke-opacity="0.25" stroke-width="0.25"/><circle cx="133.9" cy="145.2" r="0.97" fill="#f08b6e" fill-opacity="0.86" stroke="#fff" stroke-opacity="0.25" stroke-width="0.25"/><circle cx="162.3" cy="98.5" r="0.99" fill="#dd5f4b" fill-opacity="0.86" stroke="#fff" stroke-opacity="0.25" stroke-width="0.25"/><circle cx="141.5" cy="120.7" r="1.21" fill="#b40426" fill-opacity="0.86" stroke="#fff" stroke-opacity="0.25" stroke-width="0.25"/><circle cx="131.0" cy="144.9" r="1.21" fill="#e8765c" fill-opacity="0.86" stroke="#fff" stroke-opacity="0.25" stroke-width="0.25"/><circle cx="153.3" cy="112.6" r="1.05" fill="#d85646" fill-opacity="0.86" stroke="#fff" stroke-opacity="0.25" stroke-width="0.25"/><circle cx="143.6" cy="115.9" r="1.09" fill="#d24b40" fill-opacity="0.86" stroke="#fff" stroke-opacity="0.25" stroke-width="0.25"/><circle cx="158.1" cy="103.4" r="1.03" fill="#d75445" fill-opacity="0.86" stroke="#fff" stroke-opacity="0.25" stroke-width="0.25"/><circle cx="172.9" cy="89.0" r="1.05" fill="#f5c1a9" fill-opacity="0.86" stroke="#fff" stroke-opacity="0.25" stroke-width="0.25"/><circle cx="139.0" cy="126.2" r="1.20" fill="#d0473d" fill-opacity="0.86" stroke="#fff" stroke-opacity="0.25" stroke-width="0.25"/><circle cx="139.8" cy="126.1" r="1.24" fill="#c43032" fill-opacity="0.86" stroke="#fff" stroke-opacity="0.25" stroke-width="0.25"/><circle cx="133.0" cy="141.3" r="1.12" fill="#e67259" fill-opacity="0.86" stroke="#fff" stroke-opacity="0.25" stroke-width="0.25"/><circle cx="146.4" cy="116.6" r="1.06" fill="#b40426" fill-opacity="0.86" stroke="#fff" stroke-opacity="0.25" stroke-width="0.25"/><circle cx="151.7" cy="108.9" r="0.97" fill="#b50927" fill-opacity="0.86" stroke="#fff" stroke-opacity="0.25" stroke-width="0.25"/><circle cx="172.3" cy="90.9" r="1.28" fill="#efcfbf" fill-opacity="0.86" stroke="#fff" stroke-opacity="0.25" stroke-width="0.25"/><circle cx="116.6" cy="143.6" r="1.11" fill="#ec7f63" fill-opacity="0.86" stroke="#fff" stroke-opacity="0.25" stroke-width="0.25"/><circle cx="141.9" cy="115.8" r="1.03" fill="#b40426" fill-opacity="0.86" stroke="#fff" stroke-opacity="0.25" stroke-width="0.25"/><circle cx="171.1" cy="87.9" r="1.14" fill="#f4c5ad" fill-opacity="0.86" stroke="#fff" stroke-opacity="0.25" stroke-width="0.25"/><circle cx="167.4" cy="103.0" r="1.27" fill="#f7aa8c" fill-opacity="0.86" stroke="#fff" stroke-opacity="0.25" stroke-width="0.25"/><circle cx="154.9" cy="113.8" r="0.95" fill="#c83836" fill-opacity="0.86" stroke="#fff" stroke-opacity="0.25" stroke-width="0.25"/><circle cx="142.6" cy="128.1" r="1.18" fill="#d65244" fill-opacity="0.86" stroke="#fff" stroke-opacity="0.25" stroke-width="0.25"/><circle cx="121.8" cy="139.8" r="1.05" fill="#be242e" fill-opacity="0.86" stroke="#fff" stroke-opacity="0.25" stroke-width="0.25"/><circle cx="124.5" cy="150.9" r="0.98" fill="#f7b89c" fill-opacity="0.86" stroke="#fff" stroke-opacity="0.25" stroke-width="0.25"/><circle cx="136.3" cy="135.4" r="1.06" fill="#ca3b37" fill-opacity="0.86" stroke="#fff" stroke-opacity="0.25" stroke-width="0.25"/><circle cx="144.7" cy="121.8" r="1.14" fill="#b70d28" fill-opacity="0.86" stroke="#fff" stroke-opacity="0.25" stroke-width="0.25"/><circle cx="115.6" cy="148.0" r="0.96" fill="#f59d7e" fill-opacity="0.86" stroke="#fff" stroke-opacity="0.25" stroke-width="0.25"/><circle cx="123.8" cy="150.0" r="1.26" fill="#ea7b60" fill-opacity="0.86" stroke="#fff" stroke-opacity="0.25" stroke-width="0.25"/><circle cx="142.8" cy="133.8" r="1.18" fill="#f59f80" fill-opacity="0.86" stroke="#fff" stroke-opacity="0.25" stroke-width="0.25"/><circle cx="161.8" cy="107.9" r="1.21" fill="#d1493f" fill-opacity="0.86" stroke="#fff" stroke-opacity="0.25" stroke-width="0.25"/><circle cx="161.8" cy="111.3" r="1.05" fill="#e97a5f" fill-opacity="0.86" stroke="#fff" stroke-opacity="0.25" stroke-width="0.25"/><circle cx="118.9" cy="144.6" r="1.08" fill="#ea7b60" fill-opacity="0.86" stroke="#fff" stroke-opacity="0.25" stroke-width="0.25"/><circle cx="114.7" cy="142.4" r="1.04" fill="#df634e" fill-opacity="0.86" stroke="#fff" stroke-opacity="0.25" stroke-width="0.25"/><circle cx="135.3" cy="133.8" r="0.96" fill="#c32e31" fill-opacity="0.86" stroke="#fff" stroke-opacity="0.25" stroke-width="0.25"/><circle cx="125.2" cy="130.7" r="1.27" fill="#b40426" fill-opacity="0.86" stroke="#fff" stroke-opacity="0.25" stroke-width="0.25"/><circle cx="123.4" cy="146.2" r="1.16" fill="#f18f71" fill-opacity="0.86" stroke="#fff" stroke-opacity="0.25" stroke-width="0.25"/><circle cx="160.1" cy="108.7" r="1.13" fill="#d44e41" fill-opacity="0.86" stroke="#fff" stroke-opacity="0.25" stroke-width="0.25"/><circle cx="135.8" cy="143.3" r="1.06" fill="#ee8669" fill-opacity="0.86" stroke="#fff" stroke-opacity="0.25" stroke-width="0.25"/><circle cx="165.4" cy="109.0" r="1.26" fill="#f18d6f" fill-opacity="0.86" stroke="#fff" stroke-opacity="0.25" stroke-width="0.25"/><circle cx="147.4" cy="125.8" r="1.09" fill="#e67259" fill-opacity="0.86" stroke="#fff" stroke-opacity="0.25" stroke-width="0.25"/><circle cx="150.7" cy="122.5" r="1.02" fill="#df634e" fill-opacity="0.86" stroke="#fff" stroke-opacity="0.25" stroke-width="0.25"/><circle cx="133.1" cy="145.5" r="1.03" fill="#f7ba9f" fill-opacity="0.86" stroke="#fff" stroke-opacity="0.25" stroke-width="0.25"/><circle cx="111.7" cy="147.8" r="1.08" fill="#f39778" fill-opacity="0.86" stroke="#fff" stroke-opacity="0.25" stroke-width="0.25"/><circle cx="146.6" cy="115.0" r="0.97" fill="#c73635" fill-opacity="0.86" stroke="#fff" stroke-opacity="0.25" stroke-width="0.25"/><circle cx="148.9" cy="127.2" r="1.17" fill="#e7745b" fill-opacity="0.86" stroke="#fff" stroke-opacity="0.25" stroke-width="0.25"/><circle cx="165.3" cy="97.9" r="0.96" fill="#f59f80" fill-opacity="0.86" stroke="#fff" stroke-opacity="0.25" stroke-width="0.25"/><circle cx="127.4" cy="144.9" r="1.26" fill="#d75445" fill-opacity="0.86" stroke="#fff" stroke-opacity="0.25" stroke-width="0.25"/><circle cx="134.3" cy="144.3" r="1.25" fill="#f59d7e" fill-opacity="0.86" stroke="#fff" stroke-opacity="0.25" stroke-width="0.25"/><circle cx="137.4" cy="138.8" r="0.98" fill="#f59c7d" fill-opacity="0.86" stroke="#fff" stroke-opacity="0.25" stroke-width="0.25"/><circle cx="154.5" cy="100.9" r="0.97" fill="#b40426" fill-opacity="0.86" stroke="#fff" stroke-opacity="0.25" stroke-width="0.25"/><circle cx="128.7" cy="127.9" r="1.00" fill="#ba162b" fill-opacity="0.86" stroke="#fff" stroke-opacity="0.25" stroke-width="0.25"/><circle cx="126.3" cy="127.0" r="1.13" fill="#be242e" fill-opacity="0.86" stroke="#fff" stroke-opacity="0.25" stroke-width="0.25"/><circle cx="137.0" cy="120.3" r="1.30" fill="#b40426" fill-opacity="0.86" stroke="#fff" stroke-opacity="0.25" stroke-width="0.25"/><circle cx="119.2" cy="146.5" r="1.15" fill="#e36c55" fill-opacity="0.86" stroke="#fff" stroke-opacity="0.25" stroke-width="0.25"/><circle cx="162.3" cy="113.5" r="1.07" fill="#ef886b" fill-opacity="0.86" stroke="#fff" stroke-opacity="0.25" stroke-width="0.25"/><circle cx="156.7" cy="107.4" r="1.13" fill="#c83836" fill-opacity="0.86" stroke="#fff" stroke-opacity="0.25" stroke-width="0.25"/><circle cx="169.0" cy="99.5" r="1.15" fill="#f7ac8e" fill-opacity="0.86" stroke="#fff" stroke-opacity="0.25" stroke-width="0.25"/><circle cx="120.0" cy="136.0" r="1.06" fill="#b40426" fill-opacity="0.86" stroke="#fff" stroke-opacity="0.25" stroke-width="0.25"/><circle cx="107.9" cy="151.0" r="0.95" fill="#f7b093" fill-opacity="0.86" stroke="#fff" stroke-opacity="0.25" stroke-width="0.25"/><circle cx="161.5" cy="113.5" r="1.25" fill="#f4987a" fill-opacity="0.86" stroke="#fff" stroke-opacity="0.25" stroke-width="0.25"/><circle cx="153.6" cy="107.0" r="1.10" fill="#b40426" fill-opacity="0.86" stroke="#fff" stroke-opacity="0.25" stroke-width="0.25"/><circle cx="166.4" cy="102.4" r="1.00" fill="#ed8366" fill-opacity="0.86" stroke="#fff" stroke-opacity="0.25" stroke-width="0.25"/><circle cx="158.3" cy="114.5" r="1.23" fill="#c53334" fill-opacity="0.86" stroke="#fff" stroke-opacity="0.25" stroke-width="0.25"/><circle cx="161.2" cy="108.0" r="0.96" fill="#dd5f4b" fill-opacity="0.86" stroke="#fff" stroke-opacity="0.25" stroke-width="0.25"/><circle cx="146.6" cy="117.6" r="1.15" fill="#b40426" fill-opacity="0.86" stroke="#fff" stroke-opacity="0.25" stroke-width="0.25"/><circle cx="125.4" cy="140.2" r="1.25" fill="#e36b54" fill-opacity="0.86" stroke="#fff" stroke-opacity="0.25" stroke-width="0.25"/><circle cx="127.9" cy="138.3" r="1.02" fill="#cb3e38" fill-opacity="0.86" stroke="#fff" stroke-opacity="0.25" stroke-width="0.25"/><circle cx="147.5" cy="132.4" r="1.26" fill="#f7b093" fill-opacity="0.86" stroke="#fff" stroke-opacity="0.25" stroke-width="0.25"/><circle cx="163.4" cy="107.0" r="0.98" fill="#e26952" fill-opacity="0.86" stroke="#fff" stroke-opacity="0.25" stroke-width="0.25"/><circle cx="165.3" cy="108.1" r="0.98" fill="#f49a7b" fill-opacity="0.86" stroke="#fff" stroke-opacity="0.25" stroke-width="0.25"/><circle cx="132.6" cy="139.1" r="1.08" fill="#d55042" fill-opacity="0.86" stroke="#fff" stroke-opacity="0.25" stroke-width="0.25"/><circle cx="168.7" cy="104.6" r="1.20" fill="#f4987a" fill-opacity="0.86" stroke="#fff" stroke-opacity="0.25" stroke-width="0.25"/><circle cx="148.1" cy="117.3" r="1.06" fill="#e0654f" fill-opacity="0.86" stroke="#fff" stroke-opacity="0.25" stroke-width="0.25"/><circle cx="137.7" cy="123.9" r="1.08" fill="#b40426" fill-opacity="0.86" stroke="#fff" stroke-opacity="0.25" stroke-width="0.25"/><circle cx="165.3" cy="112.2" r="1.02" fill="#f4987a" fill-opacity="0.86" stroke="#fff" stroke-opacity="0.25" stroke-width="0.25"/><circle cx="172.6" cy="100.7" r="1.24" fill="#f7a889" fill-opacity="0.86" stroke="#fff" stroke-opacity="0.25" stroke-width="0.25"/><circle cx="126.9" cy="140.0" r="1.27" fill="#d65244" fill-opacity="0.86" stroke="#fff" stroke-opacity="0.25" stroke-width="0.25"/><circle cx="139.5" cy="127.6" r="1.00" fill="#c43032" fill-opacity="0.86" stroke="#fff" stroke-opacity="0.25" stroke-width="0.25"/><circle cx="130.3" cy="128.3" r="1.07" fill="#c43032" fill-opacity="0.86" stroke="#fff" stroke-opacity="0.25" stroke-width="0.25"/><circle cx="133.0" cy="119.7" r="1.01" fill="#b40426" fill-opacity="0.86" stroke="#fff" stroke-opacity="0.25" stroke-width="0.25"/><circle cx="152.4" cy="120.3" r="1.14" fill="#e26952" fill-opacity="0.86" stroke="#fff" stroke-opacity="0.25" stroke-width="0.25"/><circle cx="128.2" cy="128.3" r="1.20" fill="#c53334" fill-opacity="0.86" stroke="#fff" stroke-opacity="0.25" stroke-width="0.25"/><circle cx="122.0" cy="145.9" r="1.21" fill="#e0654f" fill-opacity="0.86" stroke="#fff" stroke-opacity="0.25" stroke-width="0.25"/><circle cx="157.2" cy="118.3" r="1.12" fill="#d24b40" fill-opacity="0.86" stroke="#fff" stroke-opacity="0.25" stroke-width="0.25"/><circle cx="145.3" cy="117.9" r="1.27" fill="#b40426" fill-opacity="0.86" stroke="#fff" stroke-opacity="0.25" stroke-width="0.25"/><circle cx="121.3" cy="149.2" r="1.18" fill="#f4987a" fill-opacity="0.86" stroke="#fff" stroke-opacity="0.25" stroke-width="0.25"/><circle cx="156.3" cy="111.6" r="1.06" fill="#e16751" fill-opacity="0.86" stroke="#fff" stroke-opacity="0.25" stroke-width="0.25"/><circle cx="163.6" cy="114.8" r="1.02" fill="#f7a98b" fill-opacity="0.86" stroke="#fff" stroke-opacity="0.25" stroke-width="0.25"/><circle cx="145.2" cy="121.6" r="0.98" fill="#be242e" fill-opacity="0.86" stroke="#fff" stroke-opacity="0.25" stroke-width="0.25"/><circle cx="164.7" cy="103.1" r="1.12" fill="#e8765c" fill-opacity="0.86" stroke="#fff" stroke-opacity="0.25" stroke-width="0.25"/><circle cx="145.0" cy="133.1" r="1.28" fill="#ec7f63" fill-opacity="0.86" stroke="#fff" stroke-opacity="0.25" stroke-width="0.25"/><circle cx="159.0" cy="112.7" r="1.21" fill="#d0473d" fill-opacity="0.86" stroke="#fff" stroke-opacity="0.25" stroke-width="0.25"/><circle cx="121.9" cy="149.9" r="1.07" fill="#f6a385" fill-opacity="0.86" stroke="#fff" stroke-opacity="0.25" stroke-width="0.25"/><circle cx="118.1" cy="150.9" r="1.09" fill="#f7a98b" fill-opacity="0.86" stroke="#fff" stroke-opacity="0.25" stroke-width="0.25"/><circle cx="130.3" cy="128.5" r="1.26" fill="#d75445" fill-opacity="0.86" stroke="#fff" stroke-opacity="0.25" stroke-width="0.25"/><circle cx="167.1" cy="95.7" r="1.11" fill="#f49a7b" fill-opacity="0.86" stroke="#fff" stroke-opacity="0.25" stroke-width="0.25"/><circle cx="170.9" cy="103.0" r="1.24" fill="#f7ad90" fill-opacity="0.86" stroke="#fff" stroke-opacity="0.25" stroke-width="0.25"/><circle cx="134.9" cy="122.0" r="1.16" fill="#c43032" fill-opacity="0.86" stroke="#fff" stroke-opacity="0.25" stroke-width="0.25"/><circle cx="169.4" cy="107.8" r="0.96" fill="#f7b194" fill-opacity="0.86" stroke="#fff" stroke-opacity="0.25" stroke-width="0.25"/><circle cx="135.3" cy="122.2" r="1.19" fill="#b8122a" fill-opacity="0.86" stroke="#fff" stroke-opacity="0.25" stroke-width="0.25"/><circle cx="150.3" cy="111.7" r="1.03" fill="#c0282f" fill-opacity="0.86" stroke="#fff" stroke-opacity="0.25" stroke-width="0.25"/><circle cx="143.9" cy="131.6" r="1.14" fill="#df634e" fill-opacity="0.86" stroke="#fff" stroke-opacity="0.25" stroke-width="0.25"/><circle cx="160.9" cy="112.9" r="1.15" fill="#e57058" fill-opacity="0.86" stroke="#fff" stroke-opacity="0.25" stroke-width="0.25"/><circle cx="148.7" cy="117.4" r="1.01" fill="#e67259" fill-opacity="0.86" stroke="#fff" stroke-opacity="0.25" stroke-width="0.25"/><circle cx="126.7" cy="146.5" r="1.16" fill="#ea7b60" fill-opacity="0.86" stroke="#fff" stroke-opacity="0.25" stroke-width="0.25"/><circle cx="153.8" cy="107.5" r="1.16" fill="#b40426" fill-opacity="0.86" stroke="#fff" stroke-opacity="0.25" stroke-width="0.25"/><circle cx="147.3" cy="122.2" r="1.27" fill="#d1493f" fill-opacity="0.86" stroke="#fff" stroke-opacity="0.25" stroke-width="0.25"/><circle cx="148.3" cy="123.2" r="1.20" fill="#ca3b37" fill-opacity="0.86" stroke="#fff" stroke-opacity="0.25" stroke-width="0.25"/><circle cx="149.9" cy="129.5" r="1.26" fill="#f7a889" fill-opacity="0.86" stroke="#fff" stroke-opacity="0.25" stroke-width="0.25"/><circle cx="153.6" cy="107.3" r="1.05" fill="#ca3b37" fill-opacity="0.86" stroke="#fff" stroke-opacity="0.25" stroke-width="0.25"/><circle cx="127.0" cy="136.5" r="1.00" fill="#c12b30" fill-opacity="0.86" stroke="#fff" stroke-opacity="0.25" stroke-width="0.25"/><circle cx="148.9" cy="113.8" r="1.16" fill="#b40426" fill-opacity="0.86" stroke="#fff" stroke-opacity="0.25" stroke-width="0.25"/><circle cx="164.9" cy="95.4" r="1.28" fill="#f18d6f" fill-opacity="0.86" stroke="#fff" stroke-opacity="0.25" stroke-width="0.25"/><circle cx="131.6" cy="128.0" r="1.00" fill="#b40426" fill-opacity="0.86" stroke="#fff" stroke-opacity="0.25" stroke-width="0.25"/><circle cx="149.0" cy="107.9" r="1.06" fill="#b40426" fill-opacity="0.86" stroke="#fff" stroke-opacity="0.25" stroke-width="0.25"/><circle cx="128.3" cy="143.9" r="1.03" fill="#d95847" fill-opacity="0.86" stroke="#fff" stroke-opacity="0.25" stroke-width="0.25"/><circle cx="127.9" cy="141.0" r="1.00" fill="#cb3e38" fill-opacity="0.86" stroke="#fff" stroke-opacity="0.25" stroke-width="0.25"/><circle cx="121.4" cy="135.1" r="1.02" fill="#ba162b" fill-opacity="0.86" stroke="#fff" stroke-opacity="0.25" stroke-width="0.25"/><circle cx="156.9" cy="100.5" r="1.05" fill="#b40426" fill-opacity="0.86" stroke="#fff" stroke-opacity="0.25" stroke-width="0.25"/><circle cx="135.4" cy="132.4" r="1.24" fill="#d55042" fill-opacity="0.86" stroke="#fff" stroke-opacity="0.25" stroke-width="0.25"/><circle cx="139.5" cy="127.3" r="1.21" fill="#c0282f" fill-opacity="0.86" stroke="#fff" stroke-opacity="0.25" stroke-width="0.25"/><circle cx="163.2" cy="101.6" r="1.13" fill="#e67259" fill-opacity="0.86" stroke="#fff" stroke-opacity="0.25" stroke-width="0.25"/><circle cx="127.4" cy="138.0" r="1.30" fill="#da5a49" fill-opacity="0.86" stroke="#fff" stroke-opacity="0.25" stroke-width="0.25"/><circle cx="131.3" cy="125.6" r="1.23" fill="#b40426" fill-opacity="0.86" stroke="#fff" stroke-opacity="0.25" stroke-width="0.25"/><circle cx="130.3" cy="129.7" r="1.06" fill="#c0282f" fill-opacity="0.86" stroke="#fff" stroke-opacity="0.25" stroke-width="0.25"/><circle cx="115.1" cy="144.6" r="1.25" fill="#ea7b60" fill-opacity="0.86" stroke="#fff" stroke-opacity="0.25" stroke-width="0.25"/><circle cx="158.4" cy="104.2" r="1.13" fill="#cd423b" fill-opacity="0.86" stroke="#fff" stroke-opacity="0.25" stroke-width="0.25"/><circle cx="168.3" cy="93.9" r="1.29" fill="#f39577" fill-opacity="0.86" stroke="#fff" stroke-opacity="0.25" stroke-width="0.25"/><circle cx="144.4" cy="127.4" r="0.96" fill="#c12b30" fill-opacity="0.86" stroke="#fff" stroke-opacity="0.25" stroke-width="0.25"/><circle cx="132.2" cy="132.7" r="1.06" fill="#d0473d" fill-opacity="0.86" stroke="#fff" stroke-opacity="0.25" stroke-width="0.25"/><circle cx="127.6" cy="127.5" r="1.28" fill="#c32e31" fill-opacity="0.86" stroke="#fff" stroke-opacity="0.25" stroke-width="0.25"/><circle cx="119.9" cy="149.2" r="1.08" fill="#f39577" fill-opacity="0.86" stroke="#fff" stroke-opacity="0.25" stroke-width="0.25"/><circle cx="144.3" cy="125.8" r="1.01" fill="#d65244" fill-opacity="0.86" stroke="#fff" stroke-opacity="0.25" stroke-width="0.25"/><circle cx="128.5" cy="124.2" r="1.17" fill="#be242e" fill-opacity="0.86" stroke="#fff" stroke-opacity="0.25" stroke-width="0.25"/><circle cx="157.2" cy="113.1" r="1.15" fill="#d75445" fill-opacity="0.86" stroke="#fff" stroke-opacity="0.25" stroke-width="0.25"/><circle cx="127.3" cy="131.3" r="1.03" fill="#dd5f4b" fill-opacity="0.86" stroke="#fff" stroke-opacity="0.25" stroke-width="0.25"/><circle cx="151.3" cy="109.9" r="1.05" fill="#b50927" fill-opacity="0.86" stroke="#fff" stroke-opacity="0.25" stroke-width="0.25"/><circle cx="135.3" cy="129.8" r="1.27" fill="#c73635" fill-opacity="0.86" stroke="#fff" stroke-opacity="0.25" stroke-width="0.25"/><circle cx="158.2" cy="107.7" r="1.12" fill="#cd423b" fill-opacity="0.86" stroke="#fff" stroke-opacity="0.25" stroke-width="0.25"/><circle cx="150.4" cy="120.8" r="1.22" fill="#b50927" fill-opacity="0.86" stroke="#fff" stroke-opacity="0.25" stroke-width="0.25"/><circle cx="126.7" cy="127.1" r="1.05" fill="#bb1b2c" fill-opacity="0.86" stroke="#fff" stroke-opacity="0.25" stroke-width="0.25"/><circle cx="112.3" cy="141.8" r="1.26" fill="#de614d" fill-opacity="0.86" stroke="#fff" stroke-opacity="0.25" stroke-width="0.25"/><circle cx="133.3" cy="144.2" r="1.23" fill="#f29072" fill-opacity="0.86" stroke="#fff" stroke-opacity="0.25" stroke-width="0.25"/><circle cx="170.4" cy="90.8" r="1.16" fill="#f7b093" fill-opacity="0.86" stroke="#fff" stroke-opacity="0.25" stroke-width="0.25"/><circle cx="122.4" cy="138.0" r="1.22" fill="#b40426" fill-opacity="0.86" stroke="#fff" stroke-opacity="0.25" stroke-width="0.25"/><circle cx="151.3" cy="105.2" r="1.02" fill="#c0282f" fill-opacity="0.86" stroke="#fff" stroke-opacity="0.25" stroke-width="0.25"/><circle cx="145.5" cy="118.2" r="1.16" fill="#c73635" fill-opacity="0.86" stroke="#fff" stroke-opacity="0.25" stroke-width="0.25"/><circle cx="115.9" cy="141.9" r="1.18" fill="#cb3e38" fill-opacity="0.86" stroke="#fff" stroke-opacity="0.25" stroke-width="0.25"/><circle cx="130.0" cy="133.7" r="1.09" fill="#ba162b" fill-opacity="0.86" stroke="#fff" stroke-opacity="0.25" stroke-width="0.25"/><circle cx="124.5" cy="141.2" r="1.08" fill="#e36c55" fill-opacity="0.86" stroke="#fff" stroke-opacity="0.25" stroke-width="0.25"/><circle cx="125.2" cy="146.8" r="1.29" fill="#e46e56" fill-opacity="0.86" stroke="#fff" stroke-opacity="0.25" stroke-width="0.25"/><circle cx="127.9" cy="145.6" r="1.09" fill="#ec7f63" fill-opacity="0.86" stroke="#fff" stroke-opacity="0.25" stroke-width="0.25"/><circle cx="153.7" cy="107.3" r="1.19" fill="#b40426" fill-opacity="0.86" stroke="#fff" stroke-opacity="0.25" stroke-width="0.25"/><circle cx="168.6" cy="105.6" r="0.98" fill="#ef886b" fill-opacity="0.86" stroke="#fff" stroke-opacity="0.25" stroke-width="0.25"/><circle cx="140.4" cy="128.9" r="1.18" fill="#dc5d4a" fill-opacity="0.86" stroke="#fff" stroke-opacity="0.25" stroke-width="0.25"/><circle cx="150.4" cy="109.3" r="0.99" fill="#b40426" fill-opacity="0.86" stroke="#fff" stroke-opacity="0.25" stroke-width="0.25"/><circle cx="163.1" cy="101.9" r="0.98" fill="#f18d6f" fill-opacity="0.86" stroke="#fff" stroke-opacity="0.25" stroke-width="0.25"/><circle cx="120.5" cy="143.4" r="0.97" fill="#da5a49" fill-opacity="0.86" stroke="#fff" stroke-opacity="0.25" stroke-width="0.25"/><circle cx="148.7" cy="124.9" r="0.96" fill="#da5a49" fill-opacity="0.86" stroke="#fff" stroke-opacity="0.25" stroke-width="0.25"/><circle cx="130.0" cy="144.7" r="0.95" fill="#ee8468" fill-opacity="0.86" stroke="#fff" stroke-opacity="0.25" stroke-width="0.25"/><circle cx="141.7" cy="119.6" r="1.23" fill="#b50927" fill-opacity="0.86" stroke="#fff" stroke-opacity="0.25" stroke-width="0.25"/><circle cx="174.6" cy="95.1" r="1.18" fill="#f4c6af" fill-opacity="0.86" stroke="#fff" stroke-opacity="0.25" stroke-width="0.25"/><circle cx="152.0" cy="105.9" r="0.96" fill="#b40426" fill-opacity="0.86" stroke="#fff" stroke-opacity="0.25" stroke-width="0.25"/><circle cx="141.6" cy="118.5" r="1.01" fill="#c12b30" fill-opacity="0.86" stroke="#fff" stroke-opacity="0.25" stroke-width="0.25"/><circle cx="141.2" cy="138.0" r="1.26" fill="#f49a7b" fill-opacity="0.86" stroke="#fff" stroke-opacity="0.25" stroke-width="0.25"/><circle cx="118.7" cy="139.7" r="1.20" fill="#b40426" fill-opacity="0.86" stroke="#fff" stroke-opacity="0.25" stroke-width="0.25"/><circle cx="145.0" cy="132.5" r="1.15" fill="#f18f71" fill-opacity="0.86" stroke="#fff" stroke-opacity="0.25" stroke-width="0.25"/><circle cx="137.6" cy="118.0" r="1.13" fill="#bb1b2c" fill-opacity="0.86" stroke="#fff" stroke-opacity="0.25" stroke-width="0.25"/><circle cx="122.2" cy="141.9" r="1.09" fill="#d65244" fill-opacity="0.86" stroke="#fff" stroke-opacity="0.25" stroke-width="0.25"/><circle cx="132.1" cy="138.2" r="1.09" fill="#e7745b" fill-opacity="0.86" stroke="#fff" stroke-opacity="0.25" stroke-width="0.25"/><circle cx="158.5" cy="119.1" r="1.04" fill="#e36c55" fill-opacity="0.86" stroke="#fff" stroke-opacity="0.25" stroke-width="0.25"/><circle cx="127.3" cy="137.0" r="1.02" fill="#c73635" fill-opacity="0.86" stroke="#fff" stroke-opacity="0.25" stroke-width="0.25"/><circle cx="171.9" cy="96.3" r="1.29" fill="#f7b497" fill-opacity="0.86" stroke="#fff" stroke-opacity="0.25" stroke-width="0.25"/><circle cx="111.7" cy="141.5" r="1.02" fill="#e46e56" fill-opacity="0.86" stroke="#fff" stroke-opacity="0.25" stroke-width="0.25"/><circle cx="173.5" cy="93.9" r="1.29" fill="#edd1c2" fill-opacity="0.86" stroke="#fff" stroke-opacity="0.25" stroke-width="0.25"/><circle cx="166.6" cy="105.6" r="1.11" fill="#e8765c" fill-opacity="0.86" stroke="#fff" stroke-opacity="0.25" stroke-width="0.25"/><circle cx="141.5" cy="123.5" r="1.27" fill="#d0473d" fill-opacity="0.86" stroke="#fff" stroke-opacity="0.25" stroke-width="0.25"/><circle cx="172.8" cy="87.5" r="1.03" fill="#f5c1a9" fill-opacity="0.86" stroke="#fff" stroke-opacity="0.25" stroke-width="0.25"/><circle cx="167.0" cy="93.5" r="1.29" fill="#e9785d" fill-opacity="0.86" stroke="#fff" stroke-opacity="0.25" stroke-width="0.25"/><circle cx="115.5" cy="146.5" r="1.14" fill="#de614d" fill-opacity="0.86" stroke="#fff" stroke-opacity="0.25" stroke-width="0.25"/><circle cx="168.7" cy="95.8" r="1.28" fill="#f7ac8e" fill-opacity="0.86" stroke="#fff" stroke-opacity="0.25" stroke-width="0.25"/><circle cx="132.2" cy="125.5" r="1.23" fill="#b40426" fill-opacity="0.86" stroke="#fff" stroke-opacity="0.25" stroke-width="0.25"/><circle cx="144.9" cy="113.8" r="0.99" fill="#bd1f2d" fill-opacity="0.86" stroke="#fff" stroke-opacity="0.25" stroke-width="0.25"/><circle cx="139.1" cy="134.5" r="1.14" fill="#e7745b" fill-opacity="0.86" stroke="#fff" stroke-opacity="0.25" stroke-width="0.25"/><circle cx="169.6" cy="102.6" r="1.00" fill="#f39475" fill-opacity="0.86" stroke="#fff" stroke-opacity="0.25" stroke-width="0.25"/><circle cx="142.4" cy="128.4" r="1.04" fill="#dd5f4b" fill-opacity="0.86" stroke="#fff" stroke-opacity="0.25" stroke-width="0.25"/><circle cx="163.4" cy="95.8" r="0.96" fill="#ea7b60" fill-opacity="0.86" stroke="#fff" stroke-opacity="0.25" stroke-width="0.25"/><circle cx="142.6" cy="129.0" r="1.10" fill="#e67259" fill-opacity="0.86" stroke="#fff" stroke-opacity="0.25" stroke-width="0.25"/><circle cx="129.0" cy="149.8" r="1.12" fill="#f6a283" fill-opacity="0.86" stroke="#fff" stroke-opacity="0.25" stroke-width="0.25"/><circle cx="133.6" cy="135.9" r="1.13" fill="#cd423b" fill-opacity="0.86" stroke="#fff" stroke-opacity="0.25" stroke-width="0.25"/><circle cx="104.9" cy="147.7" r="1.14" fill="#f7bca1" fill-opacity="0.86" stroke="#fff" stroke-opacity="0.25" stroke-width="0.25"/><circle cx="137.5" cy="131.5" r="1.00" fill="#d44e41" fill-opacity="0.86" stroke="#fff" stroke-opacity="0.25" stroke-width="0.25"/><circle cx="122.3" cy="146.2" r="1.08" fill="#e57058" fill-opacity="0.86" stroke="#fff" stroke-opacity="0.25" stroke-width="0.25"/><circle cx="148.9" cy="129.1" r="1.16" fill="#ec8165" fill-opacity="0.86" stroke="#fff" stroke-opacity="0.25" stroke-width="0.25"/><circle cx="156.2" cy="116.4" r="1.00" fill="#e46e56" fill-opacity="0.86" stroke="#fff" stroke-opacity="0.25" stroke-width="0.25"/><circle cx="157.3" cy="106.9" r="0.99" fill="#c73635" fill-opacity="0.86" stroke="#fff" stroke-opacity="0.25" stroke-width="0.25"/><circle cx="135.4" cy="134.1" r="1.23" fill="#d24b40" fill-opacity="0.86" stroke="#fff" stroke-opacity="0.25" stroke-width="0.25"/><circle cx="123.6" cy="145.0" r="1.29" fill="#f29274" fill-opacity="0.86" stroke="#fff" stroke-opacity="0.25" stroke-width="0.25"/><circle cx="156.7" cy="99.5" r="1.27" fill="#bb1b2c" fill-opacity="0.86" stroke="#fff" stroke-opacity="0.25" stroke-width="0.25"/><circle cx="125.8" cy="131.8" r="1.02" fill="#b40426" fill-opacity="0.86" stroke="#fff" stroke-opacity="0.25" stroke-width="0.25"/><circle cx="176.1" cy="87.9" r="1.14" fill="#f6bda2" fill-opacity="0.86" stroke="#fff" stroke-opacity="0.25" stroke-width="0.25"/><circle cx="146.7" cy="115.7" r="1.27" fill="#b40426" fill-opacity="0.86" stroke="#fff" stroke-opacity="0.25" stroke-width="0.25"/><circle cx="165.9" cy="105.0" r="1.22" fill="#e8765c" fill-opacity="0.86" stroke="#fff" stroke-opacity="0.25" stroke-width="0.25"/><circle cx="154.4" cy="111.6" r="1.12" fill="#c43032" fill-opacity="0.86" stroke="#fff" stroke-opacity="0.25" stroke-width="0.25"/><circle cx="164.0" cy="110.4" r="1.13" fill="#f7b599" fill-opacity="0.86" stroke="#fff" stroke-opacity="0.25" stroke-width="0.25"/><circle cx="127.6" cy="128.4" r="1.24" fill="#b8122a" fill-opacity="0.86" stroke="#fff" stroke-opacity="0.25" stroke-width="0.25"/><circle cx="159.6" cy="98.7" r="1.01" fill="#d24b40" fill-opacity="0.86" stroke="#fff" stroke-opacity="0.25" stroke-width="0.25"/><circle cx="146.1" cy="121.2" r="1.03" fill="#d0473d" fill-opacity="0.86" stroke="#fff" stroke-opacity="0.25" stroke-width="0.25"/><circle cx="114.7" cy="145.5" r="1.13" fill="#f4987a" fill-opacity="0.86" stroke="#fff" stroke-opacity="0.25" stroke-width="0.25"/><circle cx="158.3" cy="106.6" r="0.99" fill="#b40426" fill-opacity="0.86" stroke="#fff" stroke-opacity="0.25" stroke-width="0.25"/><circle cx="119.1" cy="146.4" r="1.25" fill="#f59f80" fill-opacity="0.86" stroke="#fff" stroke-opacity="0.25" stroke-width="0.25"/><circle cx="136.9" cy="139.0" r="1.12" fill="#e36c55" fill-opacity="0.86" stroke="#fff" stroke-opacity="0.25" stroke-width="0.25"/><circle cx="132.4" cy="131.3" r="1.29" fill="#cd423b" fill-opacity="0.86" stroke="#fff" stroke-opacity="0.25" stroke-width="0.25"/><circle cx="158.6" cy="105.8" r="1.00" fill="#c43032" fill-opacity="0.86" stroke="#fff" stroke-opacity="0.25" stroke-width="0.25"/><circle cx="148.4" cy="113.9" r="1.27" fill="#b40426" fill-opacity="0.86" stroke="#fff" stroke-opacity="0.25" stroke-width="0.25"/><circle cx="122.0" cy="145.4" r="1.19" fill="#e97a5f" fill-opacity="0.86" stroke="#fff" stroke-opacity="0.25" stroke-width="0.25"/><circle cx="135.6" cy="117.9" r="1.11" fill="#c43032" fill-opacity="0.86" stroke="#fff" stroke-opacity="0.25" stroke-width="0.25"/><circle cx="159.8" cy="103.4" r="1.10" fill="#cc403a" fill-opacity="0.86" stroke="#fff" stroke-opacity="0.25" stroke-width="0.25"/><circle cx="138.3" cy="127.9" r="1.00" fill="#e0654f" fill-opacity="0.86" stroke="#fff" stroke-opacity="0.25" stroke-width="0.25"/><circle cx="135.8" cy="143.4" r="1.30" fill="#f5a081" fill-opacity="0.86" stroke="#fff" stroke-opacity="0.25" stroke-width="0.25"/><circle cx="133.7" cy="138.1" r="1.27" fill="#e16751" fill-opacity="0.86" stroke="#fff" stroke-opacity="0.25" stroke-width="0.25"/><circle cx="155.6" cy="119.7" r="1.18" fill="#ee8468" fill-opacity="0.86" stroke="#fff" stroke-opacity="0.25" stroke-width="0.25"/><circle cx="133.5" cy="138.8" r="1.17" fill="#e57058" fill-opacity="0.86" stroke="#fff" stroke-opacity="0.25" stroke-width="0.25"/><circle cx="139.0" cy="131.7" r="1.00" fill="#d75445" fill-opacity="0.86" stroke="#fff" stroke-opacity="0.25" stroke-width="0.25"/><circle cx="109.7" cy="148.0" r="1.09" fill="#f59c7d" fill-opacity="0.86" stroke="#fff" stroke-opacity="0.25" stroke-width="0.25"/><circle cx="166.4" cy="101.4" r="1.01" fill="#f6a586" fill-opacity="0.86" stroke="#fff" stroke-opacity="0.25" stroke-width="0.25"/><circle cx="131.9" cy="121.6" r="1.27" fill="#b40426" fill-opacity="0.86" stroke="#fff" stroke-opacity="0.25" stroke-width="0.25"/><circle cx="147.5" cy="119.0" r="1.00" fill="#b70d28" fill-opacity="0.86" stroke="#fff" stroke-opacity="0.25" stroke-width="0.25"/><circle cx="133.5" cy="140.8" r="1.25" fill="#e16751" fill-opacity="0.86" stroke="#fff" stroke-opacity="0.25" stroke-width="0.25"/><circle cx="132.6" cy="134.9" r="1.22" fill="#e97a5f" fill-opacity="0.86" stroke="#fff" stroke-opacity="0.25" stroke-width="0.25"/><circle cx="142.2" cy="136.4" r="1.09" fill="#f29072" fill-opacity="0.86" stroke="#fff" stroke-opacity="0.25" stroke-width="0.25"/><circle cx="133.5" cy="141.2" r="1.18" fill="#f08b6e" fill-opacity="0.86" stroke="#fff" stroke-opacity="0.25" stroke-width="0.25"/><circle cx="114.8" cy="141.2" r="0.98" fill="#e36c55" fill-opacity="0.86" stroke="#fff" stroke-opacity="0.25" stroke-width="0.25"/><circle cx="134.6" cy="130.2" r="0.97" fill="#ba162b" fill-opacity="0.86" stroke="#fff" stroke-opacity="0.25" stroke-width="0.25"/><circle cx="164.2" cy="102.5" r="0.95" fill="#e36c55" fill-opacity="0.86" stroke="#fff" stroke-opacity="0.25" stroke-width="0.25"/><circle cx="152.7" cy="104.9" r="1.11" fill="#b40426" fill-opacity="0.86" stroke="#fff" stroke-opacity="0.25" stroke-width="0.25"/><circle cx="121.8" cy="143.0" r="1.15" fill="#ee8669" fill-opacity="0.86" stroke="#fff" stroke-opacity="0.25" stroke-width="0.25"/><circle cx="164.4" cy="108.7" r="1.30" fill="#eb7d62" fill-opacity="0.86" stroke="#fff" stroke-opacity="0.25" stroke-width="0.25"/><circle cx="130.7" cy="143.8" r="0.99" fill="#e36b54" fill-opacity="0.86" stroke="#fff" stroke-opacity="0.25" stroke-width="0.25"/><circle cx="164.9" cy="107.5" r="1.16" fill="#e9785d" fill-opacity="0.86" stroke="#fff" stroke-opacity="0.25" stroke-width="0.25"/><circle cx="126.4" cy="146.6" r="1.28" fill="#f59c7d" fill-opacity="0.86" stroke="#fff" stroke-opacity="0.25" stroke-width="0.25"/><circle cx="110.1" cy="143.3" r="0.98" fill="#e57058" fill-opacity="0.86" stroke="#fff" stroke-opacity="0.25" stroke-width="0.25"/><circle cx="163.2" cy="103.9" r="1.20" fill="#e67259" fill-opacity="0.86" stroke="#fff" stroke-opacity="0.25" stroke-width="0.25"/><circle cx="131.1" cy="143.3" r="1.26" fill="#e97a5f" fill-opacity="0.86" stroke="#fff" stroke-opacity="0.25" stroke-width="0.25"/><circle cx="152.9" cy="102.9" r="1.22" fill="#b40426" fill-opacity="0.86" stroke="#fff" stroke-opacity="0.25" stroke-width="0.25"/><circle cx="134.5" cy="125.0" r="1.15" fill="#b8122a" fill-opacity="0.86" stroke="#fff" stroke-opacity="0.25" stroke-width="0.25"/><circle cx="138.5" cy="124.4" r="1.09" fill="#d55042" fill-opacity="0.86" stroke="#fff" stroke-opacity="0.25" stroke-width="0.25"/><circle cx="123.8" cy="133.3" r="1.11" fill="#c0282f" fill-opacity="0.86" stroke="#fff" stroke-opacity="0.25" stroke-width="0.25"/><circle cx="145.3" cy="125.2" r="1.12" fill="#d24b40" fill-opacity="0.86" stroke="#fff" stroke-opacity="0.25" stroke-width="0.25"/><circle cx="163.2" cy="102.4" r="0.96" fill="#e46e56" fill-opacity="0.86" stroke="#fff" stroke-opacity="0.25" stroke-width="0.25"/><circle cx="154.6" cy="102.6" r="1.19" fill="#b40426" fill-opacity="0.86" stroke="#fff" stroke-opacity="0.25" stroke-width="0.25"/><circle cx="156.3" cy="119.8" r="1.25" fill="#e7745b" fill-opacity="0.86" stroke="#fff" stroke-opacity="0.25" stroke-width="0.25"/><circle cx="130.4" cy="139.8" r="1.23" fill="#b40426" fill-opacity="0.86" stroke="#fff" stroke-opacity="0.25" stroke-width="0.25"/><circle cx="157.4" cy="109.6" r="0.99" fill="#d24b40" fill-opacity="0.86" stroke="#fff" stroke-opacity="0.25" stroke-width="0.25"/><circle cx="163.7" cy="100.2" r="1.03" fill="#e7745b" fill-opacity="0.86" stroke="#fff" stroke-opacity="0.25" stroke-width="0.25"/><circle cx="147.1" cy="122.4" r="1.02" fill="#c73635" fill-opacity="0.86" stroke="#fff" stroke-opacity="0.25" stroke-width="0.25"/><circle cx="134.5" cy="133.2" r="1.17" fill="#d24b40" fill-opacity="0.86" stroke="#fff" stroke-opacity="0.25" stroke-width="0.25"/><circle cx="167.1" cy="89.8" r="0.99" fill="#f7b99e" fill-opacity="0.86" stroke="#fff" stroke-opacity="0.25" stroke-width="0.25"/><circle cx="156.0" cy="108.3" r="1.26" fill="#b40426" fill-opacity="0.86" stroke="#fff" stroke-opacity="0.25" stroke-width="0.25"/><circle cx="136.8" cy="134.1" r="0.95" fill="#e8765c" fill-opacity="0.86" stroke="#fff" stroke-opacity="0.25" stroke-width="0.25"/><circle cx="136.6" cy="133.0" r="1.01" fill="#d65244" fill-opacity="0.86" stroke="#fff" stroke-opacity="0.25" stroke-width="0.25"/><circle cx="159.5" cy="114.5" r="1.28" fill="#e8765c" fill-opacity="0.86" stroke="#fff" stroke-opacity="0.25" stroke-width="0.25"/><circle cx="119.5" cy="141.2" r="1.12" fill="#c0282f" fill-opacity="0.86" stroke="#fff" stroke-opacity="0.25" stroke-width="0.25"/><circle cx="146.4" cy="132.7" r="1.11" fill="#f39577" fill-opacity="0.86" stroke="#fff" stroke-opacity="0.25" stroke-width="0.25"/><circle cx="147.7" cy="122.4" r="1.02" fill="#cc403a" fill-opacity="0.86" stroke="#fff" stroke-opacity="0.25" stroke-width="0.25"/><circle cx="134.2" cy="138.6" r="1.16" fill="#e57058" fill-opacity="0.86" stroke="#fff" stroke-opacity="0.25" stroke-width="0.25"/><circle cx="157.6" cy="107.6" r="1.25" fill="#d44e41" fill-opacity="0.86" stroke="#fff" stroke-opacity="0.25" stroke-width="0.25"/><circle cx="130.7" cy="140.1" r="1.21" fill="#e97a5f" fill-opacity="0.86" stroke="#fff" stroke-opacity="0.25" stroke-width="0.25"/><circle cx="162.1" cy="95.3" r="1.26" fill="#d95847" fill-opacity="0.86" stroke="#fff" stroke-opacity="0.25" stroke-width="0.25"/><circle cx="126.5" cy="150.8" r="1.18" fill="#f4987a" fill-opacity="0.86" stroke="#fff" stroke-opacity="0.25" stroke-width="0.25"/><circle cx="147.5" cy="109.3" r="1.08" fill="#b40426" fill-opacity="0.86" stroke="#fff" stroke-opacity="0.25" stroke-width="0.25"/><circle cx="154.4" cy="109.4" r="0.96" fill="#cf453c" fill-opacity="0.86" stroke="#fff" stroke-opacity="0.25" stroke-width="0.25"/><circle cx="152.4" cy="112.9" r="1.30" fill="#b40426" fill-opacity="0.86" stroke="#fff" stroke-opacity="0.25" stroke-width="0.25"/><circle cx="134.5" cy="132.8" r="1.14" fill="#e36c55" fill-opacity="0.86" stroke="#fff" stroke-opacity="0.25" stroke-width="0.25"/><circle cx="169.0" cy="105.4" r="1.29" fill="#f29072" fill-opacity="0.86" stroke="#fff" stroke-opacity="0.25" stroke-width="0.25"/><circle cx="116.0" cy="149.8" r="1.11" fill="#f6a385" fill-opacity="0.86" stroke="#fff" stroke-opacity="0.25" stroke-width="0.25"/><circle cx="159.5" cy="114.0" r="1.16" fill="#dc5d4a" fill-opacity="0.86" stroke="#fff" stroke-opacity="0.25" stroke-width="0.25"/><circle cx="175.2" cy="100.3" r="1.21" fill="#f5c2aa" fill-opacity="0.86" stroke="#fff" stroke-opacity="0.25" stroke-width="0.25"/><circle cx="151.0" cy="127.0" r="1.06" fill="#f18d6f" fill-opacity="0.86" stroke="#fff" stroke-opacity="0.25" stroke-width="0.25"/><circle cx="118.9" cy="146.4" r="1.20" fill="#f59f80" fill-opacity="0.86" stroke="#fff" stroke-opacity="0.25" stroke-width="0.25"/><circle cx="128.8" cy="141.8" r="1.14" fill="#df634e" fill-opacity="0.86" stroke="#fff" stroke-opacity="0.25" stroke-width="0.25"/><circle cx="142.4" cy="111.8" r="0.95" fill="#b40426" fill-opacity="0.86" stroke="#fff" stroke-opacity="0.25" stroke-width="0.25"/><circle cx="136.6" cy="124.7" r="1.29" fill="#ca3b37" fill-opacity="0.86" stroke="#fff" stroke-opacity="0.25" stroke-width="0.25"/><circle cx="144.6" cy="118.2" r="1.29" fill="#d1493f" fill-opacity="0.86" stroke="#fff" stroke-opacity="0.25" stroke-width="0.25"/><circle cx="150.7" cy="124.0" r="1.01" fill="#e97a5f" fill-opacity="0.86" stroke="#fff" stroke-opacity="0.25" stroke-width="0.25"/><circle cx="126.6" cy="140.6" r="1.28" fill="#cd423b" fill-opacity="0.86" stroke="#fff" stroke-opacity="0.25" stroke-width="0.25"/><circle cx="158.4" cy="114.1" r="1.18" fill="#cb3e38" fill-opacity="0.86" stroke="#fff" stroke-opacity="0.25" stroke-width="0.25"/><circle cx="131.6" cy="130.8" r="1.18" fill="#c32e31" fill-opacity="0.86" stroke="#fff" stroke-opacity="0.25" stroke-width="0.25"/><circle cx="155.7" cy="110.1" r="1.18" fill="#c43032" fill-opacity="0.86" stroke="#fff" stroke-opacity="0.25" stroke-width="0.25"/><circle cx="167.2" cy="111.5" r="1.14" fill="#f18f71" fill-opacity="0.86" stroke="#fff" stroke-opacity="0.25" stroke-width="0.25"/><circle cx="110.6" cy="140.1" r="0.99" fill="#dd5f4b" fill-opacity="0.86" stroke="#fff" stroke-opacity="0.25" stroke-width="0.25"/><circle cx="142.0" cy="123.2" r="1.21" fill="#ca3b37" fill-opacity="0.86" stroke="#fff" stroke-opacity="0.25" stroke-width="0.25"/><circle cx="143.3" cy="117.0" r="1.00" fill="#b40426" fill-opacity="0.86" stroke="#fff" stroke-opacity="0.25" stroke-width="0.25"/><circle cx="108.7" cy="144.5" r="1.06" fill="#f7b093" fill-opacity="0.86" stroke="#fff" stroke-opacity="0.25" stroke-width="0.25"/><circle cx="167.5" cy="97.7" r="1.02" fill="#f29274" fill-opacity="0.86" stroke="#fff" stroke-opacity="0.25" stroke-width="0.25"/><circle cx="123.5" cy="136.8" r="0.95" fill="#b40426" fill-opacity="0.86" stroke="#fff" stroke-opacity="0.25" stroke-width="0.25"/><circle cx="162.9" cy="112.9" r="1.28" fill="#e67259" fill-opacity="0.86" stroke="#fff" stroke-opacity="0.25" stroke-width="0.25"/><circle cx="159.6" cy="114.0" r="1.06" fill="#d24b40" fill-opacity="0.86" stroke="#fff" stroke-opacity="0.25" stroke-width="0.25"/><circle cx="148.9" cy="121.7" r="1.01" fill="#ca3b37" fill-opacity="0.86" stroke="#fff" stroke-opacity="0.25" stroke-width="0.25"/><circle cx="157.0" cy="122.2" r="0.95" fill="#ea7b60" fill-opacity="0.86" stroke="#fff" stroke-opacity="0.25" stroke-width="0.25"/><circle cx="115.2" cy="148.2" r="0.99" fill="#f7ad90" fill-opacity="0.86" stroke="#fff" stroke-opacity="0.25" stroke-width="0.25"/><circle cx="134.3" cy="137.1" r="0.98" fill="#e7745b" fill-opacity="0.86" stroke="#fff" stroke-opacity="0.25" stroke-width="0.25"/><circle cx="154.8" cy="102.0" r="1.08" fill="#b50927" fill-opacity="0.86" stroke="#fff" stroke-opacity="0.25" stroke-width="0.25"/><circle cx="154.9" cy="106.7" r="1.26" fill="#be242e" fill-opacity="0.86" stroke="#fff" stroke-opacity="0.25" stroke-width="0.25"/><circle cx="173.3" cy="93.3" r="1.16" fill="#f5c1a9" fill-opacity="0.86" stroke="#fff" stroke-opacity="0.25" stroke-width="0.25"/><circle cx="145.8" cy="110.4" r="1.00" fill="#b40426" fill-opacity="0.86" stroke="#fff" stroke-opacity="0.25" stroke-width="0.25"/><circle cx="172.2" cy="99.9" r="1.10" fill="#f29274" fill-opacity="0.86" stroke="#fff" stroke-opacity="0.25" stroke-width="0.25"/><circle cx="140.8" cy="130.2" r="1.09" fill="#cd423b" fill-opacity="0.86" stroke="#fff" stroke-opacity="0.25" stroke-width="0.25"/><circle cx="168.2" cy="89.4" r="1.07" fill="#f49a7b" fill-opacity="0.86" stroke="#fff" stroke-opacity="0.25" stroke-width="0.25"/><circle cx="141.1" cy="124.9" r="1.21" fill="#c12b30" fill-opacity="0.86" stroke="#fff" stroke-opacity="0.25" stroke-width="0.25"/><circle cx="156.8" cy="103.8" r="1.29" fill="#c73635" fill-opacity="0.86" stroke="#fff" stroke-opacity="0.25" stroke-width="0.25"/><circle cx="136.1" cy="120.9" r="1.19" fill="#b40426" fill-opacity="0.86" stroke="#fff" stroke-opacity="0.25" stroke-width="0.25"/><circle cx="127.5" cy="125.5" r="1.16" fill="#b40426" fill-opacity="0.86" stroke="#fff" stroke-opacity="0.25" stroke-width="0.25"/><circle cx="126.2" cy="147.3" r="1.20" fill="#eb7d62" fill-opacity="0.86" stroke="#fff" stroke-opacity="0.25" stroke-width="0.25"/><circle cx="136.7" cy="130.2" r="1.12" fill="#d24b40" fill-opacity="0.86" stroke="#fff" stroke-opacity="0.25" stroke-width="0.25"/><circle cx="174.5" cy="90.8" r="1.00" fill="#f3c7b1" fill-opacity="0.86" stroke="#fff" stroke-opacity="0.25" stroke-width="0.25"/><circle cx="160.3" cy="103.4" r="1.12" fill="#cb3e38" fill-opacity="0.86" stroke="#fff" stroke-opacity="0.25" stroke-width="0.25"/><circle cx="167.3" cy="101.5" r="0.97" fill="#ef886b" fill-opacity="0.86" stroke="#fff" stroke-opacity="0.25" stroke-width="0.25"/><circle cx="148.7" cy="128.0" r="1.17" fill="#e7745b" fill-opacity="0.86" stroke="#fff" stroke-opacity="0.25" stroke-width="0.25"/><circle cx="124.6" cy="133.5" r="1.25" fill="#c83836" fill-opacity="0.86" stroke="#fff" stroke-opacity="0.25" stroke-width="0.25"/><circle cx="147.6" cy="121.5" r="1.27" fill="#c73635" fill-opacity="0.86" stroke="#fff" stroke-opacity="0.25" stroke-width="0.25"/><circle cx="137.4" cy="132.3" r="1.29" fill="#d75445" fill-opacity="0.86" stroke="#fff" stroke-opacity="0.25" stroke-width="0.25"/><circle cx="166.8" cy="95.5" r="1.26" fill="#f18f71" fill-opacity="0.86" stroke="#fff" stroke-opacity="0.25" stroke-width="0.25"/><circle cx="151.0" cy="124.0" r="1.18" fill="#e7745b" fill-opacity="0.86" stroke="#fff" stroke-opacity="0.25" stroke-width="0.25"/><circle cx="137.3" cy="116.7" r="1.19" fill="#b40426" fill-opacity="0.86" stroke="#fff" stroke-opacity="0.25" stroke-width="0.25"/><circle cx="152.9" cy="121.6" r="1.05" fill="#e7745b" fill-opacity="0.86" stroke="#fff" stroke-opacity="0.25" stroke-width="0.25"/><circle cx="161.2" cy="97.3" r="1.03" fill="#dd5f4b" fill-opacity="0.86" stroke="#fff" stroke-opacity="0.25" stroke-width="0.25"/><circle cx="143.5" cy="134.6" r="1.02" fill="#f29274" fill-opacity="0.86" stroke="#fff" stroke-opacity="0.25" stroke-width="0.25"/><circle cx="131.7" cy="146.3" r="1.28" fill="#f7ac8e" fill-opacity="0.86" stroke="#fff" stroke-opacity="0.25" stroke-width="0.25"/><circle cx="172.2" cy="99.2" r="1.06" fill="#ebd3c6" fill-opacity="0.86" stroke="#fff" stroke-opacity="0.25" stroke-width="0.25"/><circle cx="135.5" cy="137.3" r="1.05" fill="#f59f80" fill-opacity="0.86" stroke="#fff" stroke-opacity="0.25" stroke-width="0.25"/><circle cx="129.1" cy="138.9" r="0.98" fill="#dc5d4a" fill-opacity="0.86" stroke="#fff" stroke-opacity="0.25" stroke-width="0.25"/><circle cx="135.8" cy="140.4" r="0.96" fill="#f18d6f" fill-opacity="0.86" stroke="#fff" stroke-opacity="0.25" stroke-width="0.25"/><circle cx="163.8" cy="104.1" r="1.16" fill="#f08a6c" fill-opacity="0.86" stroke="#fff" stroke-opacity="0.25" stroke-width="0.25"/><circle cx="174.7" cy="99.1" r="1.18" fill="#f7b99e" fill-opacity="0.86" stroke="#fff" stroke-opacity="0.25" stroke-width="0.25"/><circle cx="154.1" cy="115.8" r="0.96" fill="#b40426" fill-opacity="0.86" stroke="#fff" stroke-opacity="0.25" stroke-width="0.25"/><circle cx="147.6" cy="112.3" r="1.20" fill="#b70d28" fill-opacity="0.86" stroke="#fff" stroke-opacity="0.25" stroke-width="0.25"/><circle cx="161.7" cy="108.0" r="1.24" fill="#e16751" fill-opacity="0.86" stroke="#fff" stroke-opacity="0.25" stroke-width="0.25"/><circle cx="168.3" cy="100.1" r="1.07" fill="#f5a081" fill-opacity="0.86" stroke="#fff" stroke-opacity="0.25" stroke-width="0.25"/><circle cx="137.2" cy="139.3" r="1.21" fill="#ea7b60" fill-opacity="0.86" stroke="#fff" stroke-opacity="0.25" stroke-width="0.25"/><circle cx="137.7" cy="121.4" r="1.30" fill="#c43032" fill-opacity="0.86" stroke="#fff" stroke-opacity="0.25" stroke-width="0.25"/><circle cx="130.4" cy="128.3" r="1.23" fill="#c43032" fill-opacity="0.86" stroke="#fff" stroke-opacity="0.25" stroke-width="0.25"/><circle cx="132.0" cy="134.7" r="0.98" fill="#d85646" fill-opacity="0.86" stroke="#fff" stroke-opacity="0.25" stroke-width="0.25"/><circle cx="158.1" cy="106.8" r="1.23" fill="#b40426" fill-opacity="0.86" stroke="#fff" stroke-opacity="0.25" stroke-width="0.25"/><circle cx="145.1" cy="129.9" r="1.12" fill="#eb7d62" fill-opacity="0.86" stroke="#fff" stroke-opacity="0.25" stroke-width="0.25"/><circle cx="148.3" cy="119.3" r="1.16" fill="#d0473d" fill-opacity="0.86" stroke="#fff" stroke-opacity="0.25" stroke-width="0.25"/><circle cx="164.8" cy="106.5" r="1.17" fill="#f18d6f" fill-opacity="0.86" stroke="#fff" stroke-opacity="0.25" stroke-width="0.25"/><circle cx="153.9" cy="102.3" r="1.25" fill="#b40426" fill-opacity="0.86" stroke="#fff" stroke-opacity="0.25" stroke-width="0.25"/><circle cx="164.6" cy="103.3" r="1.00" fill="#ee8468" fill-opacity="0.86" stroke="#fff" stroke-opacity="0.25" stroke-width="0.25"/><circle cx="157.8" cy="120.0" r="1.16" fill="#f39577" fill-opacity="0.86" stroke="#fff" stroke-opacity="0.25" stroke-width="0.25"/><circle cx="124.1" cy="135.9" r="1.06" fill="#b40426" fill-opacity="0.86" stroke="#fff" stroke-opacity="0.25" stroke-width="0.25"/><circle cx="128.6" cy="133.4" r="1.17" fill="#d75445" fill-opacity="0.86" stroke="#fff" stroke-opacity="0.25" stroke-width="0.25"/><circle cx="140.4" cy="128.2" r="1.05" fill="#b40426" fill-opacity="0.86" stroke="#fff" stroke-opacity="0.25" stroke-width="0.25"/><circle cx="175.9" cy="95.3" r="1.24" fill="#f7b79b" fill-opacity="0.86" stroke="#fff" stroke-opacity="0.25" stroke-width="0.25"/><circle cx="120.9" cy="140.7" r="1.26" fill="#d55042" fill-opacity="0.86" stroke="#fff" stroke-opacity="0.25" stroke-width="0.25"/><circle cx="164.1" cy="107.2" r="1.18" fill="#e46e56" fill-opacity="0.86" stroke="#fff" stroke-opacity="0.25" stroke-width="0.25"/><circle cx="158.0" cy="110.4" r="1.11" fill="#dc5d4a" fill-opacity="0.86" stroke="#fff" stroke-opacity="0.25" stroke-width="0.25"/><circle cx="142.1" cy="135.2" r="0.95" fill="#f18f71" fill-opacity="0.86" stroke="#fff" stroke-opacity="0.25" stroke-width="0.25"/><circle cx="153.9" cy="120.6" r="1.24" fill="#e8765c" fill-opacity="0.86" stroke="#fff" stroke-opacity="0.25" stroke-width="0.25"/><circle cx="152.5" cy="117.1" r="0.95" fill="#b40426" fill-opacity="0.86" stroke="#fff" stroke-opacity="0.25" stroke-width="0.25"/><circle cx="119.7" cy="134.5" r="1.01" fill="#d75445" fill-opacity="0.86" stroke="#fff" stroke-opacity="0.25" stroke-width="0.25"/><circle cx="125.6" cy="134.3" r="0.96" fill="#b40426" fill-opacity="0.86" stroke="#fff" stroke-opacity="0.25" stroke-width="0.25"/><circle cx="135.4" cy="117.6" r="0.96" fill="#c0282f" fill-opacity="0.86" stroke="#fff" stroke-opacity="0.25" stroke-width="0.25"/><circle cx="144.2" cy="114.6" r="1.16" fill="#be242e" fill-opacity="0.86" stroke="#fff" stroke-opacity="0.25" stroke-width="0.25"/><circle cx="147.7" cy="125.4" r="0.97" fill="#d0473d" fill-opacity="0.86" stroke="#fff" stroke-opacity="0.25" stroke-width="0.25"/><circle cx="158.3" cy="108.3" r="0.97" fill="#b70d28" fill-opacity="0.86" stroke="#fff" stroke-opacity="0.25" stroke-width="0.25"/><circle cx="136.3" cy="135.0" r="1.08" fill="#e46e56" fill-opacity="0.86" stroke="#fff" stroke-opacity="0.25" stroke-width="0.25"/><circle cx="127.9" cy="143.0" r="1.09" fill="#d75445" fill-opacity="0.86" stroke="#fff" stroke-opacity="0.25" stroke-width="0.25"/><circle cx="115.9" cy="137.9" r="1.21" fill="#d1493f" fill-opacity="0.86" stroke="#fff" stroke-opacity="0.25" stroke-width="0.25"/><circle cx="161.0" cy="110.2" r="1.17" fill="#df634e" fill-opacity="0.86" stroke="#fff" stroke-opacity="0.25" stroke-width="0.25"/><circle cx="149.2" cy="111.1" r="0.99" fill="#b40426" fill-opacity="0.86" stroke="#fff" stroke-opacity="0.25" stroke-width="0.25"/><circle cx="153.2" cy="104.2" r="1.13" fill="#cb3e38" fill-opacity="0.86" stroke="#fff" stroke-opacity="0.25" stroke-width="0.25"/><circle cx="123.1" cy="148.3" r="1.00" fill="#f59f80" fill-opacity="0.86" stroke="#fff" stroke-opacity="0.25" stroke-width="0.25"/><circle cx="110.9" cy="150.3" r="1.22" fill="#f6bda2" fill-opacity="0.86" stroke="#fff" stroke-opacity="0.25" stroke-width="0.25"/><circle cx="123.2" cy="143.9" r="1.20" fill="#f6a586" fill-opacity="0.86" stroke="#fff" stroke-opacity="0.25" stroke-width="0.25"/><circle cx="152.8" cy="124.8" r="1.05" fill="#ef886b" fill-opacity="0.86" stroke="#fff" stroke-opacity="0.25" stroke-width="0.25"/><circle cx="138.2" cy="131.6" r="1.28" fill="#e46e56" fill-opacity="0.86" stroke="#fff" stroke-opacity="0.25" stroke-width="0.25"/><circle cx="167.8" cy="101.7" r="1.05" fill="#eb7d62" fill-opacity="0.86" stroke="#fff" stroke-opacity="0.25" stroke-width="0.25"/><circle cx="146.8" cy="119.1" r="1.13" fill="#b40426" fill-opacity="0.86" stroke="#fff" stroke-opacity="0.25" stroke-width="0.25"/><circle cx="149.5" cy="110.9" r="1.25" fill="#b40426" fill-opacity="0.86" stroke="#fff" stroke-opacity="0.25" stroke-width="0.25"/><circle cx="142.6" cy="133.2" r="1.00" fill="#f08a6c" fill-opacity="0.86" stroke="#fff" stroke-opacity="0.25" stroke-width="0.25"/><circle cx="152.1" cy="109.8" r="1.05" fill="#c83836" fill-opacity="0.86" stroke="#fff" stroke-opacity="0.25" stroke-width="0.25"/><circle cx="137.2" cy="117.0" r="1.16" fill="#ba162b" fill-opacity="0.86" stroke="#fff" stroke-opacity="0.25" stroke-width="0.25"/><circle cx="130.1" cy="124.6" r="1.10" fill="#c73635" fill-opacity="0.86" stroke="#fff" stroke-opacity="0.25" stroke-width="0.25"/><circle cx="158.6" cy="107.9" r="1.02" fill="#cb3e38" fill-opacity="0.86" stroke="#fff" stroke-opacity="0.25" stroke-width="0.25"/><circle cx="135.2" cy="127.7" r="0.96" fill="#b50927" fill-opacity="0.86" stroke="#fff" stroke-opacity="0.25" stroke-width="0.25"/><circle cx="158.8" cy="98.6" r="1.04" fill="#cc403a" fill-opacity="0.86" stroke="#fff" stroke-opacity="0.25" stroke-width="0.25"/><circle cx="149.0" cy="123.3" r="1.26" fill="#dc5d4a" fill-opacity="0.86" stroke="#fff" stroke-opacity="0.25" stroke-width="0.25"/><circle cx="131.2" cy="134.8" r="1.22" fill="#d55042" fill-opacity="0.86" stroke="#fff" stroke-opacity="0.25" stroke-width="0.25"/><circle cx="134.7" cy="139.7" r="1.24" fill="#e67259" fill-opacity="0.86" stroke="#fff" stroke-opacity="0.25" stroke-width="0.25"/><circle cx="122.4" cy="150.3" r="1.30" fill="#f6bfa6" fill-opacity="0.86" stroke="#fff" stroke-opacity="0.25" stroke-width="0.25"/><circle cx="138.8" cy="123.7" r="1.09" fill="#b40426" fill-opacity="0.86" stroke="#fff" stroke-opacity="0.25" stroke-width="0.25"/><circle cx="127.8" cy="145.5" r="1.24" fill="#e57058" fill-opacity="0.86" stroke="#fff" stroke-opacity="0.25" stroke-width="0.25"/><circle cx="156.1" cy="106.9" r="1.24" fill="#bb1b2c" fill-opacity="0.86" stroke="#fff" stroke-opacity="0.25" stroke-width="0.25"/><circle cx="160.3" cy="107.3" r="1.13" fill="#d65244" fill-opacity="0.86" stroke="#fff" stroke-opacity="0.25" stroke-width="0.25"/><circle cx="140.8" cy="113.9" r="0.97" fill="#b40426" fill-opacity="0.86" stroke="#fff" stroke-opacity="0.25" stroke-width="0.25"/><circle cx="124.8" cy="129.4" r="1.07" fill="#b8122a" fill-opacity="0.86" stroke="#fff" stroke-opacity="0.25" stroke-width="0.25"/><circle cx="154.8" cy="110.3" r="1.04" fill="#d24b40" fill-opacity="0.86" stroke="#fff" stroke-opacity="0.25" stroke-width="0.25"/><circle cx="145.5" cy="125.0" r="1.01" fill="#cb3e38" fill-opacity="0.86" stroke="#fff" stroke-opacity="0.25" stroke-width="0.25"/><circle cx="154.2" cy="103.4" r="1.27" fill="#b40426" fill-opacity="0.86" stroke="#fff" stroke-opacity="0.25" stroke-width="0.25"/><circle cx="137.1" cy="118.9" r="1.11" fill="#b40426" fill-opacity="0.86" stroke="#fff" stroke-opacity="0.25" stroke-width="0.25"/><circle cx="146.0" cy="114.0" r="1.23" fill="#b40426" fill-opacity="0.86" stroke="#fff" stroke-opacity="0.25" stroke-width="0.25"/><circle cx="151.8" cy="105.1" r="1.25" fill="#b40426" fill-opacity="0.86" stroke="#fff" stroke-opacity="0.25" stroke-width="0.25"/><circle cx="105.6" cy="151.0" r="1.23" fill="#f5c4ac" fill-opacity="0.86" stroke="#fff" stroke-opacity="0.25" stroke-width="0.25"/><circle cx="130.2" cy="127.3" r="1.15" fill="#c0282f" fill-opacity="0.86" stroke="#fff" stroke-opacity="0.25" stroke-width="0.25"/><circle cx="133.0" cy="119.8" r="1.20" fill="#b40426" fill-opacity="0.86" stroke="#fff" stroke-opacity="0.25" stroke-width="0.25"/><circle cx="141.9" cy="120.7" r="1.13" fill="#b50927" fill-opacity="0.86" stroke="#fff" stroke-opacity="0.25" stroke-width="0.25"/><circle cx="138.6" cy="131.3" r="1.06" fill="#c83836" fill-opacity="0.86" stroke="#fff" stroke-opacity="0.25" stroke-width="0.25"/><circle cx="114.7" cy="141.0" r="1.09" fill="#ec8165" fill-opacity="0.86" stroke="#fff" stroke-opacity="0.25" stroke-width="0.25"/><circle cx="128.5" cy="146.1" r="1.15" fill="#de614d" fill-opacity="0.86" stroke="#fff" stroke-opacity="0.25" stroke-width="0.25"/><circle cx="159.8" cy="98.4" r="1.05" fill="#dd5f4b" fill-opacity="0.86" stroke="#fff" stroke-opacity="0.25" stroke-width="0.25"/><circle cx="155.7" cy="107.3" r="1.11" fill="#d55042" fill-opacity="0.86" stroke="#fff" stroke-opacity="0.25" stroke-width="0.25"/><circle cx="150.2" cy="121.6" r="1.10" fill="#e26952" fill-opacity="0.86" stroke="#fff" stroke-opacity="0.25" stroke-width="0.25"/><circle cx="134.4" cy="143.6" r="0.96" fill="#f6a283" fill-opacity="0.86" stroke="#fff" stroke-opacity="0.25" stroke-width="0.25"/><circle cx="127.0" cy="134.2" r="1.21" fill="#d65244" fill-opacity="0.86" stroke="#fff" stroke-opacity="0.25" stroke-width="0.25"/><circle cx="143.2" cy="128.1" r="1.09" fill="#e36c55" fill-opacity="0.86" stroke="#fff" stroke-opacity="0.25" stroke-width="0.25"/><circle cx="117.2" cy="144.8" r="1.23" fill="#d44e41" fill-opacity="0.86" stroke="#fff" stroke-opacity="0.25" stroke-width="0.25"/><circle cx="120.3" cy="148.8" r="1.09" fill="#f39778" fill-opacity="0.86" stroke="#fff" stroke-opacity="0.25" stroke-width="0.25"/><circle cx="153.2" cy="120.6" r="1.16" fill="#dc5d4a" fill-opacity="0.86" stroke="#fff" stroke-opacity="0.25" stroke-width="0.25"/><circle cx="126.7" cy="141.9" r="1.19" fill="#dd5f4b" fill-opacity="0.86" stroke="#fff" stroke-opacity="0.25" stroke-width="0.25"/><circle cx="157.3" cy="106.6" r="1.30" fill="#bb1b2c" fill-opacity="0.86" stroke="#fff" stroke-opacity="0.25" stroke-width="0.25"/><circle cx="161.4" cy="111.7" r="1.22" fill="#d75445" fill-opacity="0.86" stroke="#fff" stroke-opacity="0.25" stroke-width="0.25"/><circle cx="166.4" cy="106.6" r="1.19" fill="#e36b54" fill-opacity="0.86" stroke="#fff" stroke-opacity="0.25" stroke-width="0.25"/><circle cx="164.7" cy="102.3" r="1.22" fill="#f59c7d" fill-opacity="0.86" stroke="#fff" stroke-opacity="0.25" stroke-width="0.25"/><circle cx="171.0" cy="100.2" r="1.11" fill="#f2cbb7" fill-opacity="0.86" stroke="#fff" stroke-opacity="0.25" stroke-width="0.25"/><circle cx="152.2" cy="106.3" r="1.29" fill="#b40426" fill-opacity="0.86" stroke="#fff" stroke-opacity="0.25" stroke-width="0.25"/><circle cx="107.7" cy="143.2" r="0.97" fill="#f6a283" fill-opacity="0.86" stroke="#fff" stroke-opacity="0.25" stroke-width="0.25"/><circle cx="112.0" cy="141.4" r="1.11" fill="#dd5f4b" fill-opacity="0.86" stroke="#fff" stroke-opacity="0.25" stroke-width="0.25"/><circle cx="158.9" cy="101.3" r="1.05" fill="#cc403a" fill-opacity="0.86" stroke="#fff" stroke-opacity="0.25" stroke-width="0.25"/><circle cx="140.6" cy="132.6" r="1.13" fill="#eb7d62" fill-opacity="0.86" stroke="#fff" stroke-opacity="0.25" stroke-width="0.25"/><circle cx="145.6" cy="110.7" r="1.18" fill="#b40426" fill-opacity="0.86" stroke="#fff" stroke-opacity="0.25" stroke-width="0.25"/><circle cx="158.0" cy="106.0" r="1.05" fill="#c0282f" fill-opacity="0.86" stroke="#fff" stroke-opacity="0.25" stroke-width="0.25"/><circle cx="127.6" cy="134.4" r="1.11" fill="#cb3e38" fill-opacity="0.86" stroke="#fff" stroke-opacity="0.25" stroke-width="0.25"/><circle cx="150.1" cy="111.1" r="1.17" fill="#b40426" fill-opacity="0.86" stroke="#fff" stroke-opacity="0.25" stroke-width="0.25"/><circle cx="146.2" cy="120.7" r="1.22" fill="#b50927" fill-opacity="0.86" stroke="#fff" stroke-opacity="0.25" stroke-width="0.25"/><circle cx="154.7" cy="121.2" r="1.01" fill="#e57058" fill-opacity="0.86" stroke="#fff" stroke-opacity="0.25" stroke-width="0.25"/><circle cx="124.3" cy="129.3" r="1.19" fill="#ba162b" fill-opacity="0.86" stroke="#fff" stroke-opacity="0.25" stroke-width="0.25"/><circle cx="165.3" cy="91.4" r="1.19" fill="#f59d7e" fill-opacity="0.86" stroke="#fff" stroke-opacity="0.25" stroke-width="0.25"/><circle cx="125.6" cy="135.3" r="0.98" fill="#cb3e38" fill-opacity="0.86" stroke="#fff" stroke-opacity="0.25" stroke-width="0.25"/><circle cx="142.3" cy="122.2" r="1.05" fill="#b40426" fill-opacity="0.86" stroke="#fff" stroke-opacity="0.25" stroke-width="0.25"/><circle cx="122.6" cy="150.7" r="1.02" fill="#f6bda2" fill-opacity="0.86" stroke="#fff" stroke-opacity="0.25" stroke-width="0.25"/><circle cx="163.7" cy="105.9" r="1.16" fill="#ea7b60" fill-opacity="0.86" stroke="#fff" stroke-opacity="0.25" stroke-width="0.25"/><circle cx="154.5" cy="119.6" r="1.03" fill="#cd423b" fill-opacity="0.86" stroke="#fff" stroke-opacity="0.25" stroke-width="0.25"/><circle cx="141.4" cy="117.2" r="1.04" fill="#b40426" fill-opacity="0.86" stroke="#fff" stroke-opacity="0.25" stroke-width="0.25"/><circle cx="170.5" cy="92.9" r="1.16" fill="#f4c5ad" fill-opacity="0.86" stroke="#fff" stroke-opacity="0.25" stroke-width="0.25"/><circle cx="168.0" cy="108.8" r="1.01" fill="#f18d6f" fill-opacity="0.86" stroke="#fff" stroke-opacity="0.25" stroke-width="0.25"/><circle cx="124.8" cy="138.6" r="1.28" fill="#b70d28" fill-opacity="0.86" stroke="#fff" stroke-opacity="0.25" stroke-width="0.25"/><circle cx="111.3" cy="150.2" r="0.98" fill="#f6bea4" fill-opacity="0.86" stroke="#fff" stroke-opacity="0.25" stroke-width="0.25"/><circle cx="126.6" cy="135.5" r="1.09" fill="#c83836" fill-opacity="0.86" stroke="#fff" stroke-opacity="0.25" stroke-width="0.25"/><circle cx="175.3" cy="85.6" r="1.06" fill="#f5c4ac" fill-opacity="0.86" stroke="#fff" stroke-opacity="0.25" stroke-width="0.25"/><circle cx="118.0" cy="145.9" r="1.20" fill="#f29072" fill-opacity="0.86" stroke="#fff" stroke-opacity="0.25" stroke-width="0.25"/><circle cx="128.3" cy="146.0" r="0.99" fill="#e36b54" fill-opacity="0.86" stroke="#fff" stroke-opacity="0.25" stroke-width="0.25"/><circle cx="138.8" cy="126.2" r="1.12" fill="#a2c1ff" fill-opacity="0.85" stroke="#fff" stroke-opacity="0.25" stroke-width="0.25"/><circle cx="145.5" cy="108.6" r="1.04" fill="#688aef" fill-opacity="0.85" stroke="#fff" stroke-opacity="0.25" stroke-width="0.25"/><circle cx="126.4" cy="132.8" r="1.26" fill="#88abfd" fill-opacity="0.85" stroke="#fff" stroke-opacity="0.25" stroke-width="0.25"/><circle cx="166.7" cy="102.9" r="1.29" fill="#a9c6fd" fill-opacity="0.85" stroke="#fff" stroke-opacity="0.25" stroke-width="0.25"/><circle cx="127.2" cy="135.4" r="1.22" fill="#7ea1fa" fill-opacity="0.85" stroke="#fff" stroke-opacity="0.25" stroke-width="0.25"/><circle cx="166.8" cy="91.8" r="1.28" fill="#a3c2fe" fill-opacity="0.85" stroke="#fff" stroke-opacity="0.25" stroke-width="0.25"/><circle cx="167.9" cy="102.7" r="1.02" fill="#6180e9" fill-opacity="0.85" stroke="#fff" stroke-opacity="0.25" stroke-width="0.25"/><circle cx="167.9" cy="101.6" r="1.15" fill="#6f92f3" fill-opacity="0.85" stroke="#fff" stroke-opacity="0.25" stroke-width="0.25"/><circle cx="146.4" cy="122.0" r="1.01" fill="#7a9df8" fill-opacity="0.85" stroke="#fff" stroke-opacity="0.25" stroke-width="0.25"/><circle cx="131.5" cy="121.7" r="1.17" fill="#81a4fb" fill-opacity="0.85" stroke="#fff" stroke-opacity="0.25" stroke-width="0.25"/><circle cx="138.2" cy="128.9" r="1.03" fill="#81a4fb" fill-opacity="0.85" stroke="#fff" stroke-opacity="0.25" stroke-width="0.25"/><circle cx="158.8" cy="111.2" r="1.17" fill="#7699f6" fill-opacity="0.85" stroke="#fff" stroke-opacity="0.25" stroke-width="0.25"/><circle cx="140.2" cy="122.1" r="1.06" fill="#6687ed" fill-opacity="0.85" stroke="#fff" stroke-opacity="0.25" stroke-width="0.25"/><circle cx="114.3" cy="135.6" r="1.29" fill="#7da0f9" fill-opacity="0.85" stroke="#fff" stroke-opacity="0.25" stroke-width="0.25"/><circle cx="115.5" cy="135.2" r="1.16" fill="#6687ed" fill-opacity="0.85" stroke="#fff" stroke-opacity="0.25" stroke-width="0.25"/><circle cx="142.4" cy="119.4" r="1.30" fill="#8badfd" fill-opacity="0.85" stroke="#fff" stroke-opacity="0.25" stroke-width="0.25"/><circle cx="149.6" cy="112.4" r="1.01" fill="#a2c1ff" fill-opacity="0.85" stroke="#fff" stroke-opacity="0.25" stroke-width="0.25"/><circle cx="160.6" cy="103.3" r="1.05" fill="#7597f6" fill-opacity="0.85" stroke="#fff" stroke-opacity="0.25" stroke-width="0.25"/><circle cx="156.3" cy="112.5" r="1.29" fill="#98b9ff" fill-opacity="0.85" stroke="#fff" stroke-opacity="0.25" stroke-width="0.25"/><circle cx="167.6" cy="88.5" r="1.20" fill="#a2c1ff" fill-opacity="0.85" stroke="#fff" stroke-opacity="0.25" stroke-width="0.25"/><circle cx="141.7" cy="118.5" r="1.20" fill="#9fbfff" fill-opacity="0.85" stroke="#fff" stroke-opacity="0.25" stroke-width="0.25"/><circle cx="166.4" cy="96.9" r="1.10" fill="#799cf8" fill-opacity="0.85" stroke="#fff" stroke-opacity="0.25" stroke-width="0.25"/><circle cx="138.1" cy="122.0" r="1.08" fill="#98b9ff" fill-opacity="0.85" stroke="#fff" stroke-opacity="0.25" stroke-width="0.25"/><circle cx="135.2" cy="118.3" r="1.24" fill="#85a8fc" fill-opacity="0.85" stroke="#fff" stroke-opacity="0.25" stroke-width="0.25"/><circle cx="121.7" cy="131.1" r="1.19" fill="#6c8ff1" fill-opacity="0.85" stroke="#fff" stroke-opacity="0.25" stroke-width="0.25"/><circle cx="136.4" cy="115.6" r="1.02" fill="#9dbdff" fill-opacity="0.85" stroke="#fff" stroke-opacity="0.25" stroke-width="0.25"/><polyline points="25.8,160.6 120.6,160.6 176.8,111.3" fill="none" stroke="#2fa82f" stroke-width="1.85" stroke-dasharray="4.5 1.9" stroke-dashoffset="0.0"/><polyline points="176.8,111.3 176.8,18.0" fill="none" stroke="#2fa82f" stroke-width="1.55" stroke-dasharray="4.5 1.9" stroke-dashoffset="3.2"/><polyline points="25.8,152.6 129.6,152.6 184.8,104.3" fill="none" stroke="#2a2aec" stroke-width="1.85" stroke-dasharray="4.5 1.9" stroke-dashoffset="5.5"/><polyline points="184.8,104.3 184.8,18.0" fill="none" stroke="#2a2aec" stroke-width="1.55" stroke-dasharray="4.5 1.9" stroke-dashoffset="3.5"/><polyline points="25.8,152.6 131.4,152.6 192.7,98.9" fill="none" stroke="#f03030" stroke-width="1.85" stroke-dasharray="4.5 1.9" stroke-dashoffset="0.0"/><polyline points="192.7,98.9 192.7,18.0" fill="none" stroke="#f03030" stroke-width="1.55" stroke-dasharray="4.5 1.9" stroke-dashoffset="1.6"/><rect x="26.4" y="18.5" width="277.6" height="276.8" fill="none" stroke="#333" stroke-width="0.7"/><line x1="65.5" y1="295.3" x2="65.5" y2="292.9" stroke="#333" stroke-width="0.6"/><text x="65.9" y="308.3" text-anchor="middle" class="tk">0</text><line x1="145.0" y1="295.3" x2="145.0" y2="292.9" stroke="#333" stroke-width="0.6"/><text x="145.4" y="308.3" text-anchor="middle" class="tk">1</text><line x1="224.5" y1="295.3" x2="224.5" y2="292.9" stroke="#333" stroke-width="0.6"/><text x="224.9" y="308.3" text-anchor="middle" class="tk">2</text><line x1="304.0" y1="295.3" x2="304.0" y2="292.9" stroke="#333" stroke-width="0.6"/><text x="304.4" y="308.3" text-anchor="middle" class="tk">3</text><line x1="26.4" y1="255.6" x2="28.8" y2="255.6" stroke="#333" stroke-width="0.6"/><text x="24.8" y="261.5" text-anchor="end" class="tk">0</text><line x1="26.4" y1="176.4" x2="28.8" y2="176.4" stroke="#333" stroke-width="0.6"/><text x="24.8" y="182.3" text-anchor="end" class="tk">1</text><line x1="26.4" y1="97.2" x2="28.8" y2="97.2" stroke="#333" stroke-width="0.6"/><text x="24.8" y="103.1" text-anchor="end" class="tk">2</text><line x1="26.4" y1="18.0" x2="28.8" y2="18.0" stroke="#333" stroke-width="0.6"/><text x="24.8" y="23.9" text-anchor="end" class="tk">3</text><line x1="35.9" y1="32.7" x2="58.6" y2="32.7" stroke="#28a028" stroke-width="1.25" stroke-dasharray="3.7 1.6"/><text x="67.2" y="36.7" class="lg" textLength="94.4" lengthAdjust="spacing">Whitaker et al (2012)</text><line x1="35.9" y1="49.1" x2="58.6" y2="49.1" stroke="#3c3cf5" stroke-width="1.25" stroke-dasharray="3.7 1.6"/><text x="67.2" y="53.1" class="lg" textLength="85.2" lengthAdjust="spacing">Muzzin et al (2013)</text><line x1="35.9" y1="65.9" x2="58.6" y2="65.9" stroke="#f53232" stroke-width="1.25" stroke-dasharray="3.7 1.6"/><text x="67.2" y="69.9" class="lg" textLength="99.9" lengthAdjust="spacing">Straatman et al (2014)</text><text x="60.2" y="15.2" textLength="209.8" lengthAdjust="spacing" class="ti">Rest-frame UVJ selection</text><text transform="translate(0,325.4) scale(1,0.95)" y="0" class="xl"><tspan x="142.7" textLength="14" lengthAdjust="spacingAndGlyphs">V</tspan><tspan x="160.2" dy="1" textLength="13" lengthAdjust="spacingAndGlyphs" class="mn">−</tspan><tspan x="178.0" dy="-1" textLength="10.2" lengthAdjust="spacingAndGlyphs">J</tspan></text><g transform="translate(12.0,0) rotate(-90) scale(1,0.95)"><text y="0" class="xl"><tspan x="-178.6" textLength="12" lengthAdjust="spacingAndGlyphs">U</tspan><tspan x="-161.8" dy="0.8" textLength="13" lengthAdjust="spacingAndGlyphs" class="mn">−</tspan><tspan x="-147.2" dy="-0.8" textLength="14.5" lengthAdjust="spacingAndGlyphs">V</tspan></text></g>
</svg>
</body></html>
